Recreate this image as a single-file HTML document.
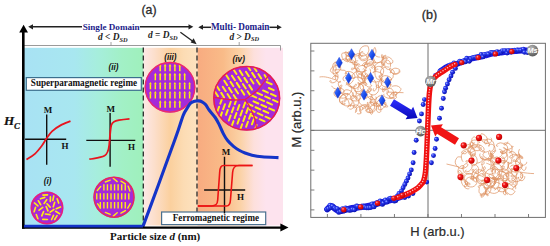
<!DOCTYPE html>
<html><head><meta charset="utf-8"><style>
html,body{margin:0;padding:0;background:#fff;}
body{width:550px;height:246px;overflow:hidden;}
svg{display:block;font-family:"Liberation Sans",sans-serif;}
</style></head><body>
<svg width="550" height="246" viewBox="0 0 550 246">
<rect width="550" height="246" fill="#fff"/>
<defs>
<linearGradient id="g1" x1="0" x2="1" y1="0" y2="0"><stop offset="0" stop-color="#a8e2f4"/><stop offset="0.42" stop-color="#a8e7f0"/><stop offset="0.62" stop-color="#a6eedc"/><stop offset="0.82" stop-color="#a2f0c6"/><stop offset="1" stop-color="#9ff0bc"/></linearGradient>
<linearGradient id="g2" x1="0" x2="1" y1="0" y2="0"><stop offset="0" stop-color="#fde8e6"/><stop offset="0.2" stop-color="#fcdfcc"/><stop offset="0.5" stop-color="#fbd09e"/><stop offset="0.75" stop-color="#fcdcb4"/><stop offset="1" stop-color="#fde2c0"/></linearGradient>
<linearGradient id="g3" x1="0" x2="1" y1="0" y2="0"><stop offset="0" stop-color="#f8ab80"/><stop offset="0.3" stop-color="#f9bb88"/><stop offset="0.5" stop-color="#fbd2a6"/><stop offset="0.66" stop-color="#fde0dc"/><stop offset="0.8" stop-color="#fde3ee"/><stop offset="1" stop-color="#fde3ee"/></linearGradient>
<radialGradient id="bd" cx="0.35" cy="0.35" r="0.65"><stop offset="0" stop-color="#a8b4ff"/><stop offset="0.35" stop-color="#2a3cf0"/><stop offset="1" stop-color="#0a10b0"/></radialGradient>
<radialGradient id="rd" cx="0.35" cy="0.35" r="0.65"><stop offset="0" stop-color="#ffb0b0"/><stop offset="0.35" stop-color="#f51a1a"/><stop offset="1" stop-color="#c00000"/></radialGradient>
<radialGradient id="gc" cx="0.4" cy="0.3" r="0.75"><stop offset="0" stop-color="#bcbcbc"/><stop offset="0.5" stop-color="#858585"/><stop offset="1" stop-color="#555"/></radialGradient>
<linearGradient id="dia" x1="0" x2="1" y1="0" y2="1"><stop offset="0" stop-color="#5a8cff"/><stop offset="0.5" stop-color="#1c50f0"/><stop offset="1" stop-color="#0c2cc0"/></linearGradient>
<linearGradient id="barr" x1="0" x2="0" y1="0" y2="1"><stop offset="0" stop-color="#3030ff"/><stop offset="1" stop-color="#0808b8"/></linearGradient>
<clipPath id="c1"><circle cx="47" cy="208" r="15.5"/></clipPath>
<clipPath id="c2"><circle cx="114" cy="197.2" r="19.7"/></clipPath>
<clipPath id="c3"><circle cx="170" cy="87.3" r="24.6"/></clipPath>
<clipPath id="c4"><ellipse cx="246.7" cy="98.3" rx="32.8" ry="31.6"/></clipPath>
</defs>
<rect x="24" y="47.8" width="119.5" height="177.7" fill="url(#g1)"/>
<rect x="143.5" y="47.8" width="54" height="177.7" fill="url(#g2)"/>
<rect x="197.5" y="47.8" width="85.5" height="177.7" fill="url(#g3)"/>
<line x1="143.3" y1="47.5" x2="143.3" y2="225" stroke="#2a2a2a" stroke-width="1.3" stroke-dasharray="5,3"/>
<line x1="197" y1="47.5" x2="197" y2="225" stroke="#2a2a2a" stroke-width="1.3" stroke-dasharray="5,3"/>
<path d="M24,45.5 H280.5 V50.5" fill="none" stroke="#9a9a9a" stroke-width="1"/>
<path d="M111,42 V45.5 M239.2,42 V45.5" fill="none" stroke="#8a8a8a" stroke-width="0.8"/>
<text x="141.5" y="14" font-family="Liberation Sans" font-size="12.3" fill="#2a2a2a" stroke="#2a2a2a" stroke-width="0.3">(a)</text>
<line x1="31" y1="26.8" x2="82" y2="26.8" stroke="#222" stroke-width="1.5"/>
<path d="M28.2,26.8 L33,24.2 L33,29.4 Z" fill="#222"/>
<text x="82.7" y="29.7" font-family="Liberation Serif" font-weight="bold" font-size="9.2" fill="#1c1c8a" textLength="57" lengthAdjust="spacingAndGlyphs">Single Domain</text>
<line x1="139.8" y1="26.8" x2="190" y2="26.8" stroke="#222" stroke-width="1.5"/>
<path d="M193.3,26.8 L188.5,24.2 L188.5,29.4 Z" fill="#222"/>
<line x1="201" y1="27.3" x2="211" y2="27.3" stroke="#222" stroke-width="1.5"/>
<path d="M198.3,27.3 L203,24.8 L203,29.8 Z" fill="#222"/>
<text x="210.9" y="30.3" font-family="Liberation Serif" font-weight="bold" font-size="9.3" fill="#1c1c8a" textLength="58.6" lengthAdjust="spacingAndGlyphs">Multi- Domain</text>
<line x1="269.5" y1="27.3" x2="279" y2="27.3" stroke="#222" stroke-width="1.5"/>
<path d="M281.8,27.3 L277,24.8 L277,29.8 Z" fill="#222"/>
<text x="98" y="40" font-family="Liberation Serif" font-weight="bold" font-size="9.4" fill="#222"><tspan font-style="italic">d</tspan> &lt; <tspan font-style="italic">D</tspan><tspan font-style="italic" font-size="6.3" dy="1.8">SD</tspan></text>
<text x="148" y="37.8" font-family="Liberation Serif" font-weight="bold" font-size="9.4" fill="#222"><tspan font-style="italic">d</tspan> = <tspan font-style="italic">D</tspan><tspan font-style="italic" font-size="6.3" dy="1.8">SD</tspan></text>
<text x="229.4" y="39.5" font-family="Liberation Serif" font-weight="bold" font-size="9.4" fill="#222"><tspan font-style="italic">d</tspan> &gt; <tspan font-style="italic">D</tspan><tspan font-style="italic" font-size="6.3" dy="1.8">SD</tspan></text>
<line x1="180.4" y1="32.3" x2="193.5" y2="41.8" stroke="#222" stroke-width="1.3"/>
<path d="M196.6,44.2 L190.6,42.4 L193.6,38.3 Z" fill="#222"/>
<text x="108.6" y="69.5" font-family="Liberation Sans" font-weight="bold" font-style="italic" font-size="8.2" fill="#111">(ii)</text>
<text x="164.2" y="59.5" font-family="Liberation Sans" font-weight="bold" font-style="italic" font-size="8.2" fill="#111">(iii)</text>
<text x="232.6" y="62.4" font-family="Liberation Sans" font-weight="bold" font-style="italic" font-size="8.2" fill="#111">(iv)</text>
<text x="43.8" y="183.6" font-family="Liberation Sans" font-weight="bold" font-style="italic" font-size="8.2" fill="#111">(i)</text>
<rect x="26.3" y="77.6" width="115" height="12.7" fill="#fff" stroke="#3b6f8e" stroke-width="1.2"/>
<text x="30.8" y="86.3" font-family="Liberation Serif" font-weight="bold" font-size="9.7" fill="#111" textLength="106.3" lengthAdjust="spacingAndGlyphs">Superparamagnetic regime</text>
<rect x="161.6" y="212" width="104.1" height="12.6" fill="#fff" stroke="#4a7090" stroke-width="1.2"/>
<text x="172.8" y="221.4" font-family="Liberation Serif" font-weight="bold" font-size="9.5" fill="#111" textLength="86.2" lengthAdjust="spacingAndGlyphs">Ferromagnetic regime</text>
<path d="M46.7,114.5 V164.8 M25.1,139.3 H66.2" stroke="#111" stroke-width="1.4" fill="none"/><text x="43.8" y="112.6" font-family="Liberation Serif" font-weight="bold" font-size="9" fill="#111">M</text><text x="61.4" y="149" font-family="Liberation Serif" font-weight="bold" font-size="9" fill="#111">H</text>
<path d="M26.4,159.6 C27.82,158.63 32.3,156.15 34.9,153.8 C37.5,151.45 40.1,148 42,145.5 C43.9,143 44.63,141.17 46.3,138.8 C47.97,136.43 49.63,133.53 52,131.3 C54.37,129.07 57.42,127.08 60.5,125.4 C63.58,123.72 68.83,121.9 70.5,121.2" fill="none" stroke="#e8141e" stroke-width="1.8"/>
<path d="M110.1,113 V166.8 M86.3,140.4 H135.3" stroke="#111" stroke-width="1.4" fill="none"/><text x="106.6" y="111.6" font-family="Liberation Serif" font-weight="bold" font-size="9" fill="#111">M</text><text x="127.9" y="150" font-family="Liberation Serif" font-weight="bold" font-size="9" fill="#111">H</text>
<path d="M89.3,159.2 C95,158.2 101,157.8 104.5,155.8 C107.5,154 108.6,150.5 109.2,145 C109.8,139 110.2,130 111.2,125.5 C112.3,121.6 115,121 119,120.2 C122,119.6 125,119.2 129.5,118.8" fill="none" stroke="#e8141e" stroke-width="1.8"/>
<path d="M224.5,156.8 V213.5 M204.1,190 H245.2" stroke="#111" stroke-width="1.4" fill="none"/><text x="221.7" y="154.8" font-family="Liberation Serif" font-weight="bold" font-size="9" fill="#111">M</text><text x="237.1" y="200" font-family="Liberation Serif" font-weight="bold" font-size="9" fill="#111">H</text>
<path d="M252.5,165.5 H223.5 C220.8,165.5 219.9,168 219.7,172 L217.7,200 C217.4,204.5 215.8,206 211.5,206 H197.8" fill="none" stroke="#ec1414" stroke-width="1.6"/>
<path d="M197.8,206 H226.5 C229.3,206 230.3,203.5 230.5,199.5 L232.6,172.5 C232.9,167.5 234.5,165.5 239,165.5 H252.5" fill="none" stroke="#ec1414" stroke-width="1.6"/>
<circle cx="47" cy="208" r="16.2" fill="#a52ad8"/>
<g clip-path="url(#c1)"><line x1="53.53" y1="215.34" x2="51.64" y2="219.53" stroke="#ffec12" stroke-width="1.65" stroke-linecap="round"/><line x1="42.75" y1="207.41" x2="39.09" y2="210.2" stroke="#ffec12" stroke-width="1.65" stroke-linecap="round"/><line x1="50.4" y1="196.87" x2="50.32" y2="201.47" stroke="#ffec12" stroke-width="1.65" stroke-linecap="round"/><line x1="46.16" y1="206.63" x2="47.97" y2="210.86" stroke="#ffec12" stroke-width="1.65" stroke-linecap="round"/><line x1="45.43" y1="214.02" x2="49.99" y2="214.63" stroke="#ffec12" stroke-width="1.65" stroke-linecap="round"/><line x1="60.47" y1="206.95" x2="56.22" y2="208.71" stroke="#ffec12" stroke-width="1.65" stroke-linecap="round"/><line x1="36.28" y1="214.5" x2="37.88" y2="218.81" stroke="#ffec12" stroke-width="1.65" stroke-linecap="round"/><line x1="34.39" y1="202.97" x2="37.91" y2="205.92" stroke="#ffec12" stroke-width="1.65" stroke-linecap="round"/><line x1="54.66" y1="202.37" x2="53.28" y2="206.76" stroke="#ffec12" stroke-width="1.65" stroke-linecap="round"/><line x1="44.77" y1="197.37" x2="40.4" y2="198.81" stroke="#ffec12" stroke-width="1.65" stroke-linecap="round"/><line x1="46.98" y1="203.76" x2="50.15" y2="207.09" stroke="#ffec12" stroke-width="1.65" stroke-linecap="round"/><line x1="42.82" y1="219.34" x2="47.42" y2="219.49" stroke="#ffec12" stroke-width="1.65" stroke-linecap="round"/><line x1="55.67" y1="211.28" x2="59.59" y2="213.68" stroke="#ffec12" stroke-width="1.65" stroke-linecap="round"/><line x1="46.74" y1="199.68" x2="44.08" y2="203.43" stroke="#ffec12" stroke-width="1.65" stroke-linecap="round"/><line x1="43.55" y1="211.63" x2="41.76" y2="215.86" stroke="#ffec12" stroke-width="1.65" stroke-linecap="round"/><line x1="57.13" y1="198.76" x2="58.69" y2="203.09" stroke="#ffec12" stroke-width="1.65" stroke-linecap="round"/><line x1="35.57" y1="207.27" x2="34.13" y2="211.64" stroke="#ffec12" stroke-width="1.65" stroke-linecap="round"/><line x1="38.32" y1="200.78" x2="40.73" y2="204.7" stroke="#ffec12" stroke-width="1.65" stroke-linecap="round"/><line x1="53.89" y1="209.49" x2="50.1" y2="212.09" stroke="#ffec12" stroke-width="1.65" stroke-linecap="round"/><line x1="53.79" y1="195.94" x2="52.84" y2="200.44" stroke="#ffec12" stroke-width="1.65" stroke-linecap="round"/><line x1="57.06" y1="215.64" x2="54.65" y2="219.55" stroke="#ffec12" stroke-width="1.65" stroke-linecap="round"/><line x1="47.5" y1="194.81" x2="42.91" y2="195.06" stroke="#ffec12" stroke-width="1.65" stroke-linecap="round"/></g>
<circle cx="47" cy="208" r="15.7" fill="none" stroke="#e8207a" stroke-width="1.5"/>
<circle cx="114" cy="197.2" r="20.5" fill="#a52ad8"/>
<g clip-path="url(#c2)"><line x1="103.88" y1="184.2" x2="103.88" y2="190.6" stroke="#ffec12" stroke-width="1.4"/><line x1="107.44" y1="184.2" x2="107.44" y2="190.6" stroke="#ffec12" stroke-width="1.4"/><line x1="111" y1="184.2" x2="111" y2="190.6" stroke="#ffec12" stroke-width="1.4"/><line x1="114.56" y1="184.2" x2="114.56" y2="190.6" stroke="#ffec12" stroke-width="1.4"/><line x1="118.12" y1="184.2" x2="118.12" y2="190.6" stroke="#ffec12" stroke-width="1.4"/><line x1="121.68" y1="184.2" x2="121.68" y2="190.6" stroke="#ffec12" stroke-width="1.4"/><line x1="125.24" y1="184.2" x2="125.24" y2="190.6" stroke="#ffec12" stroke-width="1.4"/><line x1="96.76" y1="193.2" x2="96.76" y2="199.6" stroke="#ffec12" stroke-width="1.4"/><line x1="100.32" y1="193.2" x2="100.32" y2="199.6" stroke="#ffec12" stroke-width="1.4"/><line x1="103.88" y1="193.2" x2="103.88" y2="199.6" stroke="#ffec12" stroke-width="1.4"/><line x1="107.44" y1="193.2" x2="107.44" y2="199.6" stroke="#ffec12" stroke-width="1.4"/><line x1="111" y1="193.2" x2="111" y2="199.6" stroke="#ffec12" stroke-width="1.4"/><line x1="114.56" y1="193.2" x2="114.56" y2="199.6" stroke="#ffec12" stroke-width="1.4"/><line x1="118.12" y1="193.2" x2="118.12" y2="199.6" stroke="#ffec12" stroke-width="1.4"/><line x1="121.68" y1="193.2" x2="121.68" y2="199.6" stroke="#ffec12" stroke-width="1.4"/><line x1="125.24" y1="193.2" x2="125.24" y2="199.6" stroke="#ffec12" stroke-width="1.4"/><line x1="128.8" y1="193.2" x2="128.8" y2="199.6" stroke="#ffec12" stroke-width="1.4"/><line x1="100.32" y1="202.1" x2="100.32" y2="208.5" stroke="#ffec12" stroke-width="1.4"/><line x1="103.88" y1="202.1" x2="103.88" y2="208.5" stroke="#ffec12" stroke-width="1.4"/><line x1="107.44" y1="202.1" x2="107.44" y2="208.5" stroke="#ffec12" stroke-width="1.4"/><line x1="111" y1="202.1" x2="111" y2="208.5" stroke="#ffec12" stroke-width="1.4"/><line x1="114.56" y1="202.1" x2="114.56" y2="208.5" stroke="#ffec12" stroke-width="1.4"/><line x1="118.12" y1="202.1" x2="118.12" y2="208.5" stroke="#ffec12" stroke-width="1.4"/><line x1="121.68" y1="202.1" x2="121.68" y2="208.5" stroke="#ffec12" stroke-width="1.4"/><line x1="125.24" y1="202.1" x2="125.24" y2="208.5" stroke="#ffec12" stroke-width="1.4"/><line x1="97.35" y1="190.54" x2="100.69" y2="186.56" stroke="#ffec12" stroke-width="1.4" stroke-linecap="round"/><line x1="105.37" y1="181.98" x2="110.23" y2="180.12" stroke="#ffec12" stroke-width="1.4" stroke-linecap="round"/><line x1="113.22" y1="178.27" x2="117.2" y2="181.61" stroke="#ffec12" stroke-width="1.4" stroke-linecap="round"/><line x1="120.94" y1="181.19" x2="125.4" y2="183.87" stroke="#ffec12" stroke-width="1.4" stroke-linecap="round"/><line x1="128.09" y1="186.11" x2="129.87" y2="190.99" stroke="#ffec12" stroke-width="1.4" stroke-linecap="round"/><line x1="127.68" y1="208.1" x2="130.28" y2="203.6" stroke="#ffec12" stroke-width="1.4" stroke-linecap="round"/><line x1="120.92" y1="213.17" x2="125.42" y2="210.57" stroke="#ffec12" stroke-width="1.4" stroke-linecap="round"/><line x1="113.22" y1="216.13" x2="117.2" y2="212.79" stroke="#ffec12" stroke-width="1.4" stroke-linecap="round"/><line x1="105.37" y1="212.42" x2="110.23" y2="214.28" stroke="#ffec12" stroke-width="1.4" stroke-linecap="round"/><line x1="97.53" y1="203.72" x2="100.51" y2="207.98" stroke="#ffec12" stroke-width="1.4" stroke-linecap="round"/></g>
<circle cx="114" cy="197.2" r="20.0" fill="none" stroke="#e82a5a" stroke-width="1.4"/>
<circle cx="170" cy="87.3" r="25.3" fill="#a52ad8"/>
<g clip-path="url(#c3)"><path d="M160.2,71.2 V66.1" stroke="#ffec12" stroke-width="1.5"/><path d="M158.8,66.2 L160.2,63.8 L161.6,66.2 Z" fill="#ffec12"/><path d="M165.1,71.2 V66.1" stroke="#ffec12" stroke-width="1.5"/><path d="M163.7,66.2 L165.1,63.8 L166.5,66.2 Z" fill="#ffec12"/><path d="M170,71.2 V66.1" stroke="#ffec12" stroke-width="1.5"/><path d="M168.6,66.2 L170,63.8 L171.4,66.2 Z" fill="#ffec12"/><path d="M174.9,71.2 V66.1" stroke="#ffec12" stroke-width="1.5"/><path d="M173.5,66.2 L174.9,63.8 L176.3,66.2 Z" fill="#ffec12"/><path d="M179.8,71.2 V66.1" stroke="#ffec12" stroke-width="1.5"/><path d="M178.4,66.2 L179.8,63.8 L181.2,66.2 Z" fill="#ffec12"/><path d="M155.3,80.2 V75.1" stroke="#ffec12" stroke-width="1.5"/><path d="M153.9,75.2 L155.3,72.8 L156.7,75.2 Z" fill="#ffec12"/><path d="M160.2,80.2 V75.1" stroke="#ffec12" stroke-width="1.5"/><path d="M158.8,75.2 L160.2,72.8 L161.6,75.2 Z" fill="#ffec12"/><path d="M165.1,80.2 V75.1" stroke="#ffec12" stroke-width="1.5"/><path d="M163.7,75.2 L165.1,72.8 L166.5,75.2 Z" fill="#ffec12"/><path d="M170,80.2 V75.1" stroke="#ffec12" stroke-width="1.5"/><path d="M168.6,75.2 L170,72.8 L171.4,75.2 Z" fill="#ffec12"/><path d="M174.9,80.2 V75.1" stroke="#ffec12" stroke-width="1.5"/><path d="M173.5,75.2 L174.9,72.8 L176.3,75.2 Z" fill="#ffec12"/><path d="M179.8,80.2 V75.1" stroke="#ffec12" stroke-width="1.5"/><path d="M178.4,75.2 L179.8,72.8 L181.2,75.2 Z" fill="#ffec12"/><path d="M184.7,80.2 V75.1" stroke="#ffec12" stroke-width="1.5"/><path d="M183.3,75.2 L184.7,72.8 L186.1,75.2 Z" fill="#ffec12"/><path d="M150.4,89.3 V84.2" stroke="#ffec12" stroke-width="1.5"/><path d="M149,84.3 L150.4,81.9 L151.8,84.3 Z" fill="#ffec12"/><path d="M155.3,89.3 V84.2" stroke="#ffec12" stroke-width="1.5"/><path d="M153.9,84.3 L155.3,81.9 L156.7,84.3 Z" fill="#ffec12"/><path d="M160.2,89.3 V84.2" stroke="#ffec12" stroke-width="1.5"/><path d="M158.8,84.3 L160.2,81.9 L161.6,84.3 Z" fill="#ffec12"/><path d="M165.1,89.3 V84.2" stroke="#ffec12" stroke-width="1.5"/><path d="M163.7,84.3 L165.1,81.9 L166.5,84.3 Z" fill="#ffec12"/><path d="M170,89.3 V84.2" stroke="#ffec12" stroke-width="1.5"/><path d="M168.6,84.3 L170,81.9 L171.4,84.3 Z" fill="#ffec12"/><path d="M174.9,89.3 V84.2" stroke="#ffec12" stroke-width="1.5"/><path d="M173.5,84.3 L174.9,81.9 L176.3,84.3 Z" fill="#ffec12"/><path d="M179.8,89.3 V84.2" stroke="#ffec12" stroke-width="1.5"/><path d="M178.4,84.3 L179.8,81.9 L181.2,84.3 Z" fill="#ffec12"/><path d="M184.7,89.3 V84.2" stroke="#ffec12" stroke-width="1.5"/><path d="M183.3,84.3 L184.7,81.9 L186.1,84.3 Z" fill="#ffec12"/><path d="M189.6,89.3 V84.2" stroke="#ffec12" stroke-width="1.5"/><path d="M188.2,84.3 L189.6,81.9 L191,84.3 Z" fill="#ffec12"/><path d="M150.4,98.5 V93.4" stroke="#ffec12" stroke-width="1.5"/><path d="M149,93.5 L150.4,91.1 L151.8,93.5 Z" fill="#ffec12"/><path d="M155.3,98.5 V93.4" stroke="#ffec12" stroke-width="1.5"/><path d="M153.9,93.5 L155.3,91.1 L156.7,93.5 Z" fill="#ffec12"/><path d="M160.2,98.5 V93.4" stroke="#ffec12" stroke-width="1.5"/><path d="M158.8,93.5 L160.2,91.1 L161.6,93.5 Z" fill="#ffec12"/><path d="M165.1,98.5 V93.4" stroke="#ffec12" stroke-width="1.5"/><path d="M163.7,93.5 L165.1,91.1 L166.5,93.5 Z" fill="#ffec12"/><path d="M170,98.5 V93.4" stroke="#ffec12" stroke-width="1.5"/><path d="M168.6,93.5 L170,91.1 L171.4,93.5 Z" fill="#ffec12"/><path d="M174.9,98.5 V93.4" stroke="#ffec12" stroke-width="1.5"/><path d="M173.5,93.5 L174.9,91.1 L176.3,93.5 Z" fill="#ffec12"/><path d="M179.8,98.5 V93.4" stroke="#ffec12" stroke-width="1.5"/><path d="M178.4,93.5 L179.8,91.1 L181.2,93.5 Z" fill="#ffec12"/><path d="M184.7,98.5 V93.4" stroke="#ffec12" stroke-width="1.5"/><path d="M183.3,93.5 L184.7,91.1 L186.1,93.5 Z" fill="#ffec12"/><path d="M189.6,98.5 V93.4" stroke="#ffec12" stroke-width="1.5"/><path d="M188.2,93.5 L189.6,91.1 L191,93.5 Z" fill="#ffec12"/><path d="M160.2,107.7 V102.6" stroke="#ffec12" stroke-width="1.5"/><path d="M158.8,102.7 L160.2,100.3 L161.6,102.7 Z" fill="#ffec12"/><path d="M165.1,107.7 V102.6" stroke="#ffec12" stroke-width="1.5"/><path d="M163.7,102.7 L165.1,100.3 L166.5,102.7 Z" fill="#ffec12"/><path d="M170,107.7 V102.6" stroke="#ffec12" stroke-width="1.5"/><path d="M168.6,102.7 L170,100.3 L171.4,102.7 Z" fill="#ffec12"/><path d="M174.9,107.7 V102.6" stroke="#ffec12" stroke-width="1.5"/><path d="M173.5,102.7 L174.9,100.3 L176.3,102.7 Z" fill="#ffec12"/><path d="M179.8,107.7 V102.6" stroke="#ffec12" stroke-width="1.5"/><path d="M178.4,102.7 L179.8,100.3 L181.2,102.7 Z" fill="#ffec12"/></g>
<circle cx="170" cy="87.3" r="24.8" fill="none" stroke="#ee2a6a" stroke-width="1.4"/>
<ellipse cx="246.7" cy="98.3" rx="33.5" ry="32.3" fill="#a52ad8"/>
<g clip-path="url(#c4)"><line x1="264.51" y1="75.05" x2="267.45" y2="79.58" stroke="#ffec12" stroke-width="1.95" stroke-linecap="round"/><line x1="253.63" y1="66.74" x2="256.57" y2="71.26" stroke="#ffec12" stroke-width="1.95" stroke-linecap="round"/><line x1="258.31" y1="73.95" x2="261.25" y2="78.48" stroke="#ffec12" stroke-width="1.95" stroke-linecap="round"/><line x1="247.43" y1="65.63" x2="250.37" y2="70.16" stroke="#ffec12" stroke-width="1.95" stroke-linecap="round"/><line x1="252.11" y1="72.85" x2="255.05" y2="77.38" stroke="#ffec12" stroke-width="1.95" stroke-linecap="round"/><line x1="256.79" y1="80.06" x2="259.74" y2="84.59" stroke="#ffec12" stroke-width="1.95" stroke-linecap="round"/><line x1="245.91" y1="71.75" x2="248.85" y2="76.27" stroke="#ffec12" stroke-width="1.95" stroke-linecap="round"/><line x1="250.59" y1="78.96" x2="253.54" y2="83.49" stroke="#ffec12" stroke-width="1.95" stroke-linecap="round"/><line x1="239.71" y1="70.65" x2="242.65" y2="75.17" stroke="#ffec12" stroke-width="1.95" stroke-linecap="round"/><line x1="244.39" y1="77.86" x2="247.34" y2="82.39" stroke="#ffec12" stroke-width="1.95" stroke-linecap="round"/><line x1="249.08" y1="85.07" x2="252.02" y2="89.6" stroke="#ffec12" stroke-width="1.95" stroke-linecap="round"/><line x1="233.51" y1="69.54" x2="236.45" y2="74.07" stroke="#ffec12" stroke-width="1.95" stroke-linecap="round"/><line x1="238.19" y1="76.76" x2="241.14" y2="81.29" stroke="#ffec12" stroke-width="1.95" stroke-linecap="round"/><line x1="242.88" y1="83.97" x2="245.82" y2="88.5" stroke="#ffec12" stroke-width="1.95" stroke-linecap="round"/><line x1="247.56" y1="91.18" x2="250.5" y2="95.71" stroke="#ffec12" stroke-width="1.95" stroke-linecap="round"/><line x1="231.99" y1="75.66" x2="234.94" y2="80.18" stroke="#ffec12" stroke-width="1.95" stroke-linecap="round"/><line x1="236.68" y1="82.87" x2="239.62" y2="87.4" stroke="#ffec12" stroke-width="1.95" stroke-linecap="round"/><line x1="241.36" y1="90.08" x2="244.3" y2="94.61" stroke="#ffec12" stroke-width="1.95" stroke-linecap="round"/><line x1="225.79" y1="74.55" x2="228.74" y2="79.08" stroke="#ffec12" stroke-width="1.95" stroke-linecap="round"/><line x1="230.48" y1="81.77" x2="233.42" y2="86.3" stroke="#ffec12" stroke-width="1.95" stroke-linecap="round"/><line x1="235.16" y1="88.98" x2="238.1" y2="93.51" stroke="#ffec12" stroke-width="1.95" stroke-linecap="round"/><line x1="224.28" y1="80.67" x2="227.22" y2="85.2" stroke="#ffec12" stroke-width="1.95" stroke-linecap="round"/><line x1="228.96" y1="87.88" x2="231.9" y2="92.41" stroke="#ffec12" stroke-width="1.95" stroke-linecap="round"/><line x1="233.65" y1="95.09" x2="236.59" y2="99.62" stroke="#ffec12" stroke-width="1.95" stroke-linecap="round"/><line x1="222.76" y1="86.78" x2="225.7" y2="91.31" stroke="#ffec12" stroke-width="1.95" stroke-linecap="round"/><line x1="227.45" y1="93.99" x2="230.39" y2="98.52" stroke="#ffec12" stroke-width="1.95" stroke-linecap="round"/><line x1="216.56" y1="85.68" x2="219.5" y2="90.21" stroke="#ffec12" stroke-width="1.95" stroke-linecap="round"/><line x1="221.25" y1="92.89" x2="224.19" y2="97.42" stroke="#ffec12" stroke-width="1.95" stroke-linecap="round"/><line x1="215.05" y1="91.79" x2="217.99" y2="96.32" stroke="#ffec12" stroke-width="1.95" stroke-linecap="round"/><line x1="266.74" y1="82.05" x2="271.68" y2="84.24" stroke="#ffec12" stroke-width="1.95" stroke-linecap="round"/><line x1="268.8" y1="88" x2="273.73" y2="90.19" stroke="#ffec12" stroke-width="1.95" stroke-linecap="round"/><line x1="263" y1="90.45" x2="267.93" y2="92.65" stroke="#ffec12" stroke-width="1.95" stroke-linecap="round"/><line x1="270.86" y1="93.95" x2="275.79" y2="96.15" stroke="#ffec12" stroke-width="1.95" stroke-linecap="round"/><line x1="257.2" y1="92.91" x2="262.14" y2="95.1" stroke="#ffec12" stroke-width="1.95" stroke-linecap="round"/><line x1="265.06" y1="96.4" x2="269.99" y2="98.6" stroke="#ffec12" stroke-width="1.95" stroke-linecap="round"/><line x1="272.92" y1="99.9" x2="277.85" y2="102.1" stroke="#ffec12" stroke-width="1.95" stroke-linecap="round"/><line x1="251.4" y1="95.36" x2="256.34" y2="97.55" stroke="#ffec12" stroke-width="1.95" stroke-linecap="round"/><line x1="259.26" y1="98.86" x2="264.19" y2="101.05" stroke="#ffec12" stroke-width="1.95" stroke-linecap="round"/><line x1="267.12" y1="102.35" x2="272.05" y2="104.55" stroke="#ffec12" stroke-width="1.95" stroke-linecap="round"/><line x1="253.46" y1="101.31" x2="258.39" y2="103.51" stroke="#ffec12" stroke-width="1.95" stroke-linecap="round"/><line x1="261.32" y1="104.81" x2="266.25" y2="107" stroke="#ffec12" stroke-width="1.95" stroke-linecap="round"/><line x1="269.17" y1="108.31" x2="274.11" y2="110.5" stroke="#ffec12" stroke-width="1.95" stroke-linecap="round"/><line x1="247.66" y1="103.76" x2="252.59" y2="105.96" stroke="#ffec12" stroke-width="1.95" stroke-linecap="round"/><line x1="255.52" y1="107.26" x2="260.45" y2="109.46" stroke="#ffec12" stroke-width="1.95" stroke-linecap="round"/><line x1="263.37" y1="110.76" x2="268.31" y2="112.96" stroke="#ffec12" stroke-width="1.95" stroke-linecap="round"/><line x1="249.72" y1="109.71" x2="254.65" y2="111.91" stroke="#ffec12" stroke-width="1.95" stroke-linecap="round"/><line x1="257.57" y1="113.21" x2="262.51" y2="115.41" stroke="#ffec12" stroke-width="1.95" stroke-linecap="round"/><line x1="265.43" y1="116.71" x2="270.36" y2="118.91" stroke="#ffec12" stroke-width="1.95" stroke-linecap="round"/><line x1="251.78" y1="115.67" x2="256.71" y2="117.86" stroke="#ffec12" stroke-width="1.95" stroke-linecap="round"/><line x1="259.63" y1="119.16" x2="264.57" y2="121.36" stroke="#ffec12" stroke-width="1.95" stroke-linecap="round"/><line x1="217.32" y1="111.76" x2="219.17" y2="106.69" stroke="#ffec12" stroke-width="1.95" stroke-linecap="round"/><line x1="220.26" y1="103.68" x2="222.11" y2="98.61" stroke="#ffec12" stroke-width="1.95" stroke-linecap="round"/><line x1="220.18" y1="117.38" x2="222.02" y2="112.3" stroke="#ffec12" stroke-width="1.95" stroke-linecap="round"/><line x1="223.12" y1="109.3" x2="224.96" y2="104.22" stroke="#ffec12" stroke-width="1.95" stroke-linecap="round"/><line x1="225.97" y1="114.91" x2="227.82" y2="109.84" stroke="#ffec12" stroke-width="1.95" stroke-linecap="round"/><line x1="228.91" y1="106.83" x2="230.76" y2="101.76" stroke="#ffec12" stroke-width="1.95" stroke-linecap="round"/><line x1="228.82" y1="120.53" x2="230.67" y2="115.45" stroke="#ffec12" stroke-width="1.95" stroke-linecap="round"/><line x1="231.76" y1="112.44" x2="233.61" y2="107.37" stroke="#ffec12" stroke-width="1.95" stroke-linecap="round"/><line x1="234.7" y1="104.36" x2="236.55" y2="99.29" stroke="#ffec12" stroke-width="1.95" stroke-linecap="round"/><line x1="231.67" y1="126.14" x2="233.52" y2="121.06" stroke="#ffec12" stroke-width="1.95" stroke-linecap="round"/><line x1="234.61" y1="118.06" x2="236.46" y2="112.98" stroke="#ffec12" stroke-width="1.95" stroke-linecap="round"/><line x1="237.55" y1="109.98" x2="239.4" y2="104.9" stroke="#ffec12" stroke-width="1.95" stroke-linecap="round"/><line x1="237.47" y1="123.67" x2="239.31" y2="118.6" stroke="#ffec12" stroke-width="1.95" stroke-linecap="round"/><line x1="240.41" y1="115.59" x2="242.25" y2="110.52" stroke="#ffec12" stroke-width="1.95" stroke-linecap="round"/><line x1="243.35" y1="107.51" x2="245.2" y2="102.43" stroke="#ffec12" stroke-width="1.95" stroke-linecap="round"/><line x1="240.32" y1="129.29" x2="242.16" y2="124.21" stroke="#ffec12" stroke-width="1.95" stroke-linecap="round"/><line x1="243.26" y1="121.2" x2="245.11" y2="116.13" stroke="#ffec12" stroke-width="1.95" stroke-linecap="round"/><line x1="246.2" y1="113.12" x2="248.05" y2="108.05" stroke="#ffec12" stroke-width="1.95" stroke-linecap="round"/><line x1="246.11" y1="126.82" x2="247.96" y2="121.74" stroke="#ffec12" stroke-width="1.95" stroke-linecap="round"/><line x1="249.05" y1="118.74" x2="250.9" y2="113.66" stroke="#ffec12" stroke-width="1.95" stroke-linecap="round"/><line x1="251.9" y1="124.35" x2="253.75" y2="119.28" stroke="#ffec12" stroke-width="1.95" stroke-linecap="round"/><line x1="254.76" y1="129.96" x2="256.6" y2="124.89" stroke="#ffec12" stroke-width="1.95" stroke-linecap="round"/></g>
<g clip-path="url(#c4)"><path d="M208,97 C209.33,97.1 213.17,97.23 216,97.6 C218.83,97.97 221.83,98.8 225,99.2 C228.17,99.6 231.65,99.93 235,100 C238.35,100.07 243.42,99.67 245.1,99.6 M245.1,99.6 C245.92,99 248.18,97.35 250,96 C251.82,94.65 254.17,93.17 256,91.5 C257.83,89.83 259.33,88.08 261,86 C262.67,83.92 264,82 266,79 C268,76 271.83,69.83 273,68 M245.1,99.6 C245.72,100.5 247.68,103.07 248.8,105 C249.92,106.93 250.85,109.03 251.8,111.2 C252.75,113.37 253.8,115.7 254.5,118 C255.2,120.3 255.58,122.33 256,125 C256.42,127.67 256.83,132.5 257,134" stroke="#e81e50" stroke-width="1.3" fill="none"/></g>
<ellipse cx="246.7" cy="98.3" rx="32.9" ry="31.699999999999996" fill="none" stroke="#e81e50" stroke-width="1.5"/>
<path d="M22,226.4 L143,226.4  C145.5,219.67 153.83,197.32 158,186 C162.17,174.68 165.42,165.58 168,158.5 C170.58,151.42 171.78,148.25 173.5,143.5 C175.22,138.75 176.67,134.73 178.3,130 C179.93,125.27 181.85,118.68 183.3,115.1 C184.75,111.52 185.78,110.48 187,108.5 C188.22,106.52 189.35,104.42 190.6,103.2 C191.85,101.98 193.13,101.58 194.5,101.2 C195.87,100.82 197.55,100.8 198.8,100.9 C200.05,101 200.88,101.2 202,101.8 C203.12,102.4 204.32,103.13 205.5,104.5 C206.68,105.87 207.48,107.83 209.1,110 C210.72,112.17 213.52,115.07 215.2,117.5 C216.88,119.93 217.85,121.92 219.2,124.6 C220.55,127.28 221.93,130.98 223.3,133.6 C224.67,136.22 225.7,138.17 227.4,140.3 C229.1,142.43 231.47,144.7 233.5,146.4 C235.53,148.1 237.68,149.4 239.6,150.5 C241.52,151.6 242.93,152.22 245,153 C247.07,153.78 249.17,154.57 252,155.2 C254.83,155.83 257.58,156.4 262,156.8 C266.42,157.2 275.75,157.47 278.5,157.6" fill="none" stroke="#1434c8" stroke-width="3.1" stroke-linejoin="round"/>
<line x1="23.3" y1="31" x2="23.3" y2="228.7" stroke="#000" stroke-width="2.6"/>
<path d="M23.6,24.8 L28,32.6 L19.2,32.6 Z" fill="#000"/>
<line x1="22" y1="227.7" x2="282" y2="227.7" stroke="#000" stroke-width="2.3"/>
<path d="M288.5,227.6 L280.4,223.6 L280.4,231.6 Z" fill="#000"/>
<line x1="24" y1="226.3" x2="143" y2="226.3" stroke="#1434c8" stroke-width="2.4"/>
<text transform="translate(3.9,124.9) scale(1.06,1)" x="0" y="0" font-family="Liberation Serif" font-weight="bold" font-style="italic" font-size="12.4" fill="#111" stroke="#111" stroke-width="0.2">H<tspan font-size="8.4" dy="4.4">C</tspan></text>
<text x="110" y="239.6" font-family="Liberation Serif" font-weight="bold" font-size="11" fill="#111" textLength="90.3" lengthAdjust="spacingAndGlyphs">Particle size <tspan font-style="italic">d</tspan> (nm)</text>
<text x="421.8" y="19.3" font-family="Liberation Sans" font-size="12.6" fill="#2a2a2a" stroke="#2a2a2a" stroke-width="0.3">(b)</text>
<rect x="310.8" y="43.3" width="234.59999999999997" height="174.10000000000002" fill="none" stroke="#6e6e6e" stroke-width="1"/>
<line x1="428" y1="43.3" x2="428" y2="217.4" stroke="#6e6e6e" stroke-width="1"/>
<line x1="310.8" y1="130.3" x2="545.4" y2="130.3" stroke="#6e6e6e" stroke-width="1"/>
<path d="M310.8,51 h3.6 M310.8,70.86 h3.6 M310.8,90.72 h3.6 M310.8,110.58 h3.6 M310.8,130.44 h3.6 M310.8,150.3 h3.6 M310.8,170.16 h3.6 M310.8,190.02 h3.6 M310.8,209.88 h3.6 M327.4,217.4 v-3.4 M360.92,217.4 v-3.4 M394.44,217.4 v-3.4 M427.96,217.4 v-3.4 M461.48,217.4 v-3.4 M495,217.4 v-3.4 M528.52,217.4 v-3.4 " stroke="#6e6e6e" stroke-width="0.9" fill="none"/>
<text x="410.2" y="235.5" font-family="Liberation Sans" font-size="12.9" fill="#2a2a2a" stroke="#2a2a2a" stroke-width="0.2">H (arb.u.)</text>
<text transform="translate(301.2,147.6) rotate(-90)" x="0" y="0" font-family="Liberation Sans" font-size="12.9" fill="#2a2a2a" stroke="#2a2a2a" stroke-width="0.2">M (arb.u.)</text>
<path d="M353.21,54.29 C353.07,54.49 352.68,55.15 352.35,55.48 C352.03,55.8 351.68,56.05 351.25,56.24 C350.82,56.43 350.27,56.57 349.78,56.61 C349.29,56.65 348.75,56.56 348.31,56.47 C347.86,56.37 347.47,56.21 347.12,56.04 C346.76,55.88 346.45,55.77 346.17,55.49 C345.89,55.21 345.62,54.73 345.43,54.38 C345.25,54.03 345.13,53.69 345.06,53.38 C345,53.07 345.04,52.77 345.04,52.53 C345.03,52.3 344.81,52.05 345.04,51.97 C345.27,51.9 345.95,51.98 346.42,52.09 C346.89,52.21 347.41,52.46 347.84,52.64 C348.27,52.83 348.65,53.02 349,53.21 C349.36,53.4 349.69,53.55 349.98,53.78 C350.27,54.01 350.55,54.32 350.75,54.6 C350.96,54.87 351.12,55.17 351.22,55.43 C351.32,55.69 351.32,55.93 351.33,56.15 C351.35,56.36 351.31,56.57 351.3,56.7 C351.28,56.82 351.31,56.87 351.24,56.92 C351.18,56.96 350.99,56.98 350.91,56.99 C350.83,57 350.79,57.03 350.77,56.99 C350.75,56.96 350.75,56.9 350.79,56.78 C350.83,56.67 350.88,56.49 351.02,56.3 C351.16,56.11 351.59,55.94 351.64,55.63 C351.68,55.32 351.08,54.81 351.29,54.44 C351.51,54.08 352.3,53.48 352.94,53.47 C353.59,53.46 354.58,54.23 355.15,54.37 C355.72,54.52 355.89,54.47 356.37,54.32 C356.85,54.17 357.51,53.53 358.04,53.49 C358.57,53.45 359.09,53.79 359.54,54.08 C359.99,54.37 360.43,54.89 360.73,55.24 C361.03,55.6 361.22,55.92 361.33,56.19 C361.45,56.47 361.45,56.72 361.42,56.89 C361.38,57.06 361.26,57.14 361.11,57.22 C360.97,57.3 360.72,57.37 360.53,57.37 C360.33,57.36 360.09,57.27 359.93,57.18 C359.78,57.09 359.67,56.97 359.57,56.81 C359.47,56.65 359.4,56.51 359.32,56.23 C359.24,55.96 359.08,55.54 359.09,55.14 C359.1,54.73 359.22,54.2 359.4,53.83 C359.58,53.45 359.84,53.21 360.18,52.89 C360.53,52.57 360.98,52.16 361.47,51.9 C361.96,51.64 362.85,51.43 363.12,51.33" fill="none" stroke="#de9160" stroke-width="0.72"/><path d="M363.06,54.69 C363.03,54.87 363.01,55.52 362.9,55.77 C362.79,56.01 362.6,56.08 362.4,56.17 C362.21,56.26 362.01,56.39 361.73,56.31 C361.46,56.24 361.05,56.02 360.74,55.72 C360.44,55.42 360.13,54.98 359.92,54.51 C359.7,54.04 359.52,53.48 359.46,52.91 C359.4,52.34 359.42,51.72 359.56,51.1 C359.7,50.47 359.99,49.74 360.29,49.15 C360.59,48.57 360.93,48.04 361.37,47.58 C361.81,47.13 362.36,46.7 362.92,46.42 C363.48,46.13 364.1,45.96 364.71,45.87 C365.32,45.77 366.02,45.78 366.58,45.86 C367.14,45.94 367.74,45.99 368.06,46.33 C368.38,46.68 368.36,47.34 368.5,47.93 C368.63,48.52 368.89,49.25 368.88,49.89 C368.87,50.53 368.67,51.18 368.43,51.79 C368.2,52.39 367.83,53 367.48,53.51 C367.12,54.02 366.8,54.5 366.31,54.86 C365.83,55.22 365.05,55.49 364.54,55.67 C364.03,55.85 363.74,55.99 363.26,55.97 C362.79,55.94 362.08,55.69 361.68,55.54 C361.28,55.39 361.1,55.26 360.86,55.07 C360.62,54.88 360.36,54.62 360.26,54.4 C360.15,54.19 360.17,53.97 360.22,53.76 C360.27,53.55 360.4,53.29 360.55,53.13 C360.7,52.97 360.82,52.88 361.1,52.82 C361.38,52.76 361.82,52.71 362.25,52.79 C362.68,52.87 363.22,53.05 363.68,53.3 C364.14,53.55 364.61,53.92 365.03,54.31 C365.45,54.7 365.86,55.12 366.2,55.64 C366.54,56.16 366.89,56.77 367.09,57.44 C367.29,58.11 367.43,58.92 367.41,59.64 C367.38,60.36 367.14,61.14 366.94,61.77 C366.73,62.39 366.53,62.88 366.18,63.37 C365.84,63.87 365.23,64.41 364.86,64.74 C364.48,65.07 364.2,65.22 363.93,65.35 C363.65,65.48 363.45,65.57 363.19,65.51 C362.92,65.46 362.28,65.34 362.32,65.03 C362.36,64.71 363.21,63.93 363.44,63.61 C363.68,63.29 363.56,63.25 363.73,63.09 C363.91,62.92 364.18,62.76 364.49,62.62 C364.79,62.48 365.23,62.46 365.56,62.26 C365.9,62.06 366.35,61.56 366.51,61.42" fill="none" stroke="#de9160" stroke-width="0.72"/><path d="M367.82,54.46 C367.85,54.35 367.95,53.92 368.05,53.79 C368.15,53.67 368.34,53.71 368.43,53.72 C368.52,53.73 368.55,53.78 368.58,53.87 C368.61,53.96 368.64,54.06 368.64,54.28 C368.63,54.5 368.61,54.86 368.52,55.19 C368.44,55.52 368.29,55.92 368.11,56.27 C367.93,56.61 367.7,56.97 367.45,57.28 C367.2,57.6 366.96,57.88 366.61,58.16 C366.25,58.43 365.78,58.73 365.34,58.92 C364.91,59.11 364.48,59.23 364,59.29 C363.51,59.36 362.91,59.36 362.41,59.32 C361.92,59.28 361.44,59.19 361.03,59.03 C360.61,58.87 360.23,58.64 359.92,58.36 C359.61,58.08 359.36,57.69 359.18,57.35 C359,57.01 358.94,56.61 358.86,56.3 C358.79,55.99 358.75,55.74 358.73,55.5 C358.71,55.27 358.67,55.07 358.72,54.88 C358.78,54.69 358.91,54.5 359.05,54.36 C359.18,54.22 359.38,54.11 359.52,54.05 C359.66,53.99 359.8,53.95 359.9,54.01 C359.99,54.06 360.07,54.25 360.08,54.38 C360.08,54.51 360.04,54.64 359.9,54.79 C359.76,54.93 359.5,55.12 359.22,55.26 C358.93,55.4 358.59,55.52 358.22,55.63 C357.85,55.73 357.45,55.83 356.98,55.9 C356.52,55.96 355.94,56.04 355.43,56.01 C354.91,55.97 354.33,55.87 353.87,55.68 C353.41,55.48 353.03,55.13 352.66,54.85 C352.29,54.56 351.94,54.27 351.67,53.98 C351.4,53.69 351.2,53.34 351.03,53.09 C350.86,52.85 350.77,52.7 350.68,52.52 C350.59,52.35 350.51,52.18 350.49,52.04 C350.48,51.9 350.57,51.74 350.61,51.68 C350.66,51.62 350.72,51.64 350.77,51.68 C350.83,51.72 350.9,51.79 350.94,51.91 C350.97,52.03 350.95,52.18 350.97,52.41 C350.98,52.64 351.01,52.93 351,53.29 C351,53.65 351.01,54.12 350.95,54.59 C350.88,55.06 350.77,55.62 350.61,56.11 C350.46,56.61 350.28,57.12 350.02,57.56 C349.77,57.99 349.44,58.41 349.1,58.73 C348.76,59.05 348.37,59.3 348.01,59.48 C347.65,59.66 347.11,59.74 346.93,59.8" fill="none" stroke="#de9160" stroke-width="0.72"/><path d="M379.92,57.05 C379.7,57.05 379.06,57.09 378.58,57.01 C378.11,56.94 377.56,56.81 377.08,56.61 C376.6,56.41 376.14,56.17 375.69,55.8 C375.23,55.44 374.69,54.9 374.35,54.44 C374.01,53.98 373.8,53.58 373.65,53.05 C373.5,52.51 373.47,51.8 373.46,51.26 C373.45,50.72 373.47,50.27 373.58,49.79 C373.7,49.31 373.92,48.79 374.14,48.39 C374.35,47.99 374.66,47.36 374.88,47.37 C375.1,47.39 375.34,48.2 375.47,48.48 C375.6,48.77 375.59,48.81 375.65,49.06 C375.72,49.32 375.8,49.65 375.85,50.01 C375.91,50.38 376.01,50.85 376,51.27 C375.99,51.68 375.88,52.08 375.8,52.49 C375.71,52.9 375.63,53.35 375.47,53.72 C375.31,54.1 375.12,54.43 374.85,54.75 C374.58,55.07 374.17,55.38 373.84,55.64 C373.5,55.91 373.2,56.16 372.86,56.33 C372.52,56.51 372.15,56.64 371.78,56.69 C371.42,56.75 371.03,56.75 370.66,56.67 C370.29,56.59 369.86,56.34 369.56,56.2 C369.25,56.07 369.02,55.96 368.83,55.87 C368.63,55.78 368.49,55.76 368.38,55.67 C368.28,55.58 368.27,55.42 368.22,55.34 C368.18,55.26 368.13,55.24 368.11,55.2 C368.08,55.17 368.05,55.15 368.08,55.15 C368.11,55.15 368.22,55.1 368.27,55.18 C368.33,55.26 368.39,55.44 368.42,55.63 C368.45,55.81 368.44,56.02 368.44,56.29 C368.45,56.57 368.51,56.99 368.43,57.3 C368.36,57.61 368.19,57.86 368.01,58.15 C367.83,58.45 367.65,58.77 367.37,59.06 C367.09,59.34 366.7,59.62 366.34,59.84 C365.98,60.06 365.59,60.22 365.2,60.37 C364.8,60.51 364.39,60.65 363.95,60.72 C363.51,60.78 363,60.81 362.56,60.75 C362.12,60.7 361.7,60.57 361.32,60.37 C360.93,60.18 360.54,59.82 360.24,59.58 C359.93,59.34 359.68,59.19 359.49,58.95 C359.29,58.72 359.18,58.39 359.07,58.16 C358.96,57.94 358.86,57.79 358.8,57.6 C358.74,57.42 358.67,57.22 358.7,57.04 C358.73,56.86 358.93,56.61 358.98,56.52" fill="none" stroke="#de9160" stroke-width="0.72"/><path d="M338.23,66.23 C338,66.17 337.28,66.04 336.83,65.85 C336.37,65.66 335.79,65.26 335.49,65.08 C335.19,64.89 335.15,64.92 335.03,64.74 C334.92,64.55 334.79,64.23 334.78,63.98 C334.77,63.73 334.84,63.49 334.98,63.25 C335.12,63.01 335.36,62.71 335.6,62.54 C335.85,62.37 336.13,62.27 336.46,62.22 C336.79,62.17 337.24,62.17 337.6,62.26 C337.95,62.36 338.27,62.57 338.58,62.8 C338.88,63.03 339.15,63.31 339.43,63.66 C339.7,64.01 340.06,64.49 340.24,64.92 C340.42,65.35 340.43,65.72 340.5,66.24 C340.57,66.75 340.66,67.46 340.67,68.01 C340.68,68.56 340.83,69.1 340.58,69.54 C340.32,69.98 339.45,70.29 339.15,70.65 C338.84,71 338.93,71.35 338.74,71.66 C338.55,71.97 338.23,72.28 338.02,72.51 C337.81,72.74 337.67,72.91 337.48,73.05 C337.29,73.19 337.09,73.31 336.88,73.37 C336.68,73.44 336.46,73.48 336.26,73.45 C336.05,73.41 335.8,73.28 335.67,73.17 C335.54,73.07 335.48,72.87 335.46,72.81 C335.45,72.75 335.52,72.82 335.58,72.83 C335.63,72.84 335.72,72.8 335.81,72.85 C335.91,72.89 336.04,73.09 336.17,73.08 C336.29,73.07 336.35,72.69 336.56,72.78 C336.76,72.87 337.19,73.31 337.39,73.63 C337.6,73.94 337.67,74.28 337.78,74.67 C337.89,75.07 338,75.51 338.04,75.99 C338.08,76.48 338.08,77.07 338.01,77.61 C337.95,78.14 337.83,78.74 337.65,79.22 C337.48,79.69 337.3,80.05 336.97,80.46 C336.64,80.87 336.12,81.32 335.66,81.65 C335.21,81.99 334.71,82.26 334.25,82.45 C333.8,82.65 333.38,82.79 332.93,82.83 C332.48,82.87 331.96,82.79 331.57,82.71 C331.17,82.62 330.81,82.48 330.54,82.31 C330.28,82.14 330.09,81.88 329.98,81.69 C329.86,81.5 329.86,81.32 329.85,81.17 C329.84,81.02 329.84,80.85 329.93,80.78 C330.01,80.7 330.22,80.69 330.39,80.71 C330.56,80.73 330.73,80.76 330.96,80.88 C331.18,81.01 331.61,81.38 331.74,81.48" fill="none" stroke="#de9160" stroke-width="0.72"/><path d="M346.3,59.24 C346.47,59.33 347.07,59.59 347.3,59.82 C347.54,60.05 347.67,60.39 347.71,60.61 C347.74,60.83 347.63,61 347.49,61.12 C347.35,61.25 347.12,61.35 346.87,61.37 C346.62,61.39 346.3,61.35 345.98,61.24 C345.67,61.14 345.37,61 344.98,60.76 C344.58,60.52 343.97,60.18 343.6,59.82 C343.23,59.46 343.03,59.01 342.77,58.58 C342.52,58.14 342.26,57.74 342.09,57.22 C341.91,56.69 341.77,56.05 341.74,55.45 C341.7,54.86 341.66,54.04 341.87,53.65 C342.07,53.27 342.57,53.27 342.96,53.12 C343.36,52.98 343.77,52.87 344.25,52.79 C344.74,52.71 345.32,52.6 345.89,52.64 C346.46,52.69 347.15,52.83 347.66,53.06 C348.17,53.29 348.52,53.67 348.94,54.04 C349.36,54.4 349.88,54.84 350.18,55.27 C350.48,55.7 350.6,56.18 350.75,56.62 C350.91,57.05 351.03,57.5 351.1,57.88 C351.16,58.26 351.19,58.58 351.14,58.91 C351.09,59.23 350.98,59.56 350.82,59.82 C350.65,60.08 350.34,60.32 350.16,60.46 C349.97,60.6 349.86,60.66 349.7,60.65 C349.54,60.65 349.3,60.55 349.19,60.44 C349.07,60.34 349.03,60.15 349.01,60.02 C348.99,59.88 348.98,59.73 349.09,59.62 C349.19,59.51 349.42,59.42 349.64,59.35 C349.86,59.28 350.09,59.23 350.39,59.22 C350.69,59.21 351.13,59.19 351.45,59.27 C351.77,59.35 351.99,59.51 352.31,59.7 C352.62,59.9 352.97,60.13 353.32,60.44 C353.67,60.76 354.13,61.18 354.41,61.6 C354.68,62.03 354.87,62.54 354.98,63.01 C355.08,63.48 355.07,63.94 355.06,64.43 C355.05,64.93 355,65.49 354.91,65.98 C354.83,66.47 354.67,66.97 354.56,67.37 C354.45,67.77 354.43,68.06 354.25,68.38 C354.06,68.69 353.74,69.02 353.45,69.25 C353.16,69.47 352.79,69.67 352.52,69.73 C352.25,69.78 352.02,69.61 351.84,69.6 C351.67,69.58 351.56,69.64 351.47,69.63 C351.37,69.63 351.27,69.61 351.26,69.56 C351.25,69.5 351.38,69.33 351.41,69.29" fill="none" stroke="#de9160" stroke-width="0.72"/><path d="M353.83,62.17 C353.61,62.22 353.01,62.45 352.52,62.5 C352.03,62.55 351.47,62.57 350.91,62.46 C350.35,62.35 349.64,62.15 349.14,61.87 C348.64,61.6 348.29,61.25 347.9,60.81 C347.52,60.37 347.11,59.76 346.85,59.24 C346.59,58.71 346.46,58.15 346.33,57.66 C346.2,57.17 346.07,56.78 346.09,56.28 C346.11,55.78 346.28,55.13 346.45,54.65 C346.62,54.17 346.91,53.75 347.13,53.4 C347.34,53.05 347.49,52.78 347.72,52.54 C347.95,52.31 348.23,52.11 348.5,51.99 C348.78,51.87 349.13,51.82 349.35,51.82 C349.58,51.82 349.76,51.84 349.87,51.99 C349.97,52.15 350.03,52.49 349.99,52.75 C349.95,53.01 349.68,53.19 349.62,53.55 C349.55,53.92 349.69,54.55 349.63,54.95 C349.57,55.34 349.45,55.78 349.27,55.93 C349.08,56.07 348.69,55.84 348.54,55.82 C348.38,55.8 348.42,55.85 348.33,55.81 C348.25,55.77 348.01,55.74 348.03,55.59 C348.05,55.43 348.32,55.05 348.44,54.89 C348.57,54.72 348.63,54.72 348.76,54.61 C348.89,54.51 349.03,54.34 349.23,54.25 C349.44,54.17 349.75,54.1 350.01,54.1 C350.28,54.09 350.51,54.15 350.81,54.21 C351.12,54.26 351.49,54.3 351.84,54.44 C352.2,54.58 352.62,54.81 352.93,55.06 C353.23,55.3 353.41,55.61 353.66,55.9 C353.91,56.19 354.18,56.46 354.43,56.81 C354.68,57.15 354.98,57.62 355.16,58 C355.34,58.38 355.46,58.7 355.51,59.08 C355.57,59.47 355.5,59.93 355.47,60.3 C355.44,60.68 355.39,61.03 355.35,61.33 C355.3,61.63 355.31,61.86 355.22,62.09 C355.12,62.32 354.93,62.56 354.78,62.72 C354.62,62.87 354.38,62.96 354.27,63.03 C354.17,63.09 354.17,63.09 354.14,63.09 C354.12,63.1 354.07,63.14 354.12,63.06 C354.17,62.98 354.45,62.83 354.44,62.63 C354.43,62.42 353.93,62.05 354.05,61.84 C354.16,61.63 354.72,61.5 355.14,61.36 C355.56,61.21 356.06,61.05 356.56,60.95 C357.07,60.86 357.89,60.8 358.15,60.77" fill="none" stroke="#de9160" stroke-width="0.72"/><path d="M366.69,61.84 C366.77,62.16 367.1,63.18 367.19,63.76 C367.29,64.33 367.3,64.82 367.24,65.28 C367.18,65.74 367.01,66.19 366.83,66.52 C366.66,66.86 366.44,67.1 366.2,67.29 C365.96,67.48 365.67,67.65 365.41,67.66 C365.15,67.67 364.82,67.49 364.65,67.35 C364.47,67.2 364.43,67.06 364.37,66.81 C364.3,66.57 364.19,66.19 364.26,65.87 C364.32,65.54 364.46,65.14 364.76,64.85 C365.06,64.56 365.63,64.33 366.06,64.13 C366.49,63.93 366.87,63.71 367.32,63.62 C367.78,63.54 368.28,63.6 368.79,63.62 C369.3,63.63 369.88,63.6 370.37,63.7 C370.86,63.8 371.26,63.97 371.72,64.21 C372.18,64.45 372.7,64.82 373.11,65.13 C373.53,65.45 373.87,65.78 374.2,66.1 C374.54,66.43 374.86,66.76 375.1,67.1 C375.35,67.44 375.56,67.8 375.67,68.14 C375.79,68.48 375.78,68.91 375.79,69.15 C375.79,69.39 375.8,69.45 375.71,69.6 C375.62,69.74 375.37,69.95 375.22,70.01 C375.07,70.06 374.93,69.97 374.82,69.93 C374.72,69.89 374.71,69.9 374.6,69.77 C374.5,69.64 374.17,69.43 374.2,69.16 C374.23,68.9 374.61,68.42 374.78,68.19 C374.95,67.97 375.03,67.96 375.23,67.8 C375.44,67.65 375.66,67.48 376,67.27 C376.34,67.07 376.85,66.71 377.27,66.56 C377.69,66.42 378.09,66.41 378.52,66.4 C378.95,66.38 379.42,66.39 379.85,66.49 C380.28,66.6 380.69,66.81 381.13,67.03 C381.56,67.25 382.09,67.48 382.44,67.8 C382.78,68.13 382.98,68.51 383.19,68.98 C383.39,69.46 383.61,70.11 383.67,70.64 C383.74,71.18 383.68,71.71 383.57,72.2 C383.46,72.69 383.22,73.17 383.01,73.6 C382.8,74.03 382.57,74.44 382.32,74.79 C382.07,75.13 381.8,75.43 381.53,75.68 C381.25,75.92 380.98,76.15 380.68,76.26 C380.38,76.38 379.99,76.35 379.74,76.36 C379.48,76.37 379.28,76.41 379.14,76.33 C379,76.26 378.91,76.03 378.91,75.92 C378.91,75.82 379.11,75.72 379.15,75.68" fill="none" stroke="#de9160" stroke-width="0.72"/><path d="M368.78,63.88 C368.76,63.74 368.6,63.28 368.64,63.02 C368.67,62.76 368.77,62.49 368.97,62.33 C369.17,62.16 369.42,62.11 369.82,62.05 C370.22,61.98 370.88,61.87 371.38,61.94 C371.87,62.01 372.43,62.04 372.79,62.46 C373.14,62.87 373.26,63.93 373.49,64.42 C373.72,64.9 373.95,65.01 374.17,65.37 C374.39,65.74 374.66,66.19 374.82,66.61 C374.97,67.03 375.05,67.47 375.09,67.9 C375.13,68.32 375.1,68.73 375.06,69.17 C375.01,69.61 374.93,70.11 374.79,70.52 C374.66,70.94 374.42,71.35 374.25,71.67 C374.09,71.98 373.91,72.22 373.8,72.41 C373.68,72.6 373.69,72.73 373.58,72.81 C373.47,72.89 373.25,72.92 373.16,72.89 C373.07,72.87 373.02,72.78 373.04,72.65 C373.07,72.52 373.17,72.3 373.3,72.13 C373.42,71.97 373.6,71.76 373.8,71.66 C373.99,71.57 374.21,71.58 374.46,71.56 C374.72,71.54 374.98,71.54 375.32,71.55 C375.66,71.56 376.08,71.57 376.49,71.62 C376.9,71.66 377.33,71.74 377.78,71.85 C378.22,71.96 378.74,72.12 379.16,72.27 C379.59,72.41 379.97,72.56 380.33,72.73 C380.68,72.9 380.94,73.07 381.3,73.29 C381.65,73.51 382.19,73.83 382.43,74.06 C382.68,74.28 382.74,74.46 382.79,74.63 C382.83,74.8 382.77,74.97 382.71,75.07 C382.65,75.16 382.57,75.23 382.43,75.2 C382.29,75.17 382.05,75.05 381.86,74.91 C381.68,74.76 381.53,74.58 381.34,74.32 C381.15,74.06 380.85,73.69 380.71,73.33 C380.57,72.98 380.5,72.61 380.49,72.2 C380.48,71.78 380.51,71.29 380.64,70.86 C380.76,70.44 380.96,70.08 381.22,69.66 C381.48,69.23 381.77,68.64 382.19,68.31 C382.62,67.98 383.31,67.87 383.76,67.66 C384.22,67.46 384.52,67.21 384.92,67.08 C385.31,66.95 385.73,66.93 386.15,66.9 C386.56,66.88 387.06,66.91 387.42,66.93 C387.79,66.95 388.1,66.99 388.34,67.04 C388.59,67.09 388.76,67.15 388.91,67.24 C389.05,67.32 389.14,67.49 389.19,67.54" fill="none" stroke="#de9160" stroke-width="0.72"/><path d="M383.82,64.59 C383.8,64.65 383.77,64.87 383.69,64.98 C383.61,65.1 383.47,65.24 383.35,65.28 C383.22,65.31 383.08,65.29 382.95,65.2 C382.82,65.12 382.67,64.95 382.56,64.76 C382.45,64.57 382.35,64.33 382.27,64.05 C382.19,63.77 382.14,63.44 382.1,63.07 C382.05,62.71 382.03,62.35 382.02,61.88 C382.01,61.42 381.95,60.83 382.01,60.3 C382.08,59.77 382.23,59.21 382.41,58.71 C382.59,58.21 382.88,57.69 383.08,57.3 C383.28,56.9 383.4,56.62 383.62,56.35 C383.84,56.07 384.15,55.81 384.42,55.64 C384.68,55.47 384.99,55.37 385.21,55.34 C385.43,55.3 385.62,55.38 385.76,55.44 C385.91,55.5 386.02,55.6 386.09,55.7 C386.15,55.81 386.15,55.99 386.14,56.08 C386.13,56.17 386.09,56.2 386.02,56.24 C385.95,56.29 385.9,56.34 385.71,56.35 C385.52,56.36 385.18,56.17 384.88,56.3 C384.58,56.42 384.23,56.89 383.92,57.1 C383.6,57.31 383.31,57.43 383.01,57.54 C382.71,57.64 382.36,57.68 382.12,57.72 C381.87,57.75 381.72,57.83 381.53,57.76 C381.33,57.68 381.07,57.39 380.96,57.28 C380.85,57.18 380.85,57.19 380.87,57.12 C380.89,57.06 380.96,56.96 381.07,56.89 C381.19,56.81 381.38,56.67 381.58,56.67 C381.78,56.66 382.09,56.75 382.3,56.86 C382.51,56.96 382.65,57.1 382.84,57.32 C383.03,57.54 383.29,57.85 383.44,58.17 C383.6,58.49 383.66,58.83 383.76,59.24 C383.86,59.65 383.99,60.18 384.03,60.64 C384.08,61.1 384.07,61.49 384.05,61.97 C384.03,62.45 383.99,63.04 383.91,63.53 C383.83,64.01 383.68,64.48 383.57,64.86 C383.45,65.25 383.4,65.54 383.23,65.84 C383.05,66.15 382.75,66.46 382.52,66.69 C382.29,66.91 382.05,67.09 381.84,67.17 C381.62,67.26 381.38,67.23 381.23,67.17 C381.09,67.11 380.97,66.97 380.96,66.81 C380.96,66.65 381.09,66.4 381.23,66.22 C381.36,66.04 381.55,65.91 381.79,65.75 C382.04,65.59 382.55,65.33 382.71,65.25" fill="none" stroke="#de9160" stroke-width="0.72"/><path d="M385.5,58.55 C385.61,58.49 385.99,58.28 386.19,58.22 C386.38,58.17 386.53,58.22 386.67,58.22 C386.81,58.21 386.93,58.14 387.05,58.2 C387.16,58.26 387.33,58.44 387.36,58.56 C387.39,58.67 387.33,58.79 387.24,58.88 C387.15,58.97 386.94,59.07 386.81,59.09 C386.69,59.1 386.68,58.96 386.49,58.98 C386.3,59 385.95,59.34 385.69,59.22 C385.42,59.11 385.27,58.52 384.91,58.27 C384.56,58.03 383.95,57.94 383.56,57.74 C383.16,57.54 382.81,57.29 382.53,57.08 C382.25,56.87 382.04,56.69 381.87,56.46 C381.69,56.23 381.53,55.97 381.47,55.7 C381.41,55.44 381.46,55.04 381.51,54.86 C381.56,54.68 381.66,54.65 381.76,54.61 C381.87,54.58 381.96,54.6 382.12,54.67 C382.27,54.74 382.54,54.88 382.7,55.03 C382.85,55.18 382.94,55.3 383.07,55.57 C383.21,55.84 383.44,56.29 383.5,56.65 C383.56,57.01 383.5,57.33 383.41,57.72 C383.33,58.11 383.17,58.57 382.98,59 C382.78,59.44 382.56,59.93 382.25,60.33 C381.93,60.72 381.57,61.02 381.1,61.36 C380.63,61.69 379.97,62.1 379.42,62.32 C378.87,62.54 378.35,62.61 377.8,62.67 C377.25,62.74 376.67,62.79 376.13,62.71 C375.59,62.63 375.03,62.38 374.58,62.19 C374.14,61.99 373.8,61.81 373.47,61.53 C373.13,61.26 372.81,60.85 372.59,60.52 C372.36,60.18 372.2,59.86 372.11,59.53 C372.02,59.2 372,58.8 372.05,58.55 C372.09,58.29 372.25,58.13 372.4,58.02 C372.54,57.91 372.75,57.83 372.94,57.87 C373.12,57.92 373.36,58.11 373.52,58.29 C373.68,58.48 373.81,58.73 373.89,58.98 C373.98,59.22 374.02,59.41 374.03,59.78 C374.03,60.16 374.04,60.73 373.91,61.23 C373.78,61.73 373.57,62.32 373.25,62.78 C372.94,63.24 372.51,63.64 372.02,63.98 C371.53,64.33 370.9,64.67 370.31,64.84 C369.73,65 369.09,65.03 368.51,64.98 C367.94,64.93 367.37,64.76 366.88,64.54 C366.38,64.33 365.78,63.83 365.56,63.69" fill="none" stroke="#de9160" stroke-width="0.72"/><path d="M335.35,73.58 C335.15,73.58 334.57,73.67 334.15,73.59 C333.72,73.51 333.22,73.32 332.79,73.09 C332.36,72.87 331.98,72.55 331.58,72.23 C331.19,71.92 330.58,71.53 330.4,71.19 C330.22,70.85 330.41,70.56 330.49,70.2 C330.58,69.84 330.69,69.49 330.9,69.05 C331.11,68.62 331.39,68.02 331.76,67.59 C332.13,67.16 332.63,66.79 333.11,66.48 C333.59,66.16 334.16,65.91 334.64,65.69 C335.12,65.47 335.55,65.28 336.01,65.16 C336.46,65.05 336.92,65.01 337.35,65.01 C337.77,65.01 338.18,65.06 338.57,65.18 C338.95,65.3 339.38,65.51 339.67,65.74 C339.97,65.97 340.19,66.33 340.33,66.54 C340.47,66.74 340.53,66.81 340.53,66.97 C340.53,67.14 340.45,67.42 340.34,67.53 C340.23,67.64 340.06,67.65 339.89,67.64 C339.72,67.63 339.53,67.58 339.33,67.45 C339.13,67.32 338.87,67.09 338.71,66.86 C338.55,66.63 338.46,66.42 338.36,66.08 C338.26,65.75 338.12,65.25 338.12,64.85 C338.11,64.45 338.21,64.08 338.35,63.68 C338.49,63.28 338.68,62.87 338.95,62.45 C339.22,62.03 339.61,61.52 339.98,61.16 C340.34,60.8 340.7,60.57 341.13,60.3 C341.56,60.02 342.05,59.73 342.55,59.52 C343.05,59.32 343.64,59.16 344.12,59.06 C344.6,58.96 345.01,58.9 345.43,58.92 C345.85,58.94 346.26,59.01 346.63,59.16 C346.99,59.3 347.36,59.57 347.62,59.79 C347.88,60.01 348.02,60.26 348.16,60.47 C348.31,60.68 348.45,60.86 348.48,61.06 C348.5,61.26 348.44,61.54 348.32,61.69 C348.2,61.83 347.96,61.96 347.74,61.93 C347.52,61.91 347.23,61.74 346.98,61.53 C346.74,61.33 346.49,61.04 346.3,60.7 C346.1,60.37 345.9,59.97 345.81,59.52 C345.72,59.08 345.67,58.52 345.75,58.05 C345.84,57.58 346.05,57.08 346.29,56.72 C346.53,56.36 346.81,56.19 347.18,55.9 C347.54,55.61 348.04,55.19 348.49,54.99 C348.94,54.79 349.38,54.77 349.87,54.69 C350.37,54.62 351.2,54.56 351.46,54.53" fill="none" stroke="#de9160" stroke-width="0.72"/><path d="M346.69,73.49 C346.55,73.54 346.16,73.7 345.89,73.8 C345.62,73.9 345.14,74.23 345.06,74.07 C344.98,73.92 345.33,73.16 345.42,72.88 C345.5,72.6 345.47,72.55 345.56,72.42 C345.64,72.29 345.73,72.22 345.93,72.09 C346.14,71.97 346.44,71.8 346.79,71.68 C347.14,71.57 347.62,71.42 348.03,71.39 C348.45,71.36 348.84,71.45 349.27,71.52 C349.71,71.58 350.19,71.63 350.65,71.77 C351.11,71.91 351.59,72.13 352.05,72.37 C352.52,72.62 353.05,72.89 353.43,73.24 C353.8,73.58 354.09,73.98 354.32,74.42 C354.54,74.85 354.68,75.44 354.8,75.85 C354.91,76.25 355.03,76.49 355.03,76.85 C355.02,77.22 354.88,77.8 354.76,78.03 C354.64,78.27 354.43,78.19 354.3,78.26 C354.16,78.34 354.02,78.44 353.94,78.5 C353.87,78.56 353.86,78.64 353.85,78.62 C353.84,78.61 353.86,78.46 353.89,78.38 C353.92,78.3 353.94,78.24 354.02,78.12 C354.1,78 354.19,77.78 354.35,77.64 C354.51,77.51 354.74,77.41 354.99,77.33 C355.24,77.25 355.53,77.21 355.87,77.17 C356.2,77.13 356.6,77.07 356.99,77.09 C357.38,77.1 357.81,77.15 358.21,77.23 C358.6,77.32 358.95,77.46 359.35,77.59 C359.76,77.73 360.24,77.88 360.63,78.05 C361.02,78.22 361.37,78.41 361.69,78.61 C362.01,78.81 362.31,79.04 362.56,79.27 C362.81,79.51 363.02,79.83 363.17,80.02 C363.31,80.2 363.4,80.32 363.42,80.4 C363.44,80.49 363.36,80.54 363.27,80.53 C363.18,80.52 363.05,80.48 362.9,80.37 C362.75,80.25 362.55,80.08 362.38,79.85 C362.21,79.63 361.99,79.31 361.87,79.02 C361.76,78.72 361.76,78.44 361.71,78.1 C361.65,77.75 361.58,77.37 361.56,76.94 C361.55,76.51 361.56,75.97 361.62,75.5 C361.68,75.03 361.74,74.55 361.94,74.12 C362.13,73.69 362.47,73.28 362.78,72.93 C363.09,72.57 363.46,72.25 363.78,72 C364.09,71.75 364.38,71.58 364.67,71.42 C364.96,71.26 365.38,71.11 365.53,71.05" fill="none" stroke="#de9160" stroke-width="0.72"/><path d="M351.07,68.52 C351.3,68.46 351.97,68.21 352.44,68.17 C352.9,68.13 353.44,68.23 353.86,68.29 C354.27,68.35 354.61,68.43 354.92,68.53 C355.23,68.64 355.49,68.8 355.71,68.93 C355.93,69.05 356.09,69.14 356.24,69.26 C356.39,69.38 356.54,69.49 356.62,69.65 C356.7,69.81 356.71,70.11 356.72,70.22 C356.74,70.33 356.76,70.29 356.73,70.33 C356.7,70.36 356.61,70.46 356.56,70.43 C356.5,70.4 356.42,70.24 356.4,70.13 C356.38,70.02 356.4,69.92 356.44,69.78 C356.47,69.64 356.54,69.51 356.62,69.28 C356.69,69.06 356.75,68.72 356.89,68.42 C357.04,68.13 357.26,67.75 357.5,67.5 C357.74,67.24 358.01,67.13 358.34,66.92 C358.67,66.7 359.08,66.41 359.46,66.21 C359.84,66.01 360.2,65.84 360.62,65.72 C361.04,65.6 361.51,65.5 361.97,65.48 C362.43,65.46 362.96,65.52 363.4,65.61 C363.83,65.7 364.22,65.86 364.58,66.02 C364.93,66.18 365.28,66.41 365.54,66.6 C365.8,66.8 365.99,67.05 366.14,67.19 C366.29,67.33 366.41,67.36 366.45,67.46 C366.5,67.55 366.45,67.68 366.41,67.74 C366.37,67.79 366.28,67.79 366.21,67.78 C366.15,67.77 366.12,67.79 366.04,67.69 C365.96,67.59 365.98,67.3 365.75,67.18 C365.51,67.06 364.83,67.24 364.63,66.97 C364.44,66.69 364.53,66.08 364.58,65.53 C364.63,64.98 364.73,64.18 364.93,63.65 C365.12,63.13 365.44,62.79 365.75,62.36 C366.07,61.93 366.42,61.46 366.82,61.09 C367.21,60.72 367.59,60.4 368.11,60.13 C368.63,59.86 369.38,59.6 369.96,59.48 C370.54,59.36 371.07,59.35 371.58,59.4 C372.1,59.44 372.62,59.57 373.07,59.75 C373.53,59.92 373.98,60.2 374.33,60.46 C374.69,60.72 375,61.05 375.21,61.3 C375.42,61.56 375.53,61.77 375.6,61.99 C375.67,62.21 375.69,62.43 375.62,62.6 C375.55,62.77 375.41,62.94 375.16,63.01 C374.92,63.08 374.47,63.1 374.14,63.01 C373.82,62.92 373.37,62.56 373.22,62.47" fill="none" stroke="#de9160" stroke-width="0.72"/><path d="M362.74,69.25 C362.86,69.17 363.23,68.86 363.46,68.8 C363.68,68.74 363.88,68.77 364.09,68.88 C364.3,68.99 364.61,69.27 364.72,69.48 C364.84,69.69 364.79,69.94 364.77,70.13 C364.74,70.33 364.68,70.49 364.57,70.65 C364.47,70.81 364.37,70.92 364.12,71.09 C363.86,71.27 363.42,71.58 363.05,71.71 C362.69,71.83 362.39,71.82 361.93,71.82 C361.46,71.81 360.85,71.79 360.28,71.68 C359.71,71.57 359.08,71.44 358.51,71.16 C357.94,70.89 357.3,70.41 356.85,70.02 C356.4,69.62 356.12,69.25 355.79,68.79 C355.47,68.34 355.13,67.78 354.91,67.3 C354.69,66.82 354.54,66.38 354.46,65.92 C354.38,65.46 354.37,64.96 354.43,64.53 C354.48,64.11 354.67,63.7 354.8,63.4 C354.94,63.09 355.03,62.86 355.24,62.7 C355.44,62.53 355.74,62.44 356.02,62.42 C356.3,62.4 356.74,62.42 356.93,62.59 C357.11,62.76 357.08,63.2 357.12,63.44 C357.15,63.67 357.21,63.79 357.14,64 C357.07,64.22 357.02,64.59 356.71,64.7 C356.39,64.81 355.64,64.71 355.23,64.66 C354.83,64.61 354.56,64.52 354.28,64.39 C354,64.25 353.78,64.09 353.55,63.87 C353.31,63.64 353.07,63.33 352.86,63.03 C352.64,62.74 352.41,62.46 352.25,62.09 C352.09,61.72 352.22,61.24 351.89,60.8 C351.57,60.36 350.54,60 350.3,59.48 C350.07,58.95 350.36,58.2 350.5,57.62 C350.63,57.04 350.85,56.45 351.12,55.97 C351.39,55.49 351.82,55.05 352.11,54.75 C352.39,54.45 352.56,54.32 352.82,54.19 C353.08,54.06 353.39,53.98 353.64,53.96 C353.89,53.93 354.13,53.91 354.33,54.05 C354.52,54.18 354.75,54.53 354.79,54.77 C354.84,55.01 354.72,55.23 354.59,55.49 C354.45,55.75 354.23,56.13 353.99,56.34 C353.74,56.55 353.46,56.63 353.1,56.75 C352.74,56.87 352.27,57.03 351.83,57.06 C351.38,57.09 350.94,57.07 350.44,56.94 C349.94,56.81 349.34,56.59 348.82,56.28 C348.3,55.97 347.58,55.27 347.33,55.07" fill="none" stroke="#de9160" stroke-width="0.72"/><path d="M369.68,68.67 C369.8,68.88 370.26,69.48 370.39,69.92 C370.53,70.36 370.49,70.82 370.5,71.31 C370.51,71.79 370.6,72.29 370.48,72.84 C370.36,73.38 370.08,74.08 369.8,74.55 C369.52,75.02 369.19,75.36 368.8,75.67 C368.42,75.98 368,76.23 367.48,76.42 C366.97,76.61 366.28,76.78 365.73,76.8 C365.17,76.83 364.63,76.67 364.15,76.57 C363.67,76.47 363.22,76.34 362.84,76.21 C362.47,76.09 362.14,75.97 361.9,75.83 C361.65,75.69 361.46,75.55 361.37,75.39 C361.28,75.24 361.28,75.06 361.35,74.91 C361.42,74.76 361.64,74.56 361.76,74.48 C361.89,74.39 361.92,74.39 362.09,74.42 C362.27,74.45 362.57,74.54 362.81,74.67 C363.04,74.8 363.27,74.95 363.5,75.19 C363.74,75.44 364.01,75.76 364.19,76.16 C364.38,76.55 364.57,77.06 364.63,77.55 C364.69,78.05 364.64,78.58 364.53,79.13 C364.42,79.68 364.22,80.32 363.99,80.86 C363.77,81.41 363.43,81.97 363.18,82.41 C362.92,82.85 362.75,83.29 362.46,83.52 C362.17,83.75 361.79,83.67 361.45,83.8 C361.11,83.93 360.74,84.15 360.42,84.3 C360.09,84.45 359.74,84.62 359.49,84.69 C359.24,84.76 359.07,84.75 358.92,84.72 C358.78,84.68 358.65,84.58 358.62,84.49 C358.58,84.41 358.64,84.31 358.71,84.22 C358.79,84.14 358.92,84.03 359.09,83.97 C359.26,83.92 359.43,83.9 359.73,83.89 C360.04,83.88 360.57,83.83 360.91,83.91 C361.25,84 361.51,84.2 361.77,84.41 C362.03,84.62 362.26,84.88 362.46,85.17 C362.65,85.46 362.76,85.75 362.94,86.16 C363.11,86.57 363.36,87.13 363.5,87.63 C363.64,88.14 363.75,88.68 363.78,89.19 C363.81,89.69 363.71,90.16 363.67,90.67 C363.63,91.18 363.69,91.79 363.55,92.26 C363.41,92.72 363.06,93.13 362.83,93.47 C362.6,93.8 362.43,94.06 362.17,94.27 C361.9,94.48 361.5,94.65 361.24,94.74 C360.98,94.83 360.78,94.81 360.6,94.8 C360.41,94.8 360.2,94.71 360.12,94.69" fill="none" stroke="#de9160" stroke-width="0.72"/><path d="M375.82,71.64 C375.71,71.44 375.34,70.95 375.15,70.47 C374.95,69.99 374.73,69.31 374.65,68.75 C374.57,68.2 374.55,67.72 374.65,67.14 C374.75,66.56 374.94,65.83 375.24,65.27 C375.54,64.72 375.97,64.22 376.46,63.8 C376.95,63.38 377.58,63.04 378.17,62.77 C378.75,62.5 379.43,62.23 379.98,62.19 C380.54,62.15 381.04,62.43 381.48,62.54 C381.92,62.65 382.3,62.67 382.64,62.84 C382.99,63.02 383.35,63.37 383.54,63.6 C383.72,63.83 383.75,63.99 383.76,64.21 C383.78,64.43 383.76,64.75 383.64,64.9 C383.53,65.06 383.28,65.1 383.09,65.13 C382.9,65.16 382.65,65.14 382.5,65.07 C382.34,65.01 382.31,64.9 382.17,64.73 C382.03,64.56 381.79,64.35 381.68,64.05 C381.56,63.75 381.46,63.3 381.48,62.93 C381.5,62.56 381.64,62.21 381.79,61.82 C381.94,61.43 382.12,61.03 382.37,60.59 C382.62,60.14 382.93,59.57 383.3,59.15 C383.67,58.74 384.15,58.39 384.58,58.09 C385.01,57.78 385.37,57.51 385.88,57.33 C386.38,57.14 387.05,56.98 387.62,56.98 C388.19,56.98 388.8,57.13 389.3,57.33 C389.8,57.54 390.25,57.87 390.62,58.18 C390.98,58.5 391.16,58.83 391.51,59.23 C391.87,59.63 392.52,60.12 392.73,60.57 C392.94,61.01 392.8,61.53 392.77,61.89 C392.74,62.25 392.67,62.52 392.55,62.73 C392.42,62.95 392.39,63 392.02,63.18 C391.65,63.35 390.88,63.65 390.32,63.76 C389.77,63.87 389.19,63.87 388.69,63.83 C388.2,63.79 387.71,63.66 387.34,63.52 C386.98,63.38 386.74,63.2 386.52,62.98 C386.3,62.75 386.13,62.48 386.04,62.17 C385.96,61.85 385.93,61.4 386.03,61.09 C386.13,60.78 386.38,60.45 386.66,60.3 C386.93,60.15 387.31,60.13 387.68,60.21 C388.04,60.28 388.46,60.49 388.83,60.76 C389.2,61.04 389.61,61.43 389.89,61.85 C390.17,62.28 390.37,62.81 390.49,63.34 C390.61,63.87 390.65,64.39 390.6,65.02 C390.55,65.64 390.26,66.74 390.19,67.08" fill="none" stroke="#de9160" stroke-width="0.72"/><path d="M391.14,71.8 C391.1,71.93 391.01,72.36 390.9,72.55 C390.8,72.73 390.61,72.83 390.52,72.91 C390.43,73 390.38,73.05 390.35,73.03 C390.31,73.01 390.29,72.94 390.3,72.8 C390.3,72.65 390.32,72.4 390.38,72.17 C390.44,71.94 390.52,71.66 390.65,71.39 C390.78,71.12 390.92,70.86 391.16,70.55 C391.41,70.23 391.76,69.79 392.1,69.49 C392.45,69.2 392.81,68.99 393.22,68.78 C393.63,68.58 394.11,68.35 394.56,68.26 C395.02,68.16 395.49,68.15 395.96,68.19 C396.43,68.23 396.94,68.36 397.4,68.51 C397.86,68.66 398.33,68.86 398.73,69.1 C399.13,69.35 399.69,69.64 399.81,69.97 C399.93,70.29 399.64,70.68 399.47,71.04 C399.3,71.4 399.11,71.79 398.82,72.12 C398.53,72.45 398.14,72.79 397.73,73.04 C397.31,73.28 396.84,73.48 396.34,73.59 C395.83,73.7 395.22,73.73 394.71,73.68 C394.2,73.63 393.76,73.48 393.28,73.3 C392.81,73.13 392.27,72.93 391.87,72.65 C391.47,72.38 391.17,72 390.88,71.68 C390.58,71.36 390.3,71.06 390.09,70.75 C389.89,70.44 389.72,70.13 389.65,69.84 C389.58,69.55 389.65,69.23 389.66,69.01 C389.66,68.78 389.6,68.65 389.67,68.49 C389.75,68.32 389.98,68.11 390.12,68.02 C390.27,67.93 390.43,67.93 390.55,67.94 C390.66,67.96 390.77,68.02 390.83,68.11 C390.89,68.2 390.91,68.37 390.91,68.46 C390.91,68.55 390.91,68.55 390.82,68.66 C390.72,68.77 390.57,68.99 390.35,69.12 C390.12,69.25 389.78,69.4 389.47,69.45 C389.15,69.51 388.82,69.52 388.46,69.48 C388.09,69.44 387.64,69.37 387.28,69.21 C386.92,69.06 386.59,68.82 386.28,68.55 C385.96,68.27 385.62,67.93 385.39,67.56 C385.16,67.18 385.02,66.74 384.89,66.27 C384.77,65.8 384.67,65.25 384.63,64.73 C384.6,64.21 384.6,63.65 384.69,63.17 C384.79,62.68 385,62.27 385.2,61.82 C385.39,61.37 385.59,60.85 385.84,60.48 C386.1,60.11 386.58,59.75 386.72,59.6" fill="none" stroke="#de9160" stroke-width="0.72"/><path d="M399.05,70.39 C399.1,70.48 399.17,70.65 399.35,70.92 C399.52,71.2 400.22,71.64 400.08,72.04 C399.95,72.44 399.11,72.97 398.55,73.32 C397.99,73.67 397.29,73.94 396.73,74.12 C396.17,74.3 395.73,74.39 395.22,74.39 C394.7,74.38 394.11,74.25 393.65,74.09 C393.18,73.93 392.76,73.67 392.4,73.42 C392.04,73.16 391.72,72.87 391.49,72.56 C391.25,72.24 391.05,71.92 390.98,71.55 C390.91,71.17 390.97,70.6 391.04,70.29 C391.11,69.99 391.19,69.85 391.4,69.73 C391.62,69.62 392.05,69.53 392.34,69.6 C392.64,69.67 392.94,69.91 393.16,70.12 C393.38,70.34 393.46,70.52 393.66,70.91 C393.87,71.3 394.41,71.9 394.4,72.44 C394.38,72.98 393.79,73.65 393.58,74.15 C393.37,74.66 393.22,75 393.15,75.47 C393.08,75.94 393.32,76.5 393.17,76.99 C393.03,77.48 392.64,77.99 392.28,78.42 C391.92,78.85 391.48,79.23 391.03,79.56 C390.58,79.88 390.02,80.18 389.57,80.39 C389.11,80.6 388.67,80.71 388.3,80.81 C387.92,80.91 387.64,80.99 387.32,80.99 C387.01,80.98 386.69,80.93 386.4,80.81 C386.12,80.69 385.79,80.49 385.62,80.26 C385.44,80.03 385.37,79.67 385.37,79.42 C385.37,79.18 385.47,78.93 385.61,78.78 C385.74,78.63 385.94,78.53 386.17,78.5 C386.4,78.46 386.68,78.46 387,78.55 C387.32,78.65 387.78,78.83 388.09,79.06 C388.39,79.3 388.53,79.57 388.84,79.97 C389.14,80.36 389.62,80.95 389.9,81.45 C390.18,81.95 390.39,82.4 390.51,82.97 C390.63,83.54 390.69,84.25 390.64,84.86 C390.59,85.46 390.44,86.02 390.19,86.58 C389.95,87.15 389.6,87.78 389.17,88.25 C388.74,88.71 388.16,89.08 387.63,89.36 C387.1,89.64 386.46,89.81 385.98,89.93 C385.5,90.05 385.16,90.12 384.75,90.06 C384.34,90 383.85,89.73 383.52,89.57 C383.19,89.42 382.96,89.34 382.76,89.14 C382.57,88.93 382.4,88.62 382.36,88.34 C382.32,88.07 382.5,87.63 382.53,87.49" fill="none" stroke="#de9160" stroke-width="0.72"/><path d="M332.33,77.83 C332.47,77.66 332.85,77.11 333.16,76.82 C333.46,76.54 333.83,76.3 334.14,76.12 C334.45,75.93 334.73,75.79 335.03,75.71 C335.33,75.62 335.66,75.58 335.95,75.6 C336.25,75.62 336.57,75.73 336.81,75.81 C337.04,75.89 337.25,75.94 337.36,76.09 C337.48,76.25 337.4,76.52 337.49,76.72 C337.58,76.91 338.08,77.3 337.92,77.28 C337.75,77.25 336.85,76.71 336.48,76.56 C336.12,76.42 336.01,76.53 335.73,76.4 C335.46,76.28 335.1,76.07 334.82,75.82 C334.55,75.58 334.34,75.25 334.1,74.91 C333.86,74.56 333.56,74.14 333.39,73.74 C333.22,73.33 333.18,72.92 333.1,72.48 C333.02,72.04 332.95,71.53 332.92,71.09 C332.89,70.65 332.87,70.24 332.91,69.84 C332.94,69.45 333.04,69.08 333.13,68.73 C333.22,68.39 333.28,68.06 333.46,67.77 C333.65,67.49 333.99,67.2 334.22,67 C334.45,66.8 334.66,66.68 334.83,66.57 C335,66.45 335.17,66.33 335.26,66.32 C335.34,66.31 335.3,66.47 335.35,66.5 C335.4,66.54 335.46,66.34 335.57,66.53 C335.68,66.73 335.9,67.33 336,67.68 C336.1,68.03 336.14,68.35 336.17,68.63 C336.2,68.92 336.2,69.16 336.18,69.39 C336.17,69.63 336.1,69.88 336.07,70.04 C336.04,70.2 336.05,70.27 336,70.35 C335.95,70.43 335.83,70.5 335.75,70.52 C335.68,70.54 335.59,70.49 335.55,70.49 C335.51,70.48 335.48,70.52 335.53,70.5 C335.58,70.48 335.97,70.5 335.85,70.37 C335.73,70.24 334.61,69.83 334.81,69.73 C335.02,69.63 336.54,69.78 337.08,69.77 C337.63,69.77 337.7,69.72 338.09,69.71 C338.48,69.7 338.96,69.68 339.41,69.71 C339.86,69.74 340.33,69.8 340.77,69.88 C341.22,69.97 341.53,70.15 342.07,70.21 C342.61,70.26 343.46,70.08 344.03,70.19 C344.6,70.31 345.16,70.59 345.5,70.89 C345.83,71.2 345.93,71.64 346.06,72.01 C346.19,72.38 346.27,72.73 346.26,73.09 C346.26,73.45 346.08,73.99 346.04,74.17" fill="none" stroke="#de9160" stroke-width="0.72"/><path d="M344.9,80.71 C344.85,80.76 344.71,81.01 344.57,81.04 C344.42,81.07 344.24,81.05 344.03,80.91 C343.83,80.77 343.49,80.46 343.33,80.19 C343.18,79.93 343.14,79.65 343.11,79.32 C343.08,78.99 343.04,78.58 343.13,78.21 C343.21,77.84 343.38,77.43 343.62,77.08 C343.87,76.72 344.24,76.36 344.61,76.09 C344.98,75.81 345.45,75.56 345.87,75.41 C346.29,75.26 346.68,75.24 347.13,75.19 C347.58,75.14 348.09,75.11 348.57,75.11 C349.05,75.11 349.56,75.1 350.01,75.21 C350.46,75.32 350.89,75.54 351.27,75.76 C351.65,75.99 352,76.27 352.31,76.56 C352.62,76.85 352.91,77.24 353.14,77.49 C353.38,77.74 353.61,77.83 353.71,78.05 C353.82,78.26 353.81,78.62 353.76,78.78 C353.7,78.94 353.55,78.99 353.4,79 C353.25,79.01 353,78.93 352.85,78.84 C352.7,78.75 352.6,78.63 352.5,78.45 C352.4,78.26 352.32,78.04 352.26,77.74 C352.2,77.44 352.11,77.04 352.13,76.65 C352.15,76.25 352.27,75.75 352.4,75.37 C352.53,74.99 352.65,74.74 352.91,74.36 C353.17,73.99 353.53,73.48 353.96,73.12 C354.39,72.75 355.01,72.44 355.47,72.19 C355.93,71.94 356.24,71.74 356.72,71.62 C357.19,71.5 357.82,71.44 358.32,71.47 C358.83,71.5 359.32,71.66 359.75,71.8 C360.17,71.94 360.55,72.15 360.89,72.33 C361.23,72.51 361.54,72.67 361.8,72.86 C362.06,73.05 362.28,73.23 362.45,73.46 C362.62,73.7 362.77,73.99 362.84,74.27 C362.9,74.55 362.86,74.9 362.81,75.13 C362.76,75.37 362.68,75.54 362.54,75.67 C362.4,75.8 362.13,75.88 361.96,75.9 C361.79,75.91 361.63,75.9 361.53,75.77 C361.43,75.64 361.38,75.38 361.37,75.13 C361.36,74.88 361.39,74.59 361.48,74.28 C361.58,73.97 361.71,73.66 361.93,73.29 C362.15,72.92 362.46,72.41 362.8,72.04 C363.14,71.67 363.54,71.34 363.97,71.09 C364.39,70.84 364.88,70.67 365.37,70.54 C365.86,70.41 366.65,70.35 366.9,70.31" fill="none" stroke="#de9160" stroke-width="0.72"/><path d="M353.29,79.97 C353.2,80.17 353.01,80.75 352.78,81.13 C352.54,81.51 352.17,81.92 351.88,82.25 C351.58,82.57 351.27,82.83 351.01,83.06 C350.75,83.3 350.56,83.5 350.34,83.67 C350.11,83.83 349.92,83.99 349.66,84.06 C349.41,84.13 349.04,84.1 348.79,84.09 C348.54,84.08 348.35,84.05 348.18,84.03 C348,84 347.84,83.95 347.74,83.92 C347.64,83.88 347.57,83.82 347.57,83.8 C347.57,83.79 347.62,83.83 347.75,83.83 C347.87,83.82 348.12,83.74 348.32,83.79 C348.52,83.85 348.72,84 348.95,84.15 C349.18,84.31 349.43,84.48 349.72,84.71 C350.01,84.94 350.41,85.2 350.68,85.54 C350.95,85.89 351.18,86.34 351.36,86.77 C351.54,87.21 351.7,87.72 351.76,88.15 C351.82,88.59 351.76,88.95 351.73,89.38 C351.7,89.81 351.69,90.31 351.58,90.73 C351.48,91.14 351.27,91.52 351.09,91.87 C350.92,92.22 350.77,92.54 350.55,92.82 C350.33,93.11 350.06,93.38 349.76,93.57 C349.46,93.77 349.01,93.89 348.75,94.01 C348.49,94.13 348.39,94.24 348.19,94.28 C347.99,94.32 347.71,94.28 347.55,94.26 C347.39,94.24 347.33,94.22 347.24,94.16 C347.14,94.09 347.04,93.96 347.01,93.88 C346.97,93.79 346.99,93.7 347.02,93.64 C347.05,93.58 347.14,93.53 347.2,93.51 C347.25,93.49 347.29,93.46 347.36,93.52 C347.43,93.57 347.53,93.7 347.59,93.84 C347.65,93.98 347.69,94.15 347.72,94.36 C347.75,94.57 347.8,94.86 347.75,95.08 C347.71,95.31 347.59,95.49 347.44,95.73 C347.3,95.97 347.12,96.25 346.88,96.52 C346.63,96.78 346.28,97.11 345.96,97.32 C345.63,97.53 345.32,97.66 344.91,97.79 C344.5,97.93 343.98,98.06 343.5,98.12 C343.02,98.19 342.49,98.23 342.04,98.17 C341.58,98.12 341.17,97.93 340.77,97.79 C340.37,97.65 340.15,97.47 339.63,97.32 C339.12,97.18 338.12,97.16 337.68,96.91 C337.24,96.66 337.17,96.13 336.99,95.81 C336.82,95.49 336.7,95.14 336.65,95.01" fill="none" stroke="#de9160" stroke-width="0.72"/><path d="M365.99,82.26 C365.78,82.36 365.19,82.75 364.75,82.85 C364.31,82.95 363.85,82.93 363.35,82.88 C362.84,82.82 362.22,82.7 361.74,82.53 C361.27,82.36 360.9,82.12 360.5,81.86 C360.1,81.6 359.71,81.35 359.35,80.97 C358.98,80.59 358.57,80.07 358.32,79.58 C358.06,79.1 357.91,78.58 357.83,78.07 C357.76,77.56 357.81,77 357.87,76.54 C357.94,76.07 358.03,75.66 358.21,75.28 C358.39,74.89 358.66,74.5 358.96,74.22 C359.26,73.93 359.75,73.72 360.01,73.56 C360.27,73.4 360.34,73.32 360.55,73.26 C360.76,73.2 361.05,73.17 361.24,73.21 C361.44,73.25 361.61,73.38 361.73,73.48 C361.85,73.58 361.91,73.71 361.96,73.8 C362.01,73.88 362.11,73.9 362.03,74.01 C361.96,74.11 361.74,74.34 361.49,74.42 C361.23,74.49 360.83,74.53 360.51,74.47 C360.19,74.42 359.9,74.28 359.56,74.1 C359.22,73.91 358.77,73.66 358.45,73.38 C358.13,73.09 357.93,72.78 357.65,72.39 C357.37,72.01 357.05,71.56 356.79,71.07 C356.52,70.58 356.23,69.94 356.04,69.46 C355.86,68.98 355.74,68.61 355.7,68.17 C355.66,67.73 355.66,67.28 355.8,66.82 C355.94,66.36 356.32,65.79 356.53,65.4 C356.74,65.02 356.79,64.78 357.06,64.54 C357.32,64.3 357.84,64.07 358.12,63.94 C358.4,63.81 358.53,63.76 358.73,63.76 C358.93,63.77 359.18,63.87 359.3,63.96 C359.43,64.05 359.48,64.18 359.46,64.31 C359.44,64.44 359.33,64.63 359.21,64.75 C359.09,64.88 358.93,64.98 358.71,65.06 C358.49,65.13 358.2,65.17 357.89,65.18 C357.58,65.2 357.28,65.2 356.85,65.16 C356.42,65.12 355.8,65.07 355.3,64.96 C354.8,64.85 354.33,64.68 353.87,64.49 C353.42,64.31 352.98,64.13 352.59,63.84 C352.19,63.56 351.81,63.11 351.48,62.77 C351.16,62.43 350.87,62.18 350.63,61.82 C350.38,61.47 350.17,60.96 350.02,60.63 C349.87,60.31 349.75,60.16 349.72,59.9 C349.7,59.63 349.83,59.19 349.86,59.04" fill="none" stroke="#de9160" stroke-width="0.72"/><path d="M366.48,83.41 C366.32,83.23 365.76,82.7 365.51,82.32 C365.26,81.95 365.1,81.56 364.98,81.16 C364.86,80.77 364.83,80.27 364.82,79.93 C364.8,79.6 364.85,79.36 364.9,79.14 C364.96,78.91 365,78.74 365.12,78.59 C365.24,78.43 365.47,78.25 365.61,78.18 C365.75,78.12 365.82,78.16 365.94,78.2 C366.06,78.25 366.27,78.32 366.32,78.44 C366.37,78.57 366.32,78.77 366.24,78.97 C366.17,79.18 366.05,79.39 365.86,79.67 C365.68,79.95 365.44,80.32 365.14,80.65 C364.84,80.97 364.46,81.3 364.04,81.61 C363.63,81.92 363.13,82.29 362.65,82.53 C362.18,82.77 361.66,82.91 361.19,83.05 C360.73,83.19 360.24,83.3 359.84,83.39 C359.44,83.49 359.12,83.6 358.78,83.59 C358.45,83.59 357.96,83.49 357.83,83.37 C357.69,83.25 358,83.01 357.99,82.89 C357.98,82.78 357.78,82.75 357.77,82.68 C357.76,82.61 357.85,82.53 357.94,82.49 C358.03,82.45 358.18,82.42 358.31,82.45 C358.44,82.48 358.59,82.55 358.73,82.68 C358.87,82.81 359.03,83 359.15,83.22 C359.27,83.45 359.41,83.73 359.46,84.02 C359.5,84.31 359.49,84.68 359.42,84.95 C359.35,85.23 359.19,85.38 359.02,85.68 C358.85,85.98 358.63,86.46 358.38,86.77 C358.13,87.07 357.86,87.26 357.52,87.51 C357.18,87.76 356.72,88.08 356.33,88.24 C355.94,88.4 355.61,88.45 355.17,88.47 C354.73,88.5 354.14,88.44 353.7,88.39 C353.26,88.35 352.9,88.29 352.52,88.18 C352.14,88.06 351.78,87.88 351.45,87.7 C351.11,87.52 350.8,87.3 350.52,87.09 C350.24,86.88 349.97,86.7 349.75,86.45 C349.54,86.2 349.35,85.89 349.22,85.61 C349.09,85.32 349.01,84.98 348.96,84.74 C348.9,84.51 348.87,84.33 348.88,84.19 C348.89,84.04 348.93,83.95 349.01,83.86 C349.08,83.78 349.27,83.69 349.33,83.69 C349.38,83.69 349.35,83.78 349.35,83.88 C349.35,83.98 349.37,84.17 349.32,84.29 C349.28,84.41 349.12,84.55 349.08,84.6" fill="none" stroke="#de9160" stroke-width="0.72"/><path d="M378.47,76.87 C378.71,77.06 379.49,77.57 379.95,78.03 C380.41,78.48 380.91,79.07 381.22,79.61 C381.53,80.16 381.71,80.71 381.82,81.28 C381.93,81.86 381.94,82.47 381.87,83.05 C381.81,83.63 381.61,84.26 381.43,84.75 C381.24,85.24 381,85.63 380.76,85.99 C380.53,86.36 380.36,86.68 380.01,86.93 C379.66,87.18 379.09,87.41 378.65,87.5 C378.2,87.59 377.68,87.56 377.34,87.49 C376.99,87.41 376.77,87.19 376.59,87.06 C376.4,86.94 376.3,86.9 376.22,86.74 C376.14,86.58 376.09,86.33 376.09,86.13 C376.09,85.93 376.1,85.71 376.2,85.54 C376.31,85.36 376.56,85.15 376.72,85.07 C376.89,85 376.97,85.03 377.18,85.08 C377.4,85.12 377.78,85.16 378.04,85.34 C378.3,85.53 378.63,85.79 378.73,86.17 C378.83,86.55 378.64,87.17 378.64,87.62 C378.64,88.06 378.75,88.38 378.75,88.84 C378.74,89.31 378.73,89.93 378.62,90.39 C378.51,90.86 378.35,91.2 378.1,91.63 C377.85,92.06 377.48,92.59 377.14,92.99 C376.8,93.39 376.42,93.73 376.04,94.02 C375.66,94.3 375.32,94.54 374.86,94.69 C374.41,94.85 373.82,94.96 373.29,94.94 C372.76,94.93 372.21,94.74 371.68,94.59 C371.15,94.43 370.51,94.34 370.09,94.02 C369.66,93.7 369.38,93.05 369.13,92.67 C368.89,92.29 368.7,92.11 368.61,91.74 C368.53,91.36 368.56,90.81 368.64,90.43 C368.72,90.04 368.89,89.67 369.09,89.42 C369.28,89.17 369.63,88.97 369.82,88.91 C370.02,88.85 370.13,88.99 370.27,89.08 C370.41,89.16 370.57,89.29 370.65,89.42 C370.73,89.55 370.76,89.68 370.74,89.86 C370.72,90.04 370.68,90.22 370.56,90.51 C370.43,90.79 370.24,91.31 370.01,91.58 C369.78,91.85 369.51,91.97 369.19,92.13 C368.87,92.29 368.5,92.45 368.09,92.54 C367.69,92.63 367.24,92.68 366.79,92.67 C366.33,92.66 365.86,92.57 365.36,92.46 C364.86,92.36 364.29,92.28 363.77,92.04 C363.25,91.79 362.47,91.18 362.22,91.01" fill="none" stroke="#de9160" stroke-width="0.72"/><path d="M391.34,79.04 C391.31,79.21 391.35,79.72 391.21,80.06 C391.06,80.4 390.77,80.79 390.47,81.06 C390.18,81.34 389.84,81.52 389.45,81.71 C389.06,81.9 388.59,82.08 388.13,82.2 C387.67,82.32 387.2,82.37 386.69,82.41 C386.19,82.46 385.63,82.5 385.09,82.44 C384.55,82.39 384.01,82.32 383.47,82.07 C382.93,81.82 382.27,81.36 381.84,80.96 C381.41,80.56 381.17,80.11 380.9,79.65 C380.62,79.19 380.34,78.68 380.18,78.2 C380.03,77.72 380,77.24 379.96,76.77 C379.91,76.3 379.8,75.74 379.91,75.4 C380.02,75.05 380.41,74.8 380.63,74.7 C380.86,74.59 381.06,74.67 381.26,74.77 C381.46,74.88 381.71,75.11 381.84,75.32 C381.98,75.53 382.01,75.76 382.05,76.04 C382.09,76.32 382.11,76.65 382.06,76.99 C382,77.34 381.88,77.73 381.7,78.11 C381.51,78.48 381.28,78.86 380.94,79.27 C380.61,79.67 380.1,80.2 379.68,80.56 C379.25,80.91 378.93,81.17 378.39,81.41 C377.85,81.65 377,81.89 376.42,82 C375.85,82.1 375.47,82.1 374.93,82.05 C374.39,82 373.67,81.83 373.19,81.7 C372.72,81.58 372.38,81.46 372.08,81.3 C371.77,81.14 371.52,80.96 371.37,80.73 C371.23,80.5 371.2,80.14 371.2,79.91 C371.2,79.68 371.22,79.47 371.36,79.35 C371.51,79.22 371.76,79.14 372.07,79.15 C372.38,79.16 372.83,79.24 373.22,79.41 C373.61,79.58 374.05,79.87 374.39,80.19 C374.72,80.5 374.98,80.82 375.23,81.27 C375.47,81.73 375.72,82.36 375.87,82.91 C376.02,83.45 376,83.98 376.15,84.55 C376.3,85.12 376.69,85.75 376.75,86.31 C376.81,86.86 376.66,87.37 376.53,87.87 C376.4,88.36 376.18,88.89 375.97,89.3 C375.76,89.7 375.53,90.05 375.26,90.32 C375,90.58 374.7,90.8 374.4,90.88 C374.09,90.96 373.61,90.98 373.43,90.79 C373.26,90.59 373.35,90.01 373.34,89.7 C373.32,89.39 373.28,89.15 373.35,88.93 C373.42,88.7 373.69,88.43 373.75,88.33" fill="none" stroke="#de9160" stroke-width="0.72"/><path d="M391.96,84.96 C391.78,84.92 391.23,84.91 390.88,84.74 C390.52,84.56 390.12,84.18 389.84,83.91 C389.57,83.63 389.27,83.33 389.22,83.08 C389.16,82.83 389.49,82.63 389.54,82.41 C389.58,82.2 389.5,81.94 389.48,81.8 C389.47,81.66 389.44,81.58 389.45,81.55 C389.46,81.53 389.48,81.58 389.54,81.65 C389.6,81.71 389.76,81.8 389.82,81.96 C389.89,82.13 389.92,82.4 389.91,82.65 C389.91,82.89 389.86,83.13 389.79,83.44 C389.73,83.75 389.68,84.18 389.52,84.52 C389.36,84.85 389.1,85.22 388.83,85.47 C388.56,85.72 388.26,85.82 387.9,86.02 C387.54,86.23 387.08,86.57 386.66,86.71 C386.24,86.85 385.85,86.88 385.39,86.86 C384.93,86.83 384.36,86.75 383.91,86.56 C383.45,86.37 382.99,86.02 382.64,85.73 C382.29,85.44 382.04,85.19 381.81,84.83 C381.58,84.47 381.4,83.98 381.27,83.57 C381.14,83.17 381.08,82.79 381.01,82.41 C380.95,82.03 380.85,81.66 380.87,81.29 C380.89,80.91 381.07,80.47 381.15,80.16 C381.23,79.85 381.26,79.64 381.36,79.43 C381.46,79.22 381.65,79.02 381.76,78.88 C381.87,78.73 381.96,78.6 382.02,78.55 C382.09,78.51 382.13,78.57 382.16,78.62 C382.2,78.66 382.26,78.76 382.23,78.83 C382.21,78.89 382.11,78.93 382.01,79 C381.92,79.07 381.8,79.21 381.66,79.25 C381.52,79.29 381.41,79.24 381.18,79.24 C380.95,79.25 380.56,79.18 380.29,79.27 C380.02,79.36 379.95,79.8 379.58,79.78 C379.21,79.76 378.55,79.32 378.06,79.14 C377.58,78.96 377,79.02 376.66,78.68 C376.32,78.33 376.27,77.6 376.03,77.07 C375.79,76.54 375.41,76.02 375.23,75.5 C375.05,74.97 374.98,74.47 374.95,73.92 C374.91,73.37 374.91,72.74 375.03,72.21 C375.16,71.67 375.41,71.15 375.69,70.72 C375.96,70.28 376.38,69.87 376.7,69.6 C377.02,69.33 377.38,69.18 377.6,69.07 C377.82,68.97 377.91,68.94 378.03,68.96 C378.14,68.98 378.23,69.14 378.27,69.18" fill="none" stroke="#de9160" stroke-width="0.72"/><path d="M338.78,86.06 C338.97,86.26 339.63,86.83 339.91,87.28 C340.19,87.72 340.32,88.24 340.45,88.72 C340.58,89.19 340.66,89.66 340.71,90.13 C340.75,90.61 340.74,91.1 340.71,91.55 C340.67,92 340.67,92.44 340.52,92.83 C340.36,93.22 340.04,93.61 339.8,93.89 C339.55,94.17 339.3,94.37 339.04,94.52 C338.79,94.66 338.47,94.73 338.29,94.78 C338.1,94.83 338.06,94.87 337.93,94.81 C337.8,94.75 337.57,94.54 337.5,94.41 C337.43,94.28 337.41,94.18 337.5,94.04 C337.59,93.9 337.81,93.68 338.05,93.58 C338.29,93.47 338.6,93.44 338.93,93.42 C339.26,93.39 339.6,93.41 340.03,93.43 C340.46,93.46 341.05,93.45 341.53,93.56 C342.02,93.68 342.49,93.89 342.94,94.12 C343.4,94.34 343.85,94.61 344.26,94.92 C344.67,95.23 345.12,95.57 345.42,95.97 C345.73,96.37 345.94,96.87 346.09,97.31 C346.24,97.75 346.32,98.17 346.34,98.61 C346.36,99.04 346.3,99.54 346.2,99.92 C346.11,100.29 345.94,100.62 345.76,100.85 C345.58,101.08 345.3,101.14 345.12,101.29 C344.95,101.44 344.85,101.74 344.71,101.76 C344.56,101.78 344.34,101.6 344.24,101.42 C344.14,101.24 344.08,100.93 344.11,100.68 C344.14,100.43 344.27,100.13 344.43,99.91 C344.59,99.7 344.81,99.56 345.09,99.39 C345.36,99.23 345.71,99.03 346.06,98.92 C346.42,98.82 346.81,98.79 347.23,98.78 C347.65,98.77 348.06,98.8 348.58,98.87 C349.1,98.94 349.75,99 350.33,99.21 C350.91,99.42 351.6,99.8 352.05,100.13 C352.51,100.47 352.78,100.79 353.07,101.23 C353.35,101.67 353.59,102.27 353.77,102.78 C353.94,103.28 354.07,103.73 354.1,104.26 C354.14,104.8 354.08,105.48 353.98,105.99 C353.88,106.5 353.74,106.92 353.52,107.31 C353.3,107.71 352.99,108.08 352.66,108.37 C352.32,108.65 351.9,108.86 351.5,109 C351.09,109.14 350.56,109.2 350.22,109.21 C349.88,109.22 349.65,109.16 349.46,109.06 C349.27,108.96 349.15,108.69 349.09,108.62" fill="none" stroke="#de9160" stroke-width="0.72"/><path d="M341.48,88.56 C341.24,88.36 340.42,87.76 340.02,87.39 C339.62,87.01 339.33,86.7 339.08,86.3 C338.82,85.9 338.61,85.4 338.49,84.97 C338.36,84.55 338.32,84.14 338.31,83.76 C338.31,83.38 338.36,83 338.46,82.69 C338.56,82.38 338.71,82.12 338.92,81.9 C339.12,81.67 339.47,81.51 339.69,81.37 C339.92,81.23 340.15,81.03 340.28,81.06 C340.41,81.09 340.38,81.43 340.47,81.54 C340.56,81.66 340.81,81.69 340.84,81.74 C340.87,81.79 340.77,81.77 340.66,81.87 C340.55,81.96 340.37,82.21 340.18,82.3 C339.99,82.39 339.76,82.42 339.53,82.41 C339.31,82.4 339.08,82.32 338.84,82.22 C338.59,82.13 338.34,81.99 338.08,81.82 C337.81,81.64 337.5,81.44 337.26,81.19 C337.01,80.94 336.82,80.64 336.59,80.31 C336.36,79.99 336.1,79.66 335.9,79.25 C335.69,78.85 335.46,78.36 335.35,77.9 C335.24,77.44 335.18,76.93 335.22,76.47 C335.25,76.02 335.41,75.59 335.57,75.17 C335.73,74.75 335.97,74.33 336.19,73.96 C336.4,73.58 336.69,73.22 336.87,72.95 C337.05,72.68 337.15,72.48 337.27,72.31 C337.4,72.15 337.53,72.05 337.62,71.97 C337.72,71.89 337.75,71.85 337.84,71.84 C337.93,71.84 338.11,71.87 338.18,71.93 C338.24,71.99 338.25,72.13 338.24,72.2 C338.23,72.26 338.21,72.29 338.1,72.32 C338,72.35 337.84,72.36 337.6,72.38 C337.36,72.41 336.98,72.51 336.67,72.48 C336.37,72.45 336.06,72.36 335.78,72.22 C335.5,72.09 335.25,71.89 335,71.66 C334.75,71.42 334.5,71.16 334.27,70.81 C334.04,70.47 333.8,70.01 333.63,69.58 C333.47,69.16 333.47,68.74 333.29,68.24 C333.12,67.75 332.67,67.14 332.6,66.63 C332.53,66.12 332.74,65.66 332.86,65.2 C332.99,64.73 333.14,64.25 333.35,63.85 C333.57,63.44 333.83,63.06 334.13,62.77 C334.43,62.47 334.74,62.09 335.15,62.05 C335.56,62.02 336.14,62.32 336.58,62.58 C337.03,62.84 337.63,63.44 337.84,63.61" fill="none" stroke="#de9160" stroke-width="0.72"/><path d="M349.95,86.16 C350.2,86.25 351.03,86.52 351.49,86.72 C351.95,86.92 352.26,87.1 352.69,87.36 C353.12,87.62 353.65,87.9 354.06,88.26 C354.47,88.62 354.84,89.03 355.14,89.54 C355.45,90.04 355.69,90.72 355.87,91.27 C356.06,91.81 356.21,92.25 356.26,92.81 C356.32,93.36 356.32,94.03 356.22,94.59 C356.13,95.15 355.94,95.7 355.69,96.18 C355.43,96.65 355.11,97.1 354.71,97.43 C354.32,97.76 353.77,98 353.33,98.14 C352.89,98.28 352.39,98.27 352.06,98.28 C351.73,98.29 351.55,98.31 351.37,98.2 C351.18,98.09 351.01,97.83 350.94,97.63 C350.87,97.44 350.85,97.25 350.95,97.02 C351.05,96.8 351.28,96.48 351.54,96.3 C351.8,96.11 352.12,96.01 352.53,95.92 C352.93,95.83 353.46,95.72 353.96,95.76 C354.47,95.8 355.1,95.93 355.56,96.15 C356.03,96.37 356.4,96.72 356.75,97.08 C357.09,97.45 357.36,97.87 357.62,98.36 C357.88,98.85 358.13,99.49 358.29,100.03 C358.44,100.57 358.54,100.99 358.55,101.59 C358.56,102.19 358.57,102.99 358.38,103.63 C358.19,104.27 357.72,104.94 357.42,105.43 C357.12,105.92 356.87,106.23 356.58,106.57 C356.28,106.9 356.02,107.21 355.65,107.42 C355.28,107.63 354.71,107.77 354.35,107.82 C354,107.88 353.74,107.83 353.52,107.74 C353.3,107.65 353.12,107.5 353.05,107.29 C352.97,107.09 352.97,106.73 353.06,106.5 C353.15,106.28 353.33,106.15 353.59,105.93 C353.85,105.71 354.21,105.35 354.59,105.18 C354.97,105 355.48,104.88 355.88,104.87 C356.27,104.86 356.57,104.98 356.99,105.13 C357.4,105.28 357.96,105.51 358.34,105.78 C358.72,106.06 358.97,106.39 359.26,106.77 C359.55,107.15 359.85,107.55 360.09,108.08 C360.33,108.61 360.56,109.33 360.68,109.94 C360.81,110.55 360.84,111.15 360.82,111.76 C360.8,112.36 360.73,113.21 360.54,113.55 C360.34,113.89 360,113.74 359.66,113.79 C359.31,113.84 358.91,113.9 358.48,113.86 C358.05,113.81 357.29,113.57 357.05,113.51" fill="none" stroke="#de9160" stroke-width="0.72"/><path d="M358.04,90.21 C358.03,89.91 357.91,89 357.96,88.43 C358.01,87.85 358.16,87.28 358.33,86.75 C358.5,86.22 358.7,85.76 358.97,85.25 C359.25,84.75 359.62,84.15 360,83.73 C360.37,83.31 360.75,82.98 361.22,82.73 C361.69,82.48 362.26,82.29 362.8,82.24 C363.35,82.19 364.02,82.35 364.49,82.44 C364.95,82.53 365.25,82.61 365.59,82.78 C365.94,82.95 366.37,83.25 366.57,83.48 C366.77,83.71 366.79,83.91 366.8,84.14 C366.82,84.38 366.74,84.7 366.66,84.89 C366.58,85.07 366.53,85.17 366.31,85.26 C366.09,85.35 365.65,85.46 365.35,85.4 C365.05,85.34 364.78,85.14 364.51,84.9 C364.24,84.67 363.98,84.4 363.72,84 C363.46,83.6 363.12,83.05 362.94,82.51 C362.76,81.96 362.65,81.32 362.66,80.71 C362.67,80.11 362.84,79.44 362.99,78.87 C363.14,78.3 363.32,77.79 363.54,77.29 C363.76,76.78 364.03,76.26 364.31,75.82 C364.6,75.38 364.97,74.95 365.25,74.64 C365.53,74.34 365.76,74.12 365.98,73.97 C366.2,73.82 366.37,73.72 366.59,73.74 C366.8,73.77 367.12,73.97 367.29,74.12 C367.46,74.28 367.6,74.39 367.62,74.67 C367.65,74.94 367.61,75.43 367.46,75.79 C367.31,76.14 367.07,76.44 366.71,76.8 C366.34,77.16 365.78,77.7 365.27,77.96 C364.75,78.21 364.2,78.3 363.64,78.35 C363.07,78.39 362.46,78.35 361.88,78.23 C361.31,78.1 360.73,77.84 360.19,77.59 C359.64,77.34 359.1,77.1 358.62,76.73 C358.15,76.36 357.68,75.88 357.34,75.37 C356.99,74.87 356.75,74.21 356.55,73.69 C356.36,73.17 356.21,72.78 356.16,72.27 C356.12,71.76 356.14,71.12 356.27,70.65 C356.4,70.17 356.72,69.75 356.92,69.44 C357.12,69.14 357.23,68.97 357.45,68.82 C357.66,68.67 357.96,68.53 358.21,68.53 C358.46,68.53 358.76,68.66 358.94,68.82 C359.12,68.97 359.24,69.18 359.27,69.45 C359.31,69.71 359.25,70.03 359.13,70.4 C359.02,70.78 358.68,71.5 358.59,71.71" fill="none" stroke="#de9160" stroke-width="0.72"/><path d="M370.14,84.88 C370.24,84.85 370.57,84.68 370.77,84.7 C370.97,84.72 371.18,84.87 371.33,85 C371.48,85.13 371.64,85.28 371.64,85.49 C371.65,85.69 371.52,86.01 371.36,86.22 C371.19,86.44 370.94,86.65 370.66,86.78 C370.39,86.92 370.06,87 369.69,87.03 C369.32,87.07 368.86,87.07 368.44,86.99 C368.02,86.9 367.51,86.74 367.16,86.52 C366.8,86.31 366.58,86.01 366.32,85.68 C366.05,85.35 365.83,84.96 365.59,84.55 C365.36,84.13 365.07,83.69 364.91,83.2 C364.74,82.71 364.65,82.16 364.61,81.6 C364.57,81.05 364.56,80.43 364.66,79.86 C364.75,79.29 364.94,78.71 365.18,78.21 C365.42,77.71 365.7,77.26 366.09,76.86 C366.48,76.45 367.06,76.07 367.53,75.79 C368,75.52 368.46,75.31 368.92,75.2 C369.38,75.09 369.91,75.12 370.27,75.14 C370.64,75.15 370.91,75.25 371.1,75.32 C371.29,75.39 371.33,75.43 371.4,75.58 C371.48,75.73 371.63,75.99 371.56,76.2 C371.49,76.42 371.21,76.74 371,76.88 C370.79,77.03 370.59,77.04 370.29,77.07 C369.98,77.09 369.52,77.11 369.17,77.04 C368.82,76.97 368.56,76.84 368.18,76.64 C367.81,76.45 367.35,76.21 366.93,75.86 C366.51,75.51 365.98,75.03 365.66,74.55 C365.35,74.06 365.15,73.52 365.03,72.95 C364.91,72.38 364.86,71.73 364.92,71.14 C364.98,70.56 365.17,69.98 365.39,69.44 C365.61,68.91 365.87,68.38 366.23,67.93 C366.59,67.48 367.07,67.07 367.55,66.73 C368.03,66.4 368.68,66.13 369.12,65.93 C369.57,65.73 369.81,65.57 370.22,65.53 C370.64,65.5 371.22,65.59 371.62,65.72 C372.02,65.85 372.36,66.09 372.62,66.3 C372.88,66.5 373.08,66.74 373.18,66.94 C373.29,67.14 373.29,67.33 373.26,67.49 C373.23,67.65 373.15,67.78 373,67.9 C372.86,68.02 372.55,68.19 372.37,68.22 C372.19,68.26 372.11,68.21 371.93,68.13 C371.76,68.04 371.52,67.9 371.34,67.7 C371.16,67.49 370.94,67.03 370.87,66.89" fill="none" stroke="#de9160" stroke-width="0.72"/><path d="M384.15,90.28 C384.12,90.45 384.03,91.05 383.95,91.32 C383.88,91.58 383.84,91.74 383.71,91.87 C383.58,91.99 383.36,92.09 383.19,92.06 C383.03,92.04 382.82,91.86 382.72,91.73 C382.61,91.59 382.6,91.47 382.57,91.24 C382.53,91.02 382.47,90.69 382.52,90.39 C382.58,90.09 382.7,89.71 382.9,89.45 C383.1,89.19 383.4,89.03 383.72,88.82 C384.05,88.62 384.44,88.39 384.87,88.23 C385.3,88.08 385.79,87.93 386.29,87.89 C386.79,87.85 387.36,87.91 387.86,87.99 C388.36,88.08 388.72,88.3 389.27,88.38 C389.81,88.46 390.58,88.22 391.15,88.49 C391.71,88.77 392.29,89.52 392.67,90.04 C393.05,90.56 393.23,91.09 393.41,91.63 C393.59,92.18 393.71,92.69 393.75,93.29 C393.78,93.89 393.68,94.69 393.62,95.23 C393.55,95.76 393.58,96.07 393.36,96.5 C393.13,96.93 392.62,97.51 392.25,97.81 C391.88,98.11 391.49,98.22 391.14,98.3 C390.78,98.37 390.35,98.34 390.11,98.26 C389.86,98.18 389.77,98.04 389.67,97.84 C389.57,97.64 389.47,97.42 389.5,97.06 C389.53,96.7 389.61,96.17 389.84,95.67 C390.08,95.17 390.47,94.51 390.91,94.06 C391.35,93.62 391.93,93.26 392.46,92.98 C392.99,92.7 393.65,92.57 394.11,92.37 C394.58,92.17 394.91,91.89 395.23,91.8 C395.55,91.7 395.8,91.75 396.02,91.81 C396.24,91.86 396.44,91.92 396.57,92.14 C396.71,92.36 396.83,92.73 396.82,93.11 C396.82,93.5 396.73,93.97 396.54,94.45 C396.36,94.93 396.05,95.55 395.71,95.97 C395.38,96.39 394.99,96.66 394.55,96.96 C394.1,97.27 393.57,97.59 393.04,97.8 C392.51,98.01 391.97,98.13 391.37,98.23 C390.76,98.34 390.1,98.46 389.41,98.41 C388.72,98.37 387.85,98.16 387.21,97.95 C386.58,97.75 386.04,97.44 385.6,97.18 C385.15,96.93 384.82,96.65 384.55,96.41 C384.29,96.16 384.1,96.04 383.98,95.71 C383.86,95.39 383.8,94.78 383.83,94.46 C383.86,94.15 384.1,93.92 384.15,93.81" fill="none" stroke="#de9160" stroke-width="0.72"/><path d="M386.18,87.61 C386.25,87.55 386.45,87.29 386.64,87.21 C386.84,87.14 387.17,87.11 387.34,87.15 C387.52,87.2 387.62,87.37 387.69,87.48 C387.76,87.6 387.78,87.7 387.74,87.83 C387.69,87.96 387.57,88.1 387.43,88.26 C387.28,88.43 387.09,88.65 386.86,88.82 C386.63,88.99 386.39,89.14 386.05,89.27 C385.71,89.41 385.27,89.56 384.82,89.62 C384.36,89.68 383.81,89.68 383.31,89.64 C382.81,89.6 382.29,89.52 381.82,89.37 C381.35,89.22 380.91,89.02 380.5,88.73 C380.09,88.43 379.66,88.04 379.34,87.62 C379.01,87.19 378.73,86.7 378.56,86.18 C378.39,85.67 378.31,85.04 378.3,84.53 C378.28,84.02 378.35,83.54 378.48,83.1 C378.61,82.66 378.84,82.25 379.06,81.9 C379.28,81.54 379.56,81.22 379.81,80.96 C380.06,80.69 380.28,80.47 380.56,80.3 C380.84,80.13 381.22,80.02 381.49,79.94 C381.76,79.86 381.95,79.81 382.18,79.8 C382.42,79.79 382.68,79.79 382.89,79.88 C383.1,79.96 383.34,80.13 383.45,80.31 C383.56,80.48 383.6,80.76 383.56,80.92 C383.52,81.09 383.37,81.21 383.2,81.29 C383.03,81.37 382.76,81.46 382.55,81.42 C382.34,81.37 382.12,81.17 381.94,81 C381.77,80.83 381.63,80.64 381.49,80.39 C381.35,80.14 381.17,79.83 381.1,79.5 C381.02,79.16 380.98,78.69 381.04,78.36 C381.11,78.03 381.29,77.77 381.48,77.5 C381.68,77.23 381.91,76.98 382.22,76.74 C382.52,76.51 382.9,76.28 383.32,76.09 C383.74,75.91 384.25,75.69 384.75,75.63 C385.24,75.57 385.81,75.65 386.31,75.72 C386.8,75.78 387.25,75.85 387.72,76 C388.18,76.15 388.64,76.37 389.07,76.61 C389.51,76.85 389.98,77.16 390.33,77.42 C390.68,77.68 390.96,77.94 391.18,78.2 C391.39,78.45 391.57,78.74 391.64,78.96 C391.7,79.19 391.59,79.41 391.54,79.55 C391.49,79.69 391.4,79.74 391.34,79.8 C391.28,79.86 391.3,79.92 391.18,79.92 C391.06,79.91 390.71,79.8 390.62,79.78" fill="none" stroke="#de9160" stroke-width="0.72"/><path d="M391.65,86.96 C391.77,86.85 392.08,86.49 392.38,86.33 C392.68,86.17 393.04,86.08 393.46,85.99 C393.87,85.9 394.33,85.84 394.87,85.81 C395.4,85.79 396.05,85.73 396.65,85.84 C397.26,85.95 397.98,86.21 398.51,86.48 C399.05,86.75 399.48,87.08 399.89,87.49 C400.3,87.89 400.87,88.44 400.99,88.9 C401.1,89.36 400.78,89.83 400.58,90.26 C400.38,90.68 400.09,91.09 399.79,91.47 C399.49,91.85 399.15,92.17 398.77,92.52 C398.39,92.88 397.98,93.27 397.51,93.6 C397.04,93.94 396.45,94.3 395.96,94.53 C395.46,94.76 394.97,94.9 394.56,95 C394.15,95.11 393.84,95.18 393.49,95.16 C393.15,95.14 392.78,95.01 392.49,94.88 C392.19,94.76 391.89,94.59 391.73,94.39 C391.56,94.18 391.48,93.84 391.48,93.66 C391.48,93.47 391.6,93.4 391.73,93.29 C391.85,93.17 392,93.02 392.23,92.97 C392.45,92.91 392.75,92.88 393.07,92.95 C393.39,93.03 393.84,93.19 394.16,93.42 C394.48,93.64 394.73,93.95 394.99,94.3 C395.25,94.64 395.48,95.05 395.71,95.49 C395.95,95.94 396.27,96.59 396.39,96.95 C396.51,97.3 396.52,97.43 396.44,97.63 C396.36,97.83 396.18,97.97 395.92,98.17 C395.66,98.38 395.27,98.83 394.88,98.86 C394.5,98.89 393.97,98.48 393.59,98.35 C393.22,98.23 393.04,98.21 392.63,98.09 C392.23,97.98 391.6,97.84 391.16,97.66 C390.71,97.47 390.36,97.23 389.95,96.97 C389.55,96.71 389.11,96.45 388.73,96.11 C388.35,95.77 387.95,95.31 387.68,94.92 C387.41,94.54 387.22,94.21 387.11,93.8 C387,93.38 387.02,92.84 387.02,92.46 C387.02,92.08 387.01,91.8 387.12,91.5 C387.24,91.21 387.51,90.86 387.7,90.68 C387.9,90.51 388.18,90.45 388.3,90.46 C388.43,90.46 388.4,90.57 388.45,90.7 C388.5,90.83 388.61,90.97 388.59,91.23 C388.57,91.49 388.48,91.94 388.32,92.24 C388.16,92.54 387.94,92.77 387.63,93.03 C387.33,93.3 386.69,93.69 386.5,93.82" fill="none" stroke="#de9160" stroke-width="0.72"/><path d="M336.4,94.65 C336.56,94.86 337.14,95.6 337.35,95.91 C337.56,96.22 337.63,96.38 337.65,96.53 C337.66,96.68 337.58,96.77 337.44,96.82 C337.3,96.88 337.05,96.89 336.83,96.86 C336.61,96.83 336.41,96.77 336.12,96.64 C335.83,96.5 335.39,96.29 335.11,96.03 C334.82,95.77 334.61,95.45 334.43,95.07 C334.25,94.69 334.06,94.22 334.01,93.75 C333.96,93.28 334.01,92.72 334.14,92.25 C334.28,91.78 334.55,91.32 334.83,90.92 C335.1,90.51 335.38,90.15 335.79,89.82 C336.2,89.49 336.77,89.13 337.28,88.91 C337.8,88.69 338.36,88.59 338.9,88.51 C339.43,88.42 340.02,88.37 340.5,88.39 C340.98,88.41 341.39,88.51 341.78,88.63 C342.17,88.76 342.51,88.91 342.83,89.13 C343.15,89.36 343.48,89.66 343.7,89.99 C343.92,90.32 344.05,90.79 344.15,91.1 C344.25,91.4 344.33,91.57 344.3,91.82 C344.27,92.07 344.11,92.39 343.96,92.58 C343.8,92.78 343.51,92.91 343.37,93 C343.23,93.09 343.17,93.12 343.1,93.12 C343.02,93.12 342.95,93.09 342.91,93 C342.88,92.91 342.85,92.75 342.88,92.58 C342.91,92.41 342.97,92.19 343.08,91.98 C343.2,91.77 343.34,91.57 343.58,91.32 C343.83,91.06 344.18,90.69 344.55,90.45 C344.92,90.21 345.4,89.97 345.82,89.85 C346.23,89.74 346.63,89.74 347.06,89.77 C347.5,89.8 347.97,89.9 348.43,90.03 C348.88,90.17 349.32,90.36 349.79,90.58 C350.25,90.8 350.76,91.04 351.19,91.34 C351.62,91.64 352.04,92.05 352.36,92.39 C352.68,92.73 352.92,93.01 353.11,93.38 C353.3,93.76 353.44,94.27 353.53,94.62 C353.61,94.98 353.62,95.29 353.62,95.52 C353.63,95.74 353.59,95.9 353.55,95.99 C353.5,96.09 353.48,96.11 353.35,96.11 C353.23,96.1 352.96,96.08 352.8,95.96 C352.64,95.83 352.46,95.61 352.38,95.36 C352.3,95.12 352.31,94.78 352.34,94.47 C352.38,94.16 352.46,93.8 352.61,93.49 C352.76,93.18 353.13,92.76 353.23,92.61" fill="none" stroke="#de9160" stroke-width="0.72"/><path d="M345.07,97.89 C345.23,97.97 345.69,98.15 346.04,98.37 C346.38,98.58 346.79,98.86 347.14,99.19 C347.48,99.52 347.85,99.92 348.1,100.34 C348.36,100.76 348.49,101.26 348.65,101.7 C348.8,102.14 348.95,102.57 349.05,102.98 C349.14,103.39 349.23,103.77 349.23,104.17 C349.22,104.57 349.12,105.02 349.03,105.38 C348.93,105.73 348.77,106.04 348.65,106.3 C348.53,106.55 348.39,106.76 348.3,106.9 C348.21,107.03 348.21,107.09 348.11,107.13 C348,107.17 347.76,107.16 347.65,107.15 C347.54,107.15 347.43,107.19 347.46,107.12 C347.48,107.05 347.65,106.85 347.81,106.71 C347.96,106.57 348.14,106.43 348.37,106.29 C348.6,106.15 348.86,106 349.18,105.88 C349.5,105.76 349.92,105.63 350.31,105.57 C350.69,105.51 351.08,105.54 351.48,105.52 C351.89,105.51 352.29,105.41 352.74,105.49 C353.18,105.56 353.72,105.77 354.16,105.97 C354.6,106.17 355.02,106.37 355.37,106.67 C355.71,106.98 356.03,107.42 356.24,107.81 C356.46,108.2 356.59,108.62 356.66,109.03 C356.74,109.44 356.69,109.92 356.69,110.25 C356.69,110.57 356.7,110.76 356.66,110.97 C356.61,111.19 356.51,111.38 356.44,111.53 C356.36,111.69 356.28,111.8 356.2,111.91 C356.12,112.03 356.1,112.13 355.95,112.21 C355.8,112.28 355.4,112.38 355.3,112.35 C355.2,112.33 355.31,112.19 355.35,112.07 C355.4,111.94 355.51,111.92 355.57,111.61 C355.64,111.29 355.58,110.65 355.73,110.17 C355.88,109.69 356.17,109.14 356.45,108.73 C356.73,108.32 357.06,107.98 357.38,107.71 C357.71,107.44 358.01,107.36 358.39,107.1 C358.78,106.83 359.28,106.26 359.67,106.12 C360.07,105.98 360.44,106.17 360.77,106.26 C361.11,106.35 361.43,106.47 361.7,106.67 C361.96,106.88 362.2,107.23 362.37,107.5 C362.54,107.76 362.63,108 362.71,108.26 C362.78,108.52 362.88,108.77 362.81,109.04 C362.74,109.3 362.46,109.68 362.3,109.85 C362.14,110.01 362.09,110 361.86,110.03 C361.62,110.06 361.05,110.04 360.89,110.04" fill="none" stroke="#de9160" stroke-width="0.72"/><path d="M352.94,96.2 C353.25,96.28 354.28,96.45 354.8,96.64 C355.33,96.82 355.94,96.97 356.09,97.32 C356.25,97.66 355.71,98.41 355.74,98.72 C355.78,99.03 356.14,99.01 356.3,99.16 C356.45,99.32 356.6,99.52 356.67,99.67 C356.75,99.83 356.75,100.04 356.74,100.11 C356.73,100.19 356.68,100.15 356.63,100.1 C356.58,100.05 356.5,99.97 356.43,99.82 C356.37,99.68 356.28,99.45 356.26,99.25 C356.24,99.04 356.29,98.87 356.32,98.57 C356.34,98.28 356.31,97.84 356.41,97.48 C356.51,97.12 356.71,96.76 356.94,96.42 C357.16,96.08 357.45,95.7 357.77,95.44 C358.09,95.18 358.47,95 358.86,94.86 C359.26,94.71 359.72,94.61 360.15,94.57 C360.57,94.52 361.02,94.52 361.42,94.58 C361.83,94.64 362.19,94.76 362.58,94.92 C362.98,95.07 363.44,95.28 363.79,95.51 C364.14,95.73 364.45,96.01 364.69,96.28 C364.93,96.55 365.08,96.88 365.23,97.13 C365.38,97.38 365.52,97.56 365.6,97.76 C365.68,97.96 365.69,98.18 365.73,98.34 C365.76,98.5 365.79,98.61 365.78,98.71 C365.77,98.81 365.7,98.92 365.67,98.96 C365.63,99 365.59,98.97 365.59,98.95 C365.6,98.93 365.65,98.93 365.69,98.83 C365.73,98.73 365.76,98.53 365.86,98.35 C365.95,98.17 366.07,97.91 366.25,97.74 C366.43,97.56 366.69,97.41 366.95,97.3 C367.2,97.2 367.47,97.16 367.77,97.12 C368.07,97.09 368.38,97.22 368.74,97.1 C369.11,96.97 369.51,96.41 369.98,96.37 C370.45,96.33 371.03,96.61 371.54,96.86 C372.05,97.11 372.61,97.49 373.05,97.87 C373.49,98.25 373.86,98.69 374.17,99.14 C374.47,99.59 374.71,100.15 374.88,100.56 C375.04,100.97 375.15,101.25 375.17,101.6 C375.19,101.95 375.07,102.39 374.99,102.68 C374.92,102.96 374.87,103.16 374.73,103.31 C374.58,103.46 374.33,103.54 374.13,103.58 C373.93,103.62 373.67,103.6 373.53,103.55 C373.38,103.49 373.31,103.36 373.25,103.26 C373.2,103.16 373.21,103 373.2,102.95" fill="none" stroke="#de9160" stroke-width="0.72"/><path d="M360.6,98.57 C360.51,98.26 360.14,97.29 360.03,96.71 C359.92,96.13 359.92,95.59 359.95,95.08 C359.98,94.58 360.07,94.13 360.22,93.68 C360.37,93.22 360.66,92.7 360.87,92.34 C361.08,91.98 361.23,91.72 361.5,91.51 C361.77,91.3 362.19,91.13 362.5,91.07 C362.81,91 363.14,91.04 363.36,91.12 C363.58,91.2 363.73,91.35 363.83,91.55 C363.93,91.74 364.05,92.03 363.97,92.29 C363.89,92.55 363.65,92.89 363.35,93.13 C363.05,93.37 362.64,93.58 362.18,93.74 C361.73,93.91 361.16,94.07 360.62,94.12 C360.08,94.17 359.51,94.16 358.94,94.04 C358.38,93.91 357.75,93.68 357.25,93.38 C356.75,93.08 356.34,92.62 355.96,92.25 C355.57,91.87 355.22,91.53 354.93,91.11 C354.64,90.69 354.4,90.2 354.22,89.72 C354.03,89.24 353.88,88.71 353.82,88.24 C353.76,87.76 353.79,87.31 353.88,86.87 C353.96,86.42 354.11,85.95 354.32,85.58 C354.54,85.21 354.9,84.88 355.14,84.65 C355.38,84.42 355.55,84.26 355.76,84.21 C355.97,84.16 356.25,84.26 356.4,84.36 C356.55,84.45 356.75,84.52 356.67,84.77 C356.59,85.01 356.11,85.58 355.93,85.82 C355.75,86.05 355.78,86.05 355.6,86.18 C355.43,86.31 355.17,86.48 354.87,86.59 C354.57,86.71 354.21,86.81 353.81,86.88 C353.41,86.96 352.94,87.05 352.47,87.04 C352,87.03 351.48,86.95 350.97,86.83 C350.46,86.7 349.88,86.5 349.43,86.29 C348.97,86.09 348.59,85.88 348.23,85.62 C347.87,85.36 347.51,85.03 347.25,84.74 C347,84.44 346.83,84.1 346.68,83.85 C346.54,83.6 346.4,83.45 346.37,83.22 C346.33,82.99 346.42,82.62 346.47,82.46 C346.52,82.29 346.56,82.25 346.68,82.24 C346.79,82.24 347.05,82.35 347.14,82.43 C347.22,82.51 347.17,82.58 347.2,82.73 C347.23,82.88 347.33,83.14 347.32,83.36 C347.31,83.58 347.24,83.84 347.11,84.06 C346.99,84.27 346.79,84.47 346.56,84.65 C346.33,84.83 345.85,85.05 345.71,85.13" fill="none" stroke="#de9160" stroke-width="0.72"/><path d="M370.98,94.03 C371.1,94.22 371.51,94.73 371.68,95.14 C371.86,95.55 371.96,96.04 372.05,96.48 C372.14,96.92 372.21,97.32 372.23,97.75 C372.26,98.19 372.27,98.67 372.18,99.08 C372.1,99.5 371.89,99.89 371.72,100.25 C371.55,100.6 371.36,100.91 371.17,101.2 C370.97,101.49 370.76,101.8 370.53,102 C370.3,102.21 369.94,102.33 369.79,102.43 C369.63,102.52 369.67,102.57 369.6,102.57 C369.53,102.57 369.4,102.46 369.35,102.43 C369.3,102.4 369.28,102.42 369.29,102.38 C369.31,102.33 369.32,102.25 369.45,102.18 C369.57,102.11 369.82,101.98 370.04,101.95 C370.26,101.93 370.49,102.04 370.77,102.05 C371.05,102.06 371.4,101.9 371.73,102.01 C372.05,102.12 372.41,102.44 372.7,102.71 C373,102.99 373.21,103.37 373.5,103.67 C373.78,103.97 374.21,104.09 374.4,104.49 C374.6,104.9 374.64,105.55 374.66,106.1 C374.68,106.66 374.66,107.26 374.52,107.84 C374.39,108.42 374.17,109.05 373.85,109.56 C373.53,110.08 373.01,110.55 372.59,110.93 C372.18,111.31 371.76,111.61 371.34,111.86 C370.92,112.1 370.52,112.29 370.07,112.41 C369.62,112.53 369.08,112.61 368.62,112.59 C368.16,112.57 367.68,112.45 367.29,112.29 C366.91,112.12 366.55,111.82 366.3,111.59 C366.06,111.37 365.91,111.17 365.82,110.95 C365.73,110.73 365.72,110.46 365.75,110.29 C365.77,110.12 365.87,109.99 365.98,109.93 C366.1,109.87 366.2,110.07 366.45,109.93 C366.7,109.79 367.13,109.32 367.48,109.09 C367.83,108.86 368.19,108.65 368.55,108.55 C368.91,108.45 369.32,108.48 369.63,108.48 C369.94,108.48 370.14,108.44 370.4,108.55 C370.66,108.66 370.99,108.95 371.18,109.14 C371.37,109.34 371.5,109.53 371.54,109.71 C371.58,109.9 371.48,110.12 371.41,110.26 C371.34,110.4 371.3,110.49 371.12,110.56 C370.95,110.64 370.62,110.74 370.35,110.71 C370.09,110.69 369.78,110.62 369.52,110.42 C369.25,110.21 368.94,109.87 368.76,109.5 C368.58,109.12 368.48,108.4 368.42,108.18" fill="none" stroke="#de9160" stroke-width="0.72"/><path d="M375.35,97.22 C375.41,97.18 375.65,97.04 375.75,97 C375.84,96.96 375.86,96.97 375.92,96.97 C375.97,96.97 376.04,96.97 376.08,97 C376.12,97.03 376.08,97.05 376.18,97.13 C376.27,97.21 376.66,97.29 376.65,97.48 C376.63,97.67 376.26,97.94 376.08,98.24 C375.9,98.55 375.93,99.06 375.58,99.32 C375.24,99.58 374.58,99.74 373.99,99.82 C373.41,99.89 372.67,99.87 372.08,99.78 C371.49,99.68 370.97,99.49 370.46,99.23 C369.95,98.98 369.45,98.68 369.01,98.26 C368.58,97.85 368.15,97.3 367.84,96.75 C367.53,96.21 367.3,95.64 367.14,94.99 C366.98,94.34 366.89,93.51 366.88,92.86 C366.87,92.21 366.92,91.62 367.08,91.07 C367.23,90.52 367.57,89.96 367.79,89.58 C368.01,89.19 368.1,88.98 368.4,88.75 C368.71,88.52 369.24,88.29 369.62,88.19 C370,88.08 370.41,88.09 370.68,88.13 C370.95,88.16 371.08,88.22 371.25,88.4 C371.41,88.59 371.63,88.94 371.67,89.23 C371.7,89.52 371.6,89.86 371.45,90.14 C371.31,90.42 371.09,90.67 370.78,90.89 C370.48,91.1 370.14,91.45 369.63,91.43 C369.12,91.4 368.32,90.7 367.72,90.75 C367.12,90.81 366.65,91.68 366.01,91.74 C365.37,91.81 364.52,91.41 363.87,91.14 C363.23,90.87 362.61,90.45 362.12,90.13 C361.64,89.82 361.27,89.66 360.94,89.23 C360.6,88.81 360.29,88.08 360.11,87.58 C359.93,87.08 359.88,86.64 359.87,86.23 C359.87,85.83 359.95,85.44 360.08,85.16 C360.21,84.88 360.4,84.67 360.66,84.54 C360.92,84.42 361.34,84.34 361.66,84.42 C361.99,84.5 362.32,84.69 362.61,85.02 C362.9,85.34 363.25,85.89 363.39,86.37 C363.54,86.84 363.65,87.37 363.47,87.89 C363.29,88.41 362.67,89.04 362.31,89.47 C361.95,89.91 361.71,90.21 361.31,90.52 C360.91,90.82 360.39,91.1 359.92,91.29 C359.44,91.48 358.95,91.6 358.44,91.66 C357.93,91.71 357.37,91.7 356.87,91.62 C356.37,91.53 355.67,91.23 355.43,91.15" fill="none" stroke="#de9160" stroke-width="0.72"/><path d="M383.22,100.15 C383.1,100.02 382.65,99.64 382.49,99.38 C382.32,99.13 382.28,98.83 382.23,98.6 C382.17,98.38 382.16,98.21 382.16,98.04 C382.17,97.87 382.12,97.71 382.24,97.58 C382.36,97.45 382.72,97.28 382.9,97.28 C383.07,97.28 383.15,97.42 383.3,97.58 C383.45,97.74 383.66,97.94 383.81,98.23 C383.96,98.53 384.11,98.94 384.19,99.35 C384.28,99.75 384.35,100.18 384.32,100.68 C384.29,101.18 384.18,101.81 384.01,102.32 C383.84,102.83 383.64,103.29 383.29,103.75 C382.94,104.21 382.38,104.74 381.92,105.07 C381.46,105.4 381.05,105.53 380.53,105.73 C380.01,105.92 379.35,106.12 378.8,106.23 C378.26,106.34 377.74,106.4 377.27,106.38 C376.8,106.37 376.37,106.25 376,106.15 C375.62,106.05 375.28,105.98 374.99,105.78 C374.7,105.59 374.45,105.24 374.26,105 C374.07,104.76 373.93,104.54 373.85,104.32 C373.78,104.11 373.81,103.89 373.81,103.72 C373.82,103.56 373.8,103.41 373.89,103.33 C373.98,103.25 374.13,103.2 374.35,103.24 C374.57,103.27 374.94,103.34 375.22,103.54 C375.49,103.75 375.81,104.09 376.02,104.47 C376.23,104.85 376.41,105.36 376.48,105.83 C376.55,106.31 376.53,106.77 376.45,107.32 C376.37,107.87 376.24,108.59 376,109.13 C375.76,109.66 375.43,110.09 375.02,110.53 C374.6,110.97 374.03,111.47 373.52,111.76 C373.01,112.05 372.51,112.17 371.97,112.28 C371.43,112.38 370.8,112.42 370.27,112.38 C369.74,112.33 369.27,112.2 368.8,112.02 C368.33,111.84 367.86,111.65 367.45,111.3 C367.05,110.95 366.67,110.33 366.4,109.93 C366.13,109.52 365.98,109.2 365.84,108.86 C365.71,108.53 365.6,108.22 365.56,107.92 C365.53,107.62 365.54,107.29 365.65,107.08 C365.77,106.86 366.06,106.66 366.26,106.61 C366.45,106.56 366.65,106.67 366.81,106.79 C366.97,106.91 367.08,107.1 367.2,107.32 C367.32,107.54 367.5,107.83 367.55,108.12 C367.6,108.41 367.6,108.75 367.52,109.06 C367.45,109.37 367.17,109.83 367.1,109.98" fill="none" stroke="#de9160" stroke-width="0.72"/><path d="M343.99,102.93 C344.12,102.97 344.52,103.02 344.72,103.18 C344.93,103.35 345.16,103.74 345.23,103.9 C345.31,104.06 345.28,104.08 345.19,104.16 C345.11,104.24 344.98,104.3 344.71,104.36 C344.44,104.42 343.99,104.55 343.58,104.53 C343.17,104.51 342.64,104.39 342.25,104.23 C341.85,104.06 341.55,103.83 341.22,103.53 C340.89,103.23 340.53,102.84 340.26,102.41 C340,101.99 339.78,101.52 339.64,101 C339.5,100.48 339.38,99.88 339.42,99.3 C339.46,98.72 339.65,98.06 339.9,97.52 C340.15,96.97 340.54,96.48 340.93,96.03 C341.31,95.59 341.8,95.17 342.22,94.84 C342.65,94.51 343.06,94.25 343.47,94.08 C343.87,93.92 344.31,93.88 344.65,93.85 C344.99,93.81 345.27,93.81 345.51,93.87 C345.76,93.94 345.97,94.12 346.12,94.23 C346.27,94.35 346.39,94.47 346.42,94.58 C346.44,94.7 346.4,94.82 346.26,94.93 C346.12,95.03 345.85,95.18 345.6,95.23 C345.36,95.28 345.08,95.27 344.79,95.23 C344.51,95.18 344.24,95.12 343.91,94.98 C343.59,94.84 343.18,94.63 342.86,94.37 C342.53,94.12 342.29,93.83 341.96,93.46 C341.63,93.08 341.18,92.57 340.89,92.11 C340.59,91.64 340.35,91.19 340.18,90.68 C340,90.17 339.89,89.57 339.83,89.04 C339.76,88.51 339.75,87.96 339.79,87.49 C339.83,87.03 339.9,86.63 340.05,86.25 C340.2,85.88 340.49,85.47 340.66,85.25 C340.84,85.02 340.93,84.93 341.11,84.9 C341.28,84.88 341.57,85 341.7,85.11 C341.82,85.21 341.84,85.37 341.86,85.54 C341.87,85.71 341.86,85.84 341.79,86.14 C341.72,86.43 341.63,86.97 341.45,87.3 C341.28,87.64 341.05,87.85 340.74,88.14 C340.43,88.43 340.01,88.84 339.57,89.06 C339.13,89.29 338.54,89.44 338.09,89.47 C337.64,89.5 337.3,89.36 336.86,89.26 C336.41,89.15 335.95,89.05 335.43,88.86 C334.9,88.67 334.18,88.42 333.69,88.13 C333.2,87.84 332.83,87.5 332.48,87.12 C332.13,86.74 331.72,86.05 331.57,85.83" fill="none" stroke="#de9160" stroke-width="0.72"/><path d="M350.67,107.02 C350.65,106.8 350.56,106.12 350.54,105.73 C350.53,105.35 350.5,105.01 350.57,104.7 C350.63,104.4 350.8,104.1 350.94,103.89 C351.07,103.68 351.22,103.55 351.38,103.46 C351.54,103.37 351.76,103.34 351.89,103.35 C352.02,103.36 352.14,103.43 352.15,103.51 C352.17,103.6 352.06,103.7 351.96,103.86 C351.85,104.02 351.74,104.28 351.53,104.47 C351.32,104.65 351.03,104.82 350.71,104.99 C350.38,105.16 349.96,105.33 349.57,105.47 C349.17,105.62 348.75,105.76 348.32,105.84 C347.9,105.92 347.49,105.99 347,105.97 C346.52,105.95 345.88,105.84 345.42,105.72 C344.96,105.6 344.62,105.43 344.25,105.25 C343.87,105.07 343.5,104.91 343.19,104.65 C342.88,104.4 342.57,104.03 342.36,103.72 C342.15,103.41 342.04,103.04 341.94,102.77 C341.83,102.5 341.76,102.32 341.75,102.1 C341.73,101.89 341.82,101.63 341.84,101.48 C341.87,101.32 341.86,101.27 341.9,101.18 C341.93,101.1 341.96,100.98 342.04,100.98 C342.13,100.99 342.24,101.17 342.39,101.23 C342.55,101.3 342.91,101.19 342.97,101.39 C343.03,101.59 342.72,102.14 342.75,102.41 C342.79,102.67 343.11,102.81 343.19,102.97 C343.27,103.13 343.26,103.25 343.23,103.38 C343.21,103.51 343.18,103.68 343.01,103.76 C342.83,103.83 342.5,103.9 342.18,103.83 C341.85,103.77 341.36,103.59 341.06,103.38 C340.75,103.17 340.54,102.87 340.35,102.56 C340.15,102.26 340,101.93 339.87,101.54 C339.74,101.15 339.6,100.64 339.59,100.21 C339.58,99.78 339.66,99.44 339.81,98.97 C339.96,98.51 340.24,97.87 340.49,97.42 C340.75,96.96 340.95,96.63 341.34,96.23 C341.73,95.83 342.31,95.43 342.82,95.01 C343.33,94.59 343.87,93.97 344.43,93.71 C344.99,93.45 345.61,93.47 346.19,93.48 C346.78,93.5 347.45,93.65 347.96,93.8 C348.47,93.95 348.86,94.08 349.25,94.37 C349.65,94.65 350.07,95.07 350.34,95.52 C350.61,95.97 350.75,96.66 350.86,97.07 C350.97,97.48 350.99,97.85 351.01,98" fill="none" stroke="#de9160" stroke-width="0.72"/><path d="M364.98,106.81 C364.96,106.95 364.94,107.44 364.87,107.68 C364.8,107.93 364.75,108.1 364.56,108.27 C364.38,108.43 363.96,108.59 363.76,108.67 C363.55,108.76 363.45,108.79 363.32,108.78 C363.19,108.76 363.05,108.72 362.98,108.57 C362.91,108.41 362.87,108.04 362.92,107.84 C362.97,107.63 363.1,107.55 363.28,107.34 C363.46,107.13 363.7,106.78 363.99,106.59 C364.29,106.4 364.69,106.27 365.08,106.2 C365.47,106.13 365.9,106.12 366.34,106.17 C366.78,106.22 367.22,106.34 367.71,106.5 C368.2,106.66 368.79,106.86 369.29,107.14 C369.78,107.41 370.24,107.76 370.67,108.14 C371.09,108.52 371.51,108.99 371.82,109.42 C372.13,109.84 372.39,110.23 372.53,110.67 C372.68,111.12 372.7,111.67 372.69,112.1 C372.67,112.52 372.54,112.93 372.43,113.25 C372.31,113.57 372.21,113.83 372.02,114 C371.84,114.18 371.53,114.29 371.32,114.29 C371.11,114.29 371,114.32 370.77,114.01 C370.54,113.71 370.12,113 369.94,112.45 C369.75,111.91 369.69,111.32 369.66,110.77 C369.63,110.22 369.65,109.67 369.75,109.15 C369.85,108.64 370.03,108.14 370.24,107.66 C370.44,107.18 370.66,106.67 370.98,106.27 C371.3,105.88 371.83,105.55 372.16,105.3 C372.48,105.05 372.73,104.75 372.95,104.78 C373.17,104.82 373.29,105.4 373.47,105.51 C373.64,105.61 373.82,105.4 373.99,105.42 C374.15,105.44 374.32,105.54 374.45,105.6 C374.58,105.67 374.72,105.78 374.78,105.82 C374.83,105.86 374.83,105.84 374.78,105.83 C374.73,105.82 374.58,105.82 374.45,105.74 C374.33,105.67 374.16,105.52 374.01,105.38 C373.87,105.24 373.92,104.89 373.59,104.88 C373.27,104.87 372.49,105.47 372.08,105.31 C371.67,105.15 371.41,104.47 371.14,103.93 C370.86,103.39 370.57,102.67 370.44,102.09 C370.3,101.52 370.31,101.03 370.33,100.46 C370.34,99.88 370.44,99.19 370.53,98.65 C370.63,98.11 370.7,97.67 370.88,97.23 C371.05,96.8 371.34,96.36 371.57,96.05 C371.8,95.73 372.14,95.46 372.26,95.34" fill="none" stroke="#de9160" stroke-width="0.72"/><path d="M370.59,106.38 C370.39,106.27 369.73,105.97 369.36,105.74 C369,105.5 368.69,105.25 368.42,104.99 C368.14,104.72 367.91,104.39 367.73,104.14 C367.55,103.89 367.41,103.68 367.33,103.48 C367.26,103.27 367.22,103.09 367.25,102.91 C367.28,102.73 367.4,102.47 367.51,102.38 C367.62,102.29 367.82,102.31 367.9,102.35 C367.98,102.4 367.94,102.51 367.99,102.67 C368.04,102.83 368.19,103.08 368.2,103.3 C368.22,103.53 368.17,103.75 368.06,104.01 C367.95,104.27 367.78,104.63 367.54,104.89 C367.31,105.15 366.98,105.4 366.65,105.57 C366.31,105.74 365.92,105.84 365.53,105.89 C365.15,105.93 364.77,105.89 364.34,105.83 C363.91,105.77 363.38,105.7 362.93,105.53 C362.48,105.37 362.06,105.1 361.65,104.86 C361.23,104.61 360.8,104.41 360.44,104.08 C360.09,103.76 359.73,103.35 359.5,102.91 C359.28,102.47 359.16,101.89 359.09,101.44 C359.02,101 359.04,100.61 359.07,100.23 C359.1,99.85 359.15,99.46 359.27,99.15 C359.38,98.84 359.65,98.53 359.76,98.35 C359.86,98.18 359.82,98.12 359.9,98.09 C359.98,98.07 360.21,98.12 360.26,98.18 C360.31,98.24 360.23,98.35 360.21,98.46 C360.18,98.57 360.21,98.64 360.12,98.85 C360.03,99.05 359.87,99.48 359.67,99.72 C359.46,99.96 359.2,100.11 358.88,100.28 C358.56,100.45 358.17,100.63 357.76,100.74 C357.35,100.85 356.87,100.9 356.42,100.94 C355.97,100.97 355.56,101.01 355.07,100.96 C354.58,100.91 353.97,100.78 353.48,100.63 C353,100.48 352.54,100.25 352.16,100.07 C351.79,99.88 351.48,99.68 351.22,99.53 C350.96,99.37 350.76,99.27 350.61,99.15 C350.46,99.03 350.36,98.92 350.31,98.81 C350.26,98.69 350.27,98.56 350.33,98.46 C350.39,98.37 350.52,98.17 350.67,98.22 C350.81,98.27 351.06,98.56 351.21,98.76 C351.36,98.95 351.4,99.12 351.55,99.4 C351.69,99.68 351.95,100.05 352.08,100.43 C352.21,100.8 352.3,101.25 352.32,101.64 C352.35,102.04 352.26,102.62 352.24,102.81" fill="none" stroke="#de9160" stroke-width="0.72"/><path d="M373.45,104.61 C373.56,104.52 373.79,104.27 374.08,104.06 C374.37,103.85 374.74,103.46 375.2,103.33 C375.67,103.21 376.4,103.21 376.89,103.3 C377.37,103.39 377.7,103.62 378.12,103.88 C378.54,104.14 379.03,104.46 379.4,104.87 C379.77,105.28 380.12,105.82 380.35,106.34 C380.59,106.86 380.72,107.43 380.81,107.98 C380.91,108.53 380.94,109.07 380.93,109.64 C380.91,110.21 380.82,111.01 380.72,111.41 C380.62,111.82 380.52,111.9 380.32,112.07 C380.11,112.23 379.78,112.37 379.49,112.42 C379.2,112.47 378.91,112.45 378.59,112.35 C378.27,112.25 377.9,112.11 377.58,111.83 C377.26,111.56 376.81,111.16 376.66,110.7 C376.51,110.23 376.65,109.58 376.68,109.04 C376.7,108.5 376.67,107.99 376.8,107.45 C376.94,106.92 377.18,106.28 377.47,105.83 C377.75,105.37 378.12,105.03 378.51,104.7 C378.9,104.38 379.33,104.07 379.79,103.86 C380.25,103.65 380.7,103.5 381.28,103.43 C381.85,103.36 382.63,103.34 383.24,103.43 C383.86,103.52 384.44,103.75 384.98,104 C385.52,104.25 386.04,104.58 386.46,104.96 C386.89,105.34 387.36,105.94 387.51,106.29 C387.66,106.63 387.62,106.95 387.37,107.05 C387.11,107.15 386.34,106.9 385.98,106.88 C385.62,106.85 385.52,106.93 385.22,106.9 C384.93,106.87 384.51,106.83 384.2,106.71 C383.89,106.59 383.65,106.37 383.38,106.15 C383.1,105.93 382.84,105.67 382.56,105.39 C382.27,105.12 381.95,104.88 381.68,104.52 C381.41,104.15 381.14,103.65 380.94,103.19 C380.74,102.74 380.55,102.26 380.49,101.79 C380.43,101.31 380.5,100.79 380.57,100.36 C380.64,99.93 380.79,99.52 380.91,99.22 C381.03,98.93 381.2,98.72 381.31,98.59 C381.41,98.45 381.46,98.44 381.52,98.41 C381.59,98.37 381.65,98.38 381.7,98.39 C381.75,98.39 381.8,98.42 381.81,98.44 C381.83,98.47 381.82,98.49 381.77,98.52 C381.72,98.56 381.61,98.63 381.5,98.66 C381.39,98.7 381.29,98.69 381.11,98.72 C380.93,98.76 380.54,98.85 380.43,98.87" fill="none" stroke="#de9160" stroke-width="0.72"/><path d="M385.71,105.65 C385.64,105.6 385.49,105.61 385.33,105.35 C385.17,105.09 384.87,104.46 384.75,104.08 C384.63,103.71 384.63,103.37 384.59,103.1 C384.56,102.83 384.51,102.61 384.54,102.45 C384.57,102.3 384.71,102.2 384.76,102.17 C384.82,102.15 384.75,102.3 384.87,102.3 C384.99,102.3 385.32,102.01 385.5,102.19 C385.68,102.37 385.87,102.92 385.95,103.38 C386.03,103.84 386.06,104.43 385.98,104.94 C385.91,105.45 385.87,106.04 385.51,106.44 C385.15,106.83 384.21,107.01 383.81,107.33 C383.4,107.65 383.36,108.04 383.08,108.33 C382.8,108.63 382.48,108.89 382.13,109.11 C381.78,109.32 381.37,109.49 381,109.61 C380.63,109.72 380.22,109.76 379.91,109.79 C379.59,109.82 379.29,109.81 379.1,109.79 C378.91,109.77 378.88,109.89 378.76,109.68 C378.65,109.47 378.46,108.92 378.42,108.52 C378.39,108.12 378.46,107.65 378.54,107.26 C378.61,106.88 378.74,106.52 378.87,106.22 C379.01,105.91 379.2,105.66 379.34,105.45 C379.48,105.23 379.53,105.1 379.71,104.94 C379.89,104.77 380.25,104.5 380.4,104.48 C380.54,104.46 380.58,104.7 380.56,104.8 C380.55,104.91 380.41,104.99 380.29,105.11 C380.17,105.24 380.01,105.46 379.82,105.56 C379.64,105.66 379.4,105.68 379.17,105.7 C378.94,105.73 378.72,105.72 378.44,105.69 C378.16,105.66 377.75,105.64 377.49,105.52 C377.22,105.39 377.05,105.18 376.87,104.96 C376.68,104.74 376.54,104.51 376.39,104.2 C376.24,103.89 376.06,103.48 375.96,103.09 C375.87,102.71 375.84,102.32 375.8,101.89 C375.77,101.46 375.69,100.97 375.73,100.51 C375.78,100.06 375.89,99.61 376.09,99.15 C376.29,98.7 376.65,98.17 376.94,97.78 C377.22,97.39 377.45,97.09 377.79,96.81 C378.12,96.53 378.56,96.26 378.95,96.09 C379.35,95.92 379.71,95.92 380.16,95.79 C380.61,95.66 381.21,95.28 381.64,95.31 C382.07,95.33 382.44,95.74 382.73,95.93 C383.02,96.12 383.22,96.22 383.36,96.45 C383.49,96.67 383.5,97.15 383.52,97.29" fill="none" stroke="#de9160" stroke-width="0.72"/><path d="M361.53,112.86 C361.47,112.83 361.29,112.76 361.15,112.68 C361.02,112.6 360.9,112.51 360.72,112.37 C360.54,112.22 360.23,112.02 360.05,111.8 C359.88,111.57 359.75,111.31 359.68,111 C359.6,110.69 359.6,110.36 359.58,109.96 C359.57,109.57 359.53,109.04 359.6,108.63 C359.67,108.21 359.79,107.89 360,107.49 C360.21,107.09 360.53,106.56 360.85,106.22 C361.17,105.88 361.52,105.65 361.91,105.43 C362.3,105.2 362.76,105 363.18,104.85 C363.6,104.7 364,104.57 364.45,104.54 C364.9,104.51 365.46,104.59 365.87,104.66 C366.28,104.74 366.59,104.83 366.92,105 C367.25,105.18 367.6,105.51 367.85,105.69 C368.1,105.87 368.26,105.89 368.42,106.06 C368.57,106.23 368.71,106.52 368.8,106.71 C368.88,106.9 368.94,107.05 368.93,107.2 C368.92,107.35 368.79,107.55 368.72,107.63 C368.66,107.71 368.62,107.72 368.54,107.68 C368.46,107.63 368.31,107.56 368.25,107.37 C368.18,107.19 368.13,106.86 368.15,106.56 C368.16,106.25 368.23,105.91 368.36,105.57 C368.48,105.23 368.67,104.84 368.91,104.51 C369.14,104.19 369.41,103.93 369.75,103.62 C370.09,103.32 370.52,102.93 370.95,102.68 C371.38,102.42 371.88,102.22 372.33,102.11 C372.79,101.99 373.26,102 373.68,101.98 C374.09,101.96 374.47,101.97 374.84,101.99 C375.21,102.02 375.57,102.02 375.88,102.11 C376.18,102.2 376.48,102.38 376.69,102.51 C376.89,102.65 377.01,102.75 377.11,102.9 C377.21,103.05 377.23,103.27 377.28,103.41 C377.33,103.55 377.4,103.67 377.42,103.74 C377.45,103.81 377.49,103.81 377.44,103.85 C377.38,103.9 377.27,103.84 377.1,103.99 C376.92,104.13 376.54,104.7 376.38,104.73 C376.23,104.76 376.11,104.45 376.18,104.17 C376.24,103.88 376.59,103.36 376.76,103.02 C376.93,102.69 377.01,102.45 377.2,102.15 C377.38,101.85 377.6,101.57 377.87,101.24 C378.14,100.92 378.45,100.5 378.8,100.21 C379.15,99.93 379.5,99.74 379.96,99.53 C380.42,99.32 381.27,99.05 381.54,98.95" fill="none" stroke="#de9160" stroke-width="0.72"/><path d="M319.5,77 C325,76 330,78 336,80" fill="none" stroke="#de9160" stroke-width="0.72"/><path d="M388,92 C394,92.5 399,92.5 403.5,92.7" fill="none" stroke="#de9160" stroke-width="0.72"/>
<path d="M474.25,142.09 C474.18,142.31 474,142.98 473.83,143.39 C473.66,143.8 473.47,144.17 473.21,144.57 C472.95,144.96 472.58,145.43 472.26,145.77 C471.94,146.11 471.64,146.38 471.31,146.61 C470.97,146.84 470.56,147.01 470.27,147.16 C469.97,147.31 469.76,147.46 469.51,147.52 C469.26,147.57 468.95,147.53 468.79,147.5 C468.64,147.48 468.61,147.43 468.59,147.37 C468.56,147.32 468.55,147.26 468.64,147.18 C468.73,147.1 469.09,147.11 469.15,146.89 C469.2,146.66 468.82,145.98 468.99,145.81 C469.16,145.65 469.82,145.8 470.19,145.9 C470.56,146 470.81,146.15 471.2,146.4 C471.59,146.64 472.09,146.94 472.53,147.36 C472.98,147.78 473.49,148.33 473.87,148.91 C474.24,149.48 474.57,150.27 474.8,150.83 C475.03,151.4 475.16,151.78 475.25,152.31 C475.34,152.83 475.37,153.47 475.31,153.98 C475.25,154.49 475.1,154.96 474.89,155.37 C474.68,155.79 474.29,156.18 474.03,156.45 C473.78,156.73 473.6,156.87 473.35,157 C473.1,157.14 472.8,157.28 472.53,157.28 C472.27,157.28 471.97,157.13 471.76,157 C471.55,156.88 471.38,156.74 471.28,156.52 C471.18,156.31 471.08,155.99 471.16,155.71 C471.23,155.42 471.53,155 471.74,154.81 C471.94,154.61 472.05,154.47 472.4,154.51 C472.75,154.56 473.45,154.91 473.84,155.08 C474.23,155.24 474.45,155.28 474.74,155.49 C475.03,155.69 475.32,155.98 475.6,156.31 C475.88,156.64 476.18,157.03 476.4,157.45 C476.62,157.87 476.79,158.33 476.92,158.83 C477.05,159.33 477.16,159.91 477.2,160.45 C477.24,161 477.27,161.59 477.17,162.1 C477.07,162.61 476.83,163.09 476.6,163.51 C476.37,163.94 476.11,164.34 475.77,164.65 C475.43,164.97 474.95,165.22 474.57,165.4 C474.2,165.57 473.79,165.64 473.51,165.71 C473.24,165.78 473.16,165.86 472.94,165.83 C472.73,165.79 472.41,165.61 472.23,165.51 C472.05,165.41 471.95,165.3 471.86,165.21 C471.78,165.12 471.72,165.06 471.73,164.97 C471.75,164.87 471.91,164.69 471.95,164.64" fill="none" stroke="#de9160" stroke-width="0.72"/><path d="M481.01,140.62 C481.14,140.55 481.48,140.31 481.79,140.2 C482.09,140.08 482.47,139.98 482.85,139.91 C483.24,139.84 483.64,139.76 484.1,139.76 C484.55,139.76 485.16,139.78 485.59,139.9 C486.02,140.02 486.31,140.2 486.7,140.46 C487.08,140.73 487.57,141.07 487.91,141.46 C488.25,141.85 488.52,142.36 488.74,142.8 C488.96,143.24 489.14,143.72 489.25,144.11 C489.36,144.51 489.42,144.88 489.43,145.16 C489.44,145.44 489.39,145.61 489.32,145.79 C489.26,145.97 489.14,146.17 489.05,146.25 C488.96,146.33 488.87,146.32 488.78,146.28 C488.7,146.23 488.56,146.11 488.52,145.98 C488.48,145.85 488.47,145.63 488.52,145.5 C488.57,145.37 488.65,145.35 488.81,145.18 C488.96,145.02 489.23,144.66 489.46,144.52 C489.7,144.37 489.92,144.37 490.22,144.31 C490.51,144.26 490.87,144.17 491.22,144.19 C491.57,144.2 491.97,144.27 492.31,144.41 C492.65,144.54 492.92,144.73 493.25,144.99 C493.59,145.25 494.04,145.62 494.3,145.97 C494.55,146.31 494.66,146.64 494.79,147.05 C494.92,147.47 495.02,147.96 495.08,148.45 C495.14,148.93 495.15,149.52 495.15,149.98 C495.15,150.44 495.21,150.79 495.1,151.2 C495,151.62 494.77,152.08 494.53,152.46 C494.3,152.83 493.97,153.18 493.69,153.45 C493.4,153.72 493.13,153.92 492.81,154.06 C492.5,154.2 492.11,154.27 491.8,154.28 C491.5,154.3 491.23,154.25 490.99,154.16 C490.75,154.06 490.51,153.84 490.36,153.72 C490.21,153.6 490.11,153.54 490.09,153.43 C490.06,153.32 490.14,153.09 490.22,153.04 C490.31,153 490.47,153.09 490.61,153.15 C490.75,153.21 490.88,153.4 491.05,153.4 C491.21,153.39 491.4,153.05 491.6,153.15 C491.8,153.25 492.08,153.64 492.25,154 C492.41,154.36 492.57,154.86 492.61,155.3 C492.66,155.75 492.63,156.26 492.52,156.7 C492.41,157.14 492.22,157.49 491.95,157.92 C491.68,158.36 491.3,158.89 490.92,159.31 C490.54,159.73 490.13,160.14 489.67,160.45 C489.21,160.76 488.4,161.04 488.14,161.15" fill="none" stroke="#de9160" stroke-width="0.72"/><path d="M490.86,137.72 C490.96,137.88 491.36,138.28 491.51,138.66 C491.66,139.03 491.77,139.5 491.76,139.96 C491.75,140.42 491.62,141.03 491.43,141.41 C491.25,141.79 490.99,141.97 490.65,142.25 C490.31,142.53 489.88,142.87 489.4,143.09 C488.91,143.31 488.29,143.51 487.75,143.56 C487.21,143.6 486.67,143.52 486.13,143.37 C485.6,143.23 485.03,142.96 484.53,142.7 C484.03,142.45 483.59,142.16 483.14,141.83 C482.69,141.5 482.27,141.19 481.86,140.72 C481.45,140.26 480.97,139.61 480.7,139.01 C480.44,138.42 480.32,137.71 480.25,137.16 C480.18,136.61 480.2,136.16 480.29,135.71 C480.37,135.27 480.6,134.8 480.76,134.47 C480.92,134.15 480.84,133.81 481.25,133.76 C481.66,133.71 482.59,133.92 483.22,134.18 C483.85,134.44 484.48,134.89 485.01,135.34 C485.54,135.78 486.04,136.32 486.4,136.84 C486.76,137.37 487.01,137.88 487.17,138.48 C487.34,139.09 487.39,139.89 487.41,140.48 C487.42,141.07 487.32,141.58 487.24,142.02 C487.17,142.46 487.11,142.8 486.96,143.1 C486.81,143.4 486.54,143.66 486.36,143.81 C486.17,143.97 486.05,144.05 485.84,144.03 C485.63,144.01 485.33,143.92 485.12,143.72 C484.91,143.52 484.69,143.18 484.58,142.84 C484.48,142.51 484.43,142.06 484.48,141.71 C484.53,141.37 484.68,141.12 484.9,140.79 C485.12,140.46 485.42,140.02 485.8,139.74 C486.18,139.45 486.73,139.19 487.17,139.08 C487.61,138.97 487.93,139.02 488.44,139.09 C488.95,139.16 489.7,139.27 490.23,139.48 C490.75,139.69 491.19,140.01 491.62,140.36 C492.04,140.7 492.45,141.12 492.78,141.57 C493.11,142.02 493.39,142.47 493.61,143.06 C493.83,143.64 494.03,144.43 494.12,145.08 C494.21,145.73 494.22,146.38 494.15,146.98 C494.07,147.58 493.85,148.19 493.68,148.68 C493.51,149.17 493.32,149.59 493.11,149.93 C492.89,150.28 492.63,150.52 492.37,150.73 C492.12,150.94 491.83,151.12 491.59,151.2 C491.34,151.27 491.09,151.26 490.91,151.19 C490.73,151.12 490.57,150.85 490.5,150.78" fill="none" stroke="#de9160" stroke-width="0.72"/><path d="M498.2,145.9 C498.1,145.96 497.79,146.15 497.59,146.22 C497.38,146.29 497.16,146.35 496.97,146.3 C496.78,146.25 496.55,146.13 496.46,145.9 C496.37,145.68 496.37,145.2 496.44,144.95 C496.51,144.69 496.65,144.56 496.86,144.36 C497.06,144.17 497.35,143.97 497.68,143.78 C498.01,143.59 498.4,143.38 498.86,143.22 C499.32,143.06 499.94,142.83 500.45,142.82 C500.96,142.8 501.38,143.01 501.92,143.11 C502.45,143.22 503.15,143.27 503.67,143.45 C504.18,143.63 504.53,143.89 505.01,144.19 C505.49,144.49 506.14,144.8 506.54,145.24 C506.95,145.68 507.24,146.25 507.44,146.83 C507.63,147.42 507.67,148.2 507.7,148.76 C507.74,149.32 507.76,149.7 507.62,150.2 C507.48,150.69 507.2,151.28 506.87,151.72 C506.55,152.15 506.07,152.52 505.67,152.8 C505.27,153.08 504.87,153.27 504.46,153.41 C504.06,153.54 503.64,153.63 503.23,153.63 C502.82,153.63 502.35,153.52 501.99,153.4 C501.62,153.28 501.3,153.11 501.04,152.93 C500.79,152.75 500.56,152.5 500.44,152.32 C500.32,152.14 500.27,151.99 500.32,151.84 C500.37,151.69 500.49,151.55 500.75,151.42 C501.02,151.29 501.44,151.1 501.91,151.06 C502.37,151.01 503.07,151.02 503.54,151.14 C504.02,151.26 504.39,151.49 504.78,151.76 C505.16,152.03 505.49,152.34 505.86,152.78 C506.22,153.21 506.67,153.78 506.99,154.37 C507.3,154.95 507.63,155.61 507.74,156.28 C507.85,156.95 507.76,157.77 507.66,158.37 C507.56,158.96 507.39,159.38 507.17,159.86 C506.94,160.34 506.65,160.82 506.32,161.24 C505.99,161.65 505.61,162.05 505.2,162.34 C504.8,162.63 504.32,162.87 503.9,163 C503.48,163.12 503.04,163.11 502.68,163.08 C502.33,163.06 501.98,162.96 501.77,162.83 C501.56,162.7 501.48,162.53 501.4,162.3 C501.33,162.07 501.27,161.71 501.33,161.45 C501.39,161.18 501.58,160.88 501.76,160.72 C501.94,160.55 502.08,160.5 502.38,160.47 C502.68,160.45 503.17,160.47 503.55,160.59 C503.93,160.71 504.49,161.07 504.68,161.17" fill="none" stroke="#de9160" stroke-width="0.72"/><path d="M507.91,141.59 C507.83,141.8 507.6,142.5 507.4,142.89 C507.19,143.29 506.93,143.66 506.68,143.94 C506.44,144.22 506.2,144.41 505.95,144.57 C505.69,144.74 505.39,144.88 505.14,144.94 C504.9,145 504.68,144.97 504.49,144.93 C504.29,144.9 504.1,144.87 503.98,144.75 C503.86,144.62 503.77,144.36 503.75,144.2 C503.74,144.04 503.76,143.96 503.9,143.79 C504.03,143.62 504.25,143.35 504.57,143.19 C504.88,143.04 505.38,142.89 505.8,142.86 C506.22,142.83 506.58,142.93 507.09,143.03 C507.59,143.12 508.31,143.18 508.83,143.44 C509.36,143.69 509.8,144.16 510.22,144.56 C510.63,144.96 511.05,145.37 511.33,145.84 C511.62,146.31 511.77,146.87 511.9,147.37 C512.04,147.87 512.15,148.34 512.15,148.84 C512.15,149.34 512.01,149.92 511.89,150.37 C511.77,150.82 511.63,151.21 511.45,151.54 C511.26,151.88 510.96,152.17 510.79,152.38 C510.61,152.59 510.54,152.69 510.41,152.79 C510.28,152.89 510.19,152.98 510.02,152.98 C509.84,152.99 509.52,152.88 509.37,152.84 C509.22,152.8 509.13,152.78 509.1,152.73 C509.06,152.67 509.1,152.59 509.16,152.49 C509.22,152.39 509.3,152.23 509.47,152.11 C509.64,152 509.85,151.91 510.18,151.81 C510.51,151.71 510.99,151.53 511.44,151.51 C511.89,151.49 512.37,151.56 512.87,151.7 C513.36,151.85 513.93,152.08 514.41,152.38 C514.89,152.69 515.36,153.09 515.75,153.52 C516.14,153.94 516.51,154.46 516.75,154.93 C517,155.39 517.15,155.8 517.23,156.3 C517.32,156.8 517.34,157.42 517.25,157.93 C517.16,158.44 516.9,158.95 516.7,159.36 C516.5,159.77 516.33,160.1 516.05,160.39 C515.77,160.68 515.36,160.95 515.02,161.1 C514.68,161.26 514.28,161.29 514,161.33 C513.72,161.37 513.53,161.4 513.35,161.34 C513.16,161.28 512.95,161.12 512.89,160.97 C512.83,160.83 512.9,160.62 513,160.47 C513.1,160.33 513.27,160.21 513.49,160.11 C513.7,160.01 513.99,159.9 514.3,159.88 C514.61,159.86 515.15,159.99 515.32,160.01" fill="none" stroke="#de9160" stroke-width="0.72"/><path d="M474.52,150.43 C474.33,150.59 473.79,151.09 473.41,151.37 C473.03,151.64 472.63,151.89 472.25,152.09 C471.87,152.29 471.44,152.42 471.14,152.54 C470.84,152.67 470.7,152.8 470.44,152.84 C470.18,152.87 469.83,152.82 469.57,152.73 C469.3,152.64 469.04,152.43 468.83,152.3 C468.62,152.17 468.46,152.09 468.33,151.94 C468.2,151.79 468.05,151.54 468.04,151.38 C468.03,151.23 468.16,151.06 468.27,151 C468.39,150.95 468.62,150.96 468.75,151.03 C468.89,151.11 468.96,151.25 469.09,151.45 C469.22,151.65 469.33,151.96 469.54,152.22 C469.76,152.48 470.17,152.67 470.37,153.02 C470.58,153.37 470.66,153.85 470.77,154.31 C470.88,154.77 470.99,155.31 471.04,155.8 C471.09,156.28 471.16,156.75 471.09,157.23 C471.03,157.71 470.85,158.22 470.65,158.67 C470.45,159.13 470.17,159.56 469.91,159.95 C469.64,160.34 469.32,160.7 469.06,161 C468.79,161.29 468.59,161.53 468.31,161.72 C468.04,161.91 467.71,162.08 467.42,162.14 C467.13,162.2 466.8,162.13 466.55,162.08 C466.3,162.03 466.06,161.94 465.95,161.83 C465.83,161.73 465.82,161.61 465.84,161.46 C465.86,161.3 465.93,161.01 466.05,160.88 C466.17,160.76 466.33,160.75 466.56,160.73 C466.78,160.71 467.03,160.73 467.39,160.76 C467.76,160.8 468.35,160.82 468.75,160.96 C469.16,161.11 469.51,161.31 469.81,161.64 C470.12,161.97 470.36,162.53 470.57,162.93 C470.77,163.33 470.81,163.62 471.05,164.03 C471.29,164.44 471.84,164.9 472.01,165.4 C472.17,165.9 472.1,166.54 472.03,167.05 C471.97,167.55 471.86,167.96 471.61,168.44 C471.36,168.92 470.93,169.5 470.55,169.93 C470.16,170.35 469.72,170.71 469.3,171 C468.88,171.28 468.43,171.48 468.01,171.63 C467.58,171.78 467.12,171.89 466.74,171.9 C466.36,171.92 466,171.84 465.75,171.72 C465.5,171.6 465.29,171.34 465.23,171.16 C465.16,170.98 465.27,170.79 465.37,170.65 C465.47,170.52 465.64,170.43 465.82,170.34 C466.01,170.24 466.38,170.14 466.49,170.1" fill="none" stroke="#de9160" stroke-width="0.72"/><path d="M479.13,145.32 C479.24,145.32 479.61,145.32 479.79,145.34 C479.97,145.37 480.13,145.4 480.21,145.47 C480.29,145.55 480.34,145.68 480.28,145.8 C480.22,145.92 480.09,146.09 479.86,146.18 C479.64,146.28 479.26,146.36 478.92,146.36 C478.57,146.37 478.18,146.32 477.79,146.23 C477.4,146.14 476.98,146.02 476.57,145.81 C476.17,145.61 475.74,145.29 475.38,145.01 C475.02,144.73 474.91,144.43 474.41,144.12 C473.91,143.81 472.83,143.6 472.39,143.16 C471.96,142.71 471.88,142.01 471.79,141.44 C471.69,140.87 471.77,140.24 471.85,139.73 C471.92,139.22 471.99,138.81 472.23,138.39 C472.46,137.98 472.94,137.5 473.27,137.24 C473.61,136.97 473.81,136.7 474.22,136.79 C474.64,136.88 475.34,137.38 475.77,137.77 C476.2,138.17 476.5,138.66 476.81,139.15 C477.13,139.64 477.45,140.19 477.66,140.71 C477.87,141.23 478.03,141.68 478.07,142.28 C478.1,142.88 478.05,143.68 477.88,144.31 C477.7,144.95 477.38,145.57 477.03,146.08 C476.67,146.58 476.15,147.02 475.75,147.36 C475.35,147.69 475.04,147.92 474.65,148.09 C474.26,148.26 473.73,148.33 473.42,148.37 C473.1,148.42 472.95,148.46 472.77,148.36 C472.58,148.25 472.38,147.99 472.31,147.75 C472.24,147.51 472.21,147.23 472.33,146.92 C472.45,146.61 472.73,146.2 473.05,145.91 C473.37,145.61 473.81,145.34 474.23,145.16 C474.66,144.98 475.08,144.89 475.61,144.81 C476.13,144.74 476.79,144.69 477.38,144.71 C477.98,144.73 478.61,144.83 479.18,144.95 C479.76,145.06 480.29,145.18 480.81,145.42 C481.33,145.65 481.88,146.02 482.33,146.38 C482.77,146.73 483.19,147.09 483.48,147.52 C483.76,147.94 483.94,148.52 484.05,148.91 C484.16,149.29 484.2,149.54 484.14,149.84 C484.09,150.14 483.9,150.53 483.72,150.7 C483.55,150.87 483.29,150.86 483.09,150.85 C482.88,150.84 482.76,150.79 482.51,150.61 C482.26,150.44 481.8,150.13 481.58,149.79 C481.36,149.46 481.26,149.04 481.17,148.6 C481.08,148.15 481.06,147.36 481.04,147.11" fill="none" stroke="#de9160" stroke-width="0.72"/><path d="M488.22,151.2 C487.94,151.33 487.06,151.81 486.5,151.98 C485.94,152.14 485.46,152.19 484.87,152.17 C484.29,152.15 483.53,151.97 482.96,151.83 C482.4,151.7 481.97,151.59 481.49,151.38 C481,151.16 480.43,150.84 480.05,150.54 C479.68,150.24 479.42,149.9 479.24,149.56 C479.06,149.22 478.98,148.84 478.98,148.51 C478.97,148.17 479.03,147.62 479.2,147.53 C479.37,147.45 479.82,147.96 479.98,148 C480.15,148.03 480.15,147.78 480.19,147.74 C480.23,147.69 480.2,147.7 480.24,147.74 C480.27,147.79 480.37,147.92 480.39,148.03 C480.41,148.13 480.41,148.27 480.37,148.38 C480.32,148.48 480.24,148.55 480.13,148.66 C480.02,148.76 479.7,148.79 479.7,149.01 C479.71,149.22 480.32,149.67 480.17,149.93 C480.01,150.19 479.32,150.45 478.79,150.58 C478.27,150.71 477.59,150.76 477,150.72 C476.41,150.68 475.8,150.49 475.25,150.32 C474.7,150.15 474.24,149.98 473.7,149.71 C473.16,149.45 472.5,149.16 472.02,148.73 C471.55,148.3 471.14,147.67 470.85,147.13 C470.57,146.59 470.39,146 470.31,145.48 C470.23,144.95 470.29,144.42 470.37,144 C470.45,143.58 470.65,143.2 470.8,142.96 C470.95,142.72 471.1,142.64 471.29,142.55 C471.47,142.46 471.67,142.4 471.89,142.4 C472.12,142.39 472.44,142.44 472.61,142.53 C472.79,142.62 472.9,142.7 472.97,142.92 C473.04,143.15 473.09,143.5 473.03,143.9 C472.97,144.31 472.81,144.89 472.58,145.36 C472.35,145.82 472.01,146.29 471.65,146.71 C471.28,147.13 470.89,147.55 470.38,147.87 C469.88,148.2 469.22,148.49 468.63,148.65 C468.03,148.82 467.24,148.86 466.82,148.87 C466.41,148.89 466.35,148.87 466.14,148.76 C465.93,148.64 465.69,148.37 465.56,148.2 C465.44,148.02 465.39,147.91 465.39,147.7 C465.39,147.49 465.45,147.26 465.59,146.95 C465.72,146.64 465.9,146.18 466.2,145.84 C466.49,145.5 466.91,145.14 467.34,144.91 C467.78,144.68 468.29,144.55 468.81,144.47 C469.33,144.39 470.17,144.42 470.44,144.42" fill="none" stroke="#de9160" stroke-width="0.72"/><path d="M498.92,149.26 C499.13,149.31 499.79,149.39 500.22,149.54 C500.65,149.69 501.13,149.93 501.48,150.18 C501.84,150.42 502.13,150.73 502.37,151.03 C502.61,151.33 502.8,151.64 502.93,151.97 C503.05,152.3 503.1,152.71 503.13,153 C503.16,153.29 503.13,153.53 503.11,153.71 C503.09,153.9 503.04,154.05 503,154.1 C502.96,154.16 502.97,154.14 502.89,154.06 C502.81,153.98 502.61,153.78 502.55,153.6 C502.48,153.43 502.47,153.26 502.51,153.03 C502.54,152.79 502.61,152.47 502.74,152.22 C502.88,151.96 503.1,151.77 503.34,151.49 C503.59,151.21 503.89,150.78 504.24,150.53 C504.58,150.28 504.97,150.12 505.4,149.99 C505.83,149.85 506.37,149.74 506.81,149.73 C507.24,149.71 507.58,149.77 508.02,149.91 C508.45,150.05 509.01,150.28 509.41,150.55 C509.81,150.82 510.11,151.18 510.41,151.54 C510.7,151.91 510.84,152.32 511.18,152.73 C511.52,153.15 512.2,153.59 512.45,154.03 C512.69,154.48 512.64,155 512.66,155.4 C512.68,155.79 512.68,156.08 512.57,156.4 C512.46,156.73 512.18,157.11 511.99,157.34 C511.79,157.56 511.64,157.65 511.39,157.76 C511.13,157.88 510.72,158.07 510.44,158.05 C510.16,158.02 509.86,157.78 509.72,157.61 C509.58,157.45 509.55,157.3 509.6,157.05 C509.65,156.79 509.82,156.31 510.02,156.06 C510.21,155.81 510.42,155.7 510.77,155.52 C511.11,155.34 511.55,155.21 512.06,154.99 C512.57,154.77 513.17,154.24 513.82,154.18 C514.48,154.12 515.36,154.35 516,154.61 C516.64,154.87 517.18,155.3 517.65,155.73 C518.12,156.15 518.49,156.68 518.83,157.16 C519.17,157.64 519.47,158.05 519.72,158.61 C519.96,159.16 520.22,159.92 520.32,160.5 C520.42,161.08 520.4,161.58 520.31,162.09 C520.22,162.6 519.97,163.17 519.78,163.54 C519.59,163.91 519.43,164.11 519.19,164.32 C518.95,164.54 518.61,164.71 518.33,164.83 C518.04,164.95 517.75,165.05 517.5,165.04 C517.25,165.02 517,164.93 516.83,164.74 C516.66,164.55 516.55,164.03 516.5,163.89" fill="none" stroke="#de9160" stroke-width="0.72"/><path d="M505.65,152.04 C505.49,152.16 505.03,152.54 504.69,152.72 C504.36,152.91 503.99,153.07 503.62,153.15 C503.24,153.22 502.8,153.21 502.44,153.16 C502.08,153.12 501.73,153.02 501.45,152.88 C501.17,152.75 500.93,152.5 500.75,152.35 C500.57,152.21 500.44,152.13 500.4,152.01 C500.36,151.88 500.46,151.65 500.52,151.58 C500.58,151.52 500.68,151.59 500.76,151.61 C500.84,151.63 500.87,151.61 501,151.7 C501.14,151.79 501.39,151.96 501.58,152.16 C501.76,152.36 502.01,152.63 502.12,152.92 C502.23,153.2 502.27,153.57 502.25,153.86 C502.22,154.15 502.1,154.38 501.96,154.67 C501.82,154.95 501.67,155.27 501.43,155.58 C501.18,155.89 500.84,156.24 500.5,156.52 C500.15,156.8 499.8,157.03 499.36,157.24 C498.93,157.45 498.39,157.66 497.88,157.79 C497.37,157.91 496.82,157.99 496.32,158 C495.82,158 495.33,157.92 494.9,157.84 C494.46,157.76 494.09,157.67 493.73,157.51 C493.37,157.34 493.02,157.07 492.73,156.84 C492.44,156.61 492.2,156.36 492,156.12 C491.8,155.88 491.63,155.62 491.52,155.38 C491.4,155.14 491.35,154.9 491.32,154.69 C491.29,154.49 491.3,154.26 491.36,154.15 C491.41,154.03 491.56,154.01 491.63,154.01 C491.7,154.01 491.72,154.04 491.77,154.12 C491.83,154.2 491.92,154.35 491.94,154.48 C491.97,154.61 491.94,154.69 491.92,154.88 C491.89,155.07 491.85,155.35 491.79,155.63 C491.73,155.91 491.7,156.22 491.58,156.57 C491.45,156.91 491.28,157.35 491.05,157.7 C490.81,158.04 490.51,158.39 490.17,158.65 C489.84,158.92 489.44,159.11 489.04,159.28 C488.64,159.46 488.26,159.61 487.77,159.69 C487.28,159.76 486.63,159.79 486.1,159.73 C485.57,159.68 485.08,159.51 484.59,159.34 C484.1,159.17 483.74,158.89 483.18,158.72 C482.63,158.56 481.74,158.63 481.26,158.36 C480.79,158.09 480.59,157.48 480.36,157.08 C480.12,156.69 479.94,156.4 479.85,156 C479.75,155.59 479.72,155.07 479.78,154.66 C479.84,154.24 480.13,153.71 480.2,153.52" fill="none" stroke="#de9160" stroke-width="0.72"/><path d="M511.98,146.71 C512.07,146.62 512.34,146.27 512.49,146.16 C512.63,146.04 512.78,146.02 512.87,146.03 C512.96,146.04 512.98,146.12 513,146.2 C513.03,146.29 513.05,146.36 513,146.51 C512.96,146.67 512.86,146.94 512.73,147.13 C512.59,147.31 512.46,147.42 512.22,147.62 C511.97,147.83 511.61,148.13 511.24,148.34 C510.87,148.56 510.45,148.74 510,148.9 C509.54,149.05 509.03,149.22 508.51,149.3 C507.98,149.37 507.36,149.37 506.85,149.34 C506.34,149.3 505.87,149.21 505.46,149.1 C505.04,148.98 504.65,148.78 504.35,148.63 C504.05,148.48 503.83,148.35 503.67,148.21 C503.5,148.08 503.41,147.92 503.38,147.82 C503.36,147.71 503.43,147.66 503.51,147.6 C503.58,147.55 503.68,147.45 503.83,147.47 C503.98,147.5 504.16,147.61 504.41,147.75 C504.65,147.9 505.02,148.08 505.3,148.33 C505.59,148.58 505.92,148.92 506.13,149.26 C506.33,149.6 506.41,149.96 506.53,150.36 C506.65,150.76 506.78,151.18 506.84,151.67 C506.9,152.16 506.88,152.75 506.89,153.31 C506.9,153.86 507.02,154.48 506.92,154.99 C506.82,155.5 506.57,155.95 506.3,156.38 C506.03,156.8 505.64,157.25 505.31,157.56 C504.98,157.88 504.65,158.08 504.31,158.26 C503.98,158.43 503.64,158.58 503.3,158.61 C502.95,158.65 502.48,158.52 502.24,158.46 C502,158.4 501.96,158.31 501.86,158.24 C501.75,158.16 501.68,158.1 501.63,158.01 C501.59,157.92 501.56,157.83 501.58,157.71 C501.6,157.59 501.62,157.41 501.76,157.29 C501.89,157.16 502.16,157 502.4,156.98 C502.64,156.95 502.97,157.02 503.2,157.13 C503.43,157.24 503.59,157.39 503.8,157.64 C504.02,157.9 504.33,158.27 504.5,158.66 C504.67,159.06 504.8,159.56 504.84,160.01 C504.87,160.46 504.78,160.87 504.71,161.34 C504.64,161.82 504.56,162.33 504.41,162.85 C504.26,163.37 504.1,163.99 503.82,164.47 C503.55,164.94 503.17,165.34 502.77,165.71 C502.37,166.08 501.86,166.44 501.42,166.68 C500.98,166.92 500.34,167.08 500.12,167.16" fill="none" stroke="#de9160" stroke-width="0.72"/><path d="M463.15,161.81 C462.98,161.57 462.37,160.89 462.12,160.39 C461.87,159.9 461.78,159.39 461.65,158.83 C461.53,158.27 461.39,157.61 461.35,157.04 C461.31,156.48 461.29,155.98 461.42,155.43 C461.56,154.89 461.91,154.23 462.18,153.76 C462.45,153.28 462.7,152.9 463.03,152.58 C463.35,152.26 463.82,152 464.13,151.82 C464.45,151.65 464.62,151.55 464.92,151.53 C465.22,151.51 465.66,151.59 465.92,151.71 C466.19,151.84 466.38,152.1 466.48,152.29 C466.59,152.48 466.62,152.66 466.55,152.83 C466.48,152.99 466.26,153.14 466.05,153.29 C465.84,153.43 465.58,153.63 465.28,153.71 C464.98,153.79 464.64,153.8 464.24,153.76 C463.84,153.72 463.22,153.51 462.88,153.45 C462.53,153.39 462.37,153.47 462.15,153.4 C461.93,153.34 461.65,153.21 461.57,153.06 C461.49,152.9 461.6,152.68 461.66,152.48 C461.73,152.29 461.79,152.13 461.94,151.89 C462.08,151.65 462.25,151.29 462.52,151.03 C462.8,150.76 463.17,150.49 463.59,150.29 C464.01,150.09 464.49,149.93 465.05,149.83 C465.61,149.74 466.38,149.6 466.93,149.74 C467.49,149.88 467.89,150.38 468.37,150.69 C468.85,151 469.32,151.29 469.8,151.59 C470.27,151.89 470.85,152.15 471.22,152.5 C471.6,152.85 471.84,153.29 472.04,153.68 C472.23,154.07 472.34,154.47 472.42,154.82 C472.5,155.17 472.56,155.5 472.5,155.8 C472.45,156.09 472.24,156.45 472.08,156.6 C471.92,156.74 471.71,156.75 471.53,156.67 C471.35,156.6 471.15,156.39 470.99,156.15 C470.83,155.9 470.72,155.61 470.58,155.2 C470.43,154.79 470.23,154.18 470.12,153.69 C470.01,153.2 469.87,152.77 469.9,152.24 C469.93,151.7 470.12,151.02 470.32,150.49 C470.52,149.96 470.71,149.51 471.09,149.05 C471.46,148.59 472,148.06 472.54,147.71 C473.09,147.36 473.76,147.1 474.35,146.95 C474.94,146.79 475.54,146.75 476.09,146.79 C476.63,146.82 477.21,147.03 477.63,147.17 C478.04,147.3 478.33,147.46 478.59,147.62 C478.84,147.78 479.07,148.03 479.17,148.11" fill="none" stroke="#de9160" stroke-width="0.72"/><path d="M473.3,153.84 C473.39,153.8 473.63,153.61 473.83,153.59 C474.02,153.57 474.29,153.65 474.48,153.73 C474.68,153.81 474.93,153.93 475,154.06 C475.06,154.2 474.96,154.39 474.87,154.55 C474.77,154.71 474.74,154.88 474.44,155.02 C474.15,155.15 473.5,155.26 473.08,155.35 C472.67,155.45 472.36,155.72 471.96,155.6 C471.57,155.48 471.13,154.88 470.73,154.65 C470.32,154.41 469.9,154.42 469.54,154.21 C469.19,154 468.84,153.69 468.59,153.36 C468.34,153.03 468.15,152.64 468.02,152.23 C467.9,151.83 467.84,151.35 467.84,150.94 C467.83,150.53 467.91,150.2 467.98,149.78 C468.06,149.36 468.1,148.83 468.26,148.42 C468.42,148.01 468.7,147.65 468.94,147.33 C469.19,147.02 469.45,146.74 469.73,146.51 C470,146.28 470.31,146.11 470.6,145.97 C470.9,145.83 471.26,145.73 471.52,145.67 C471.78,145.6 472.02,145.57 472.18,145.57 C472.34,145.58 472.42,145.68 472.49,145.69 C472.56,145.71 472.62,145.65 472.6,145.66 C472.57,145.66 472.48,145.72 472.33,145.74 C472.18,145.75 471.88,145.79 471.7,145.74 C471.52,145.68 471.4,145.54 471.26,145.41 C471.12,145.28 471.03,145.16 470.86,144.96 C470.7,144.76 470.45,144.5 470.28,144.21 C470.11,143.91 469.88,143.44 469.86,143.19 C469.83,142.95 470,142.92 470.12,142.74 C470.24,142.55 470.38,142.33 470.58,142.08 C470.78,141.84 471.04,141.51 471.34,141.27 C471.65,141.02 472.04,140.78 472.43,140.59 C472.82,140.41 473.26,140.26 473.68,140.15 C474.09,140.05 474.53,139.96 474.94,139.97 C475.35,139.97 475.77,140.12 476.14,140.18 C476.52,140.25 476.87,140.26 477.22,140.35 C477.56,140.45 477.94,140.6 478.23,140.76 C478.52,140.93 478.77,141.18 478.95,141.32 C479.14,141.47 479.23,141.53 479.34,141.64 C479.45,141.76 479.57,141.89 479.61,142.02 C479.65,142.14 479.58,142.29 479.57,142.39 C479.57,142.49 479.59,142.6 479.59,142.61 C479.6,142.62 479.63,142.55 479.62,142.45 C479.61,142.36 479.54,142.09 479.52,142.02" fill="none" stroke="#de9160" stroke-width="0.72"/><path d="M483.99,161.56 C484.01,161.76 484.13,162.41 484.11,162.78 C484.1,163.14 484.03,163.47 483.91,163.73 C483.8,163.98 483.62,164.16 483.42,164.29 C483.21,164.42 482.87,164.49 482.69,164.52 C482.51,164.55 482.47,164.6 482.34,164.47 C482.22,164.34 481.98,164.07 481.94,163.74 C481.89,163.42 481.95,162.87 482.08,162.52 C482.21,162.17 482.45,161.91 482.7,161.65 C482.95,161.38 483.24,161.14 483.58,160.92 C483.92,160.71 484.26,160.53 484.73,160.36 C485.2,160.18 485.82,159.91 486.39,159.85 C486.96,159.79 487.56,159.87 488.16,159.99 C488.77,160.11 489.47,160.3 490.03,160.59 C490.59,160.87 491.09,161.31 491.51,161.7 C491.94,162.09 492.3,162.56 492.58,162.92 C492.85,163.27 493.05,163.51 493.16,163.85 C493.27,164.19 493.29,164.67 493.24,164.97 C493.2,165.26 493,165.49 492.88,165.61 C492.76,165.72 492.66,165.71 492.51,165.66 C492.36,165.61 492.17,165.48 491.97,165.28 C491.78,165.09 491.51,164.91 491.34,164.49 C491.17,164.07 491.1,163.3 490.97,162.78 C490.84,162.26 490.62,161.85 490.56,161.37 C490.49,160.89 490.54,160.41 490.58,159.91 C490.62,159.41 490.65,158.88 490.77,158.39 C490.9,157.9 491.14,157.47 491.32,156.97 C491.51,156.47 491.67,155.73 491.9,155.39 C492.12,155.05 492.43,154.97 492.68,154.93 C492.93,154.88 493.26,155.01 493.4,155.13 C493.54,155.25 493.5,155.41 493.52,155.65 C493.54,155.89 493.6,156.29 493.5,156.57 C493.39,156.85 493.16,157.08 492.9,157.32 C492.64,157.56 492.31,157.81 491.95,158 C491.6,158.18 491.24,158.32 490.77,158.44 C490.29,158.56 489.69,158.73 489.13,158.73 C488.56,158.73 487.88,158.56 487.35,158.44 C486.83,158.32 486.47,158.22 485.96,157.99 C485.46,157.76 484.76,157.44 484.34,157.06 C483.91,156.68 483.65,156.18 483.41,155.71 C483.18,155.24 482.82,154.67 482.93,154.24 C483.03,153.81 483.83,153.52 484.05,153.14 C484.28,152.76 484.17,152.32 484.29,151.96 C484.42,151.6 484.73,151.16 484.82,151" fill="none" stroke="#de9160" stroke-width="0.72"/><path d="M488.33,158.49 C488.48,158.57 488.91,158.75 489.23,158.95 C489.56,159.15 489.89,159.39 490.28,159.7 C490.66,160 491.14,160.35 491.56,160.79 C491.97,161.24 492.45,161.88 492.78,162.36 C493.11,162.85 493.36,163.23 493.54,163.73 C493.72,164.22 493.84,164.8 493.85,165.31 C493.86,165.83 493.7,166.4 493.59,166.8 C493.49,167.21 493.38,167.47 493.21,167.72 C493.04,167.96 492.77,168.3 492.59,168.29 C492.4,168.28 492.35,167.55 492.09,167.65 C491.83,167.76 491.27,168.85 491.01,168.91 C490.75,168.98 490.6,168.42 490.55,168.04 C490.5,167.65 490.57,166.99 490.71,166.62 C490.85,166.25 491.06,166.13 491.36,165.84 C491.67,165.56 492.04,165.2 492.55,164.91 C493.05,164.62 493.8,164.28 494.39,164.11 C494.98,163.94 495.46,163.88 496.07,163.88 C496.68,163.87 497.42,163.91 498.04,164.08 C498.66,164.24 499.25,164.55 499.78,164.87 C500.32,165.19 500.82,165.58 501.24,166.01 C501.65,166.44 502.03,166.87 502.3,167.43 C502.57,167.99 502.78,168.73 502.84,169.36 C502.9,169.99 502.83,170.63 502.66,171.23 C502.5,171.84 502.18,172.5 501.83,172.99 C501.49,173.49 500.95,173.91 500.58,174.21 C500.22,174.52 500.03,174.71 499.65,174.81 C499.27,174.92 498.65,174.94 498.3,174.85 C497.95,174.76 497.7,174.53 497.53,174.29 C497.36,174.05 497.25,173.66 497.26,173.39 C497.28,173.13 497.42,172.96 497.61,172.69 C497.81,172.41 498.09,171.97 498.43,171.74 C498.77,171.5 499.2,171.35 499.66,171.26 C500.11,171.16 500.64,171.11 501.16,171.16 C501.68,171.22 502.21,171.35 502.78,171.58 C503.35,171.82 504.03,172.14 504.59,172.58 C505.15,173.02 505.77,173.66 506.16,174.23 C506.55,174.79 506.78,175.34 506.93,175.97 C507.07,176.6 507.09,177.37 507.04,178.01 C506.99,178.65 506.81,179.26 506.62,179.83 C506.42,180.4 506.22,180.96 505.86,181.45 C505.5,181.95 504.91,182.47 504.46,182.81 C504.01,183.15 503.59,183.34 503.16,183.49 C502.74,183.64 502.12,183.65 501.91,183.68" fill="none" stroke="#de9160" stroke-width="0.72"/><path d="M494.74,157.3 C494.93,157.3 495.59,157.37 495.88,157.31 C496.17,157.25 496.24,156.99 496.48,156.93 C496.73,156.88 497.14,156.92 497.35,156.98 C497.56,157.04 497.6,157.15 497.74,157.3 C497.88,157.44 498.21,157.66 498.18,157.84 C498.16,158.01 497.9,158.19 497.59,158.37 C497.28,158.54 496.8,158.8 496.33,158.9 C495.86,159.01 495.31,159.04 494.77,158.99 C494.24,158.94 493.64,158.82 493.14,158.61 C492.64,158.39 492.19,158.02 491.77,157.69 C491.34,157.36 490.96,157.03 490.59,156.63 C490.22,156.23 489.83,155.71 489.53,155.28 C489.24,154.85 488.98,154.5 488.82,154.07 C488.67,153.64 488.58,153.12 488.58,152.69 C488.58,152.27 488.73,151.82 488.81,151.51 C488.88,151.19 488.95,150.98 489.04,150.82 C489.14,150.66 489.24,150.56 489.39,150.55 C489.54,150.54 489.77,150.6 489.93,150.75 C490.08,150.9 490.21,151.13 490.32,151.46 C490.43,151.8 490.55,152.25 490.59,152.75 C490.63,153.26 490.65,153.93 490.55,154.47 C490.46,155 490.26,155.48 490.02,155.95 C489.78,156.43 489.52,156.89 489.12,157.32 C488.72,157.74 488.1,158.2 487.6,158.51 C487.09,158.83 486.62,159.04 486.09,159.21 C485.56,159.37 484.91,159.43 484.44,159.49 C483.96,159.56 483.65,159.66 483.24,159.58 C482.82,159.51 482.25,159.22 481.93,159.06 C481.6,158.9 481.47,158.78 481.29,158.63 C481.11,158.48 480.96,158.35 480.86,158.16 C480.75,157.98 480.64,157.71 480.68,157.52 C480.71,157.33 480.94,157.14 481.08,157.02 C481.23,156.9 481.34,156.84 481.55,156.81 C481.75,156.78 482.1,156.75 482.3,156.82 C482.5,156.9 482.63,157.07 482.75,157.25 C482.86,157.43 482.94,157.6 482.99,157.89 C483.04,158.19 483.13,158.64 483.07,159.02 C483,159.39 482.82,159.76 482.59,160.12 C482.36,160.47 482.05,160.82 481.69,161.15 C481.32,161.48 480.83,161.84 480.38,162.1 C479.94,162.36 479.5,162.58 479.02,162.74 C478.53,162.9 478,162.91 477.48,163.05 C476.96,163.19 476.14,163.49 475.88,163.58" fill="none" stroke="#de9160" stroke-width="0.72"/><path d="M506.39,160.7 C506.28,160.89 505.97,161.57 505.72,161.89 C505.47,162.2 505.16,162.41 504.89,162.59 C504.63,162.76 504.41,162.9 504.15,162.93 C503.9,162.96 503.56,162.88 503.37,162.75 C503.17,162.63 503.05,162.37 502.98,162.16 C502.91,161.96 502.89,161.71 502.95,161.54 C503.01,161.37 503.14,161.3 503.35,161.16 C503.57,161.01 503.98,160.75 504.26,160.68 C504.53,160.62 504.69,160.7 505.02,160.79 C505.34,160.87 505.81,160.97 506.22,161.2 C506.62,161.43 507.1,161.78 507.45,162.17 C507.79,162.56 508.09,163.07 508.27,163.53 C508.45,163.99 508.49,164.4 508.5,164.92 C508.52,165.45 508.49,166.11 508.34,166.68 C508.2,167.25 507.94,167.88 507.62,168.36 C507.3,168.84 506.83,169.2 506.42,169.57 C506,169.94 505.56,170.3 505.13,170.58 C504.7,170.87 504.28,171.15 503.86,171.3 C503.43,171.46 503.01,171.46 502.59,171.51 C502.17,171.56 501.59,171.66 501.31,171.61 C501.03,171.57 500.97,171.43 500.91,171.23 C500.84,171.03 500.82,170.62 500.91,170.4 C500.99,170.17 501.15,170.07 501.41,169.89 C501.67,169.7 502.02,169.45 502.47,169.3 C502.92,169.14 503.6,168.95 504.1,168.95 C504.6,168.96 504.97,169.11 505.45,169.32 C505.93,169.53 506.56,169.84 506.98,170.21 C507.4,170.58 507.7,171.03 507.98,171.55 C508.27,172.08 508.53,172.74 508.69,173.37 C508.85,173.99 508.97,174.63 508.96,175.3 C508.95,175.97 508.78,176.78 508.63,177.38 C508.49,177.97 508.34,178.38 508.07,178.87 C507.8,179.35 507.41,179.9 507.01,180.27 C506.62,180.64 506.14,180.9 505.71,181.08 C505.29,181.27 504.87,181.36 504.46,181.4 C504.05,181.44 503.6,181.4 503.28,181.34 C502.96,181.27 502.76,181.21 502.53,181 C502.3,180.8 502,180.37 501.92,180.09 C501.85,179.82 501.9,179.57 502.07,179.33 C502.25,179.09 502.6,178.81 502.96,178.67 C503.32,178.52 503.81,178.44 504.23,178.45 C504.66,178.46 505.08,178.56 505.51,178.72 C505.95,178.87 506.63,179.27 506.85,179.38" fill="none" stroke="#de9160" stroke-width="0.72"/><path d="M512.23,162.57 C512.17,162.46 512,162.25 511.9,161.96 C511.81,161.68 511.68,161.26 511.65,160.85 C511.62,160.44 511.63,159.95 511.74,159.5 C511.84,159.05 512.07,158.57 512.3,158.16 C512.53,157.75 512.81,157.4 513.13,157.05 C513.45,156.69 513.8,156.32 514.21,156.03 C514.62,155.74 515.13,155.47 515.59,155.29 C516.06,155.11 516.51,154.99 516.99,154.93 C517.48,154.87 517.99,154.84 518.5,154.9 C519.01,154.97 519.58,155.18 520.03,155.34 C520.48,155.51 520.87,155.72 521.18,155.88 C521.5,156.04 521.73,156.16 521.93,156.3 C522.12,156.44 522.25,156.59 522.34,156.74 C522.42,156.88 522.45,157.03 522.45,157.16 C522.44,157.29 522.39,157.41 522.32,157.52 C522.25,157.63 522.18,157.8 522.03,157.82 C521.87,157.84 521.59,157.74 521.4,157.63 C521.21,157.52 521.02,157.37 520.88,157.14 C520.74,156.91 520.78,156.57 520.54,156.26 C520.3,155.94 519.62,155.53 519.46,155.24 C519.3,154.96 519.63,154.73 519.58,154.54 C519.54,154.35 519.29,154.25 519.19,154.12 C519.1,153.99 519.03,153.84 519.02,153.76 C519.01,153.68 519.07,153.63 519.14,153.65 C519.22,153.66 519.41,153.76 519.47,153.85 C519.53,153.94 519.47,154.01 519.51,154.18 C519.54,154.36 519.67,154.62 519.68,154.91 C519.7,155.19 519.66,155.51 519.59,155.89 C519.52,156.27 519.39,156.79 519.27,157.2 C519.15,157.61 519.05,157.93 518.86,158.33 C518.68,158.73 518.42,159.21 518.18,159.6 C517.93,159.98 517.7,160.34 517.4,160.61 C517.1,160.88 516.63,161.05 516.36,161.22 C516.09,161.39 515.95,161.54 515.77,161.62 C515.59,161.69 515.38,161.66 515.27,161.67 C515.16,161.69 515.13,161.71 515.12,161.71 C515.11,161.71 515.16,161.71 515.22,161.68 C515.28,161.65 515.32,161.58 515.47,161.53 C515.62,161.48 515.87,161.39 516.13,161.38 C516.39,161.37 516.72,161.39 517.03,161.48 C517.35,161.57 517.68,161.7 518,161.91 C518.33,162.11 518.73,162.38 518.98,162.68 C519.23,162.98 519.43,163.53 519.51,163.7" fill="none" stroke="#de9160" stroke-width="0.72"/><path d="M526.69,161.87 C526.67,162.1 526.73,162.83 526.57,163.21 C526.42,163.59 526.1,163.87 525.76,164.15 C525.43,164.43 524.95,164.73 524.54,164.92 C524.14,165.1 523.71,165.19 523.32,165.26 C522.93,165.33 522.5,165.35 522.18,165.35 C521.87,165.35 521.65,165.32 521.44,165.27 C521.23,165.22 521.08,165.16 520.93,165.06 C520.78,164.97 520.65,164.79 520.55,164.7 C520.45,164.6 520.47,164.79 520.33,164.49 C520.18,164.18 519.67,163.15 519.7,162.87 C519.73,162.58 520.2,162.7 520.5,162.76 C520.79,162.82 521.16,162.98 521.46,163.22 C521.77,163.45 522.14,163.86 522.31,164.19 C522.47,164.51 522.45,164.8 522.46,165.15 C522.47,165.5 522.49,165.86 522.35,166.3 C522.2,166.74 521.88,167.29 521.59,167.79 C521.29,168.29 520.97,168.85 520.57,169.3 C520.17,169.75 519.69,170.15 519.17,170.5 C518.65,170.85 518,171.18 517.46,171.39 C516.92,171.6 516.52,171.66 515.95,171.77 C515.38,171.87 514.6,172.04 514.05,172.01 C513.49,171.98 512.99,171.74 512.61,171.59 C512.23,171.45 512,171.33 511.75,171.14 C511.5,170.94 511.27,170.7 511.11,170.44 C510.94,170.17 510.79,169.79 510.77,169.52 C510.74,169.26 510.82,169 510.96,168.84 C511.09,168.69 511.34,168.62 511.57,168.59 C511.8,168.57 512.02,168.6 512.35,168.7 C512.68,168.79 513.12,168.9 513.55,169.15 C513.99,169.4 514.59,169.78 514.97,170.2 C515.35,170.61 515.6,171.11 515.84,171.64 C516.08,172.17 516.29,172.73 516.4,173.39 C516.51,174.06 516.55,174.95 516.5,175.63 C516.45,176.32 516.33,176.9 516.1,177.5 C515.87,178.1 515.57,178.75 515.13,179.24 C514.69,179.74 513.93,180.16 513.46,180.47 C512.99,180.77 512.78,180.97 512.33,181.09 C511.88,181.2 511.24,181.24 510.77,181.17 C510.3,181.11 509.83,180.85 509.52,180.69 C509.22,180.53 509.08,180.47 508.93,180.21 C508.77,179.96 508.62,179.43 508.59,179.16 C508.57,178.89 508.63,178.75 508.79,178.6 C508.94,178.44 509.39,178.29 509.52,178.22" fill="none" stroke="#de9160" stroke-width="0.72"/><path d="M463.58,173.07 C463.31,173.15 462.48,173.46 461.96,173.51 C461.43,173.56 460.85,173.47 460.42,173.38 C459.99,173.29 459.68,173.15 459.38,172.97 C459.09,172.78 458.81,172.5 458.65,172.28 C458.49,172.05 458.41,171.83 458.42,171.62 C458.42,171.41 458.58,171.21 458.71,171.02 C458.84,170.83 458.99,170.54 459.22,170.49 C459.44,170.44 459.76,170.57 460.05,170.72 C460.33,170.88 460.66,171.13 460.92,171.41 C461.18,171.69 461.42,172.02 461.61,172.42 C461.8,172.81 461.97,173.28 462.05,173.78 C462.13,174.28 462.02,174.98 462.11,175.43 C462.2,175.88 462.5,176.24 462.57,176.51 C462.65,176.77 462.67,176.84 462.58,177.01 C462.48,177.18 462.24,177.45 462.02,177.52 C461.79,177.6 461.5,177.55 461.21,177.46 C460.92,177.38 460.61,177.25 460.28,177 C459.94,176.75 459.47,176.34 459.19,175.96 C458.91,175.58 458.79,175.22 458.61,174.71 C458.42,174.2 458.2,173.48 458.09,172.89 C457.97,172.29 457.89,171.75 457.93,171.13 C457.96,170.52 458.09,169.78 458.31,169.19 C458.53,168.6 458.91,168.05 459.24,167.6 C459.57,167.14 459.89,166.77 460.3,166.46 C460.71,166.16 461.26,165.9 461.71,165.75 C462.16,165.61 462.62,165.55 463,165.59 C463.38,165.64 463.79,165.86 463.98,166.01 C464.18,166.17 464.18,166.29 464.17,166.51 C464.16,166.72 464.09,167.08 463.93,167.31 C463.76,167.54 463.49,167.72 463.19,167.89 C462.88,168.05 462.5,168.24 462.13,168.31 C461.75,168.38 461.41,168.36 460.93,168.3 C460.45,168.24 459.78,168.18 459.26,167.95 C458.74,167.72 458.26,167.34 457.8,166.91 C457.34,166.48 456.85,165.87 456.49,165.38 C456.12,164.88 455.84,164.45 455.63,163.94 C455.42,163.42 455.28,162.84 455.23,162.3 C455.19,161.75 455.23,161.21 455.37,160.67 C455.52,160.13 455.84,159.56 456.1,159.08 C456.37,158.6 456.69,158.15 456.97,157.79 C457.25,157.44 457.32,157.09 457.78,156.94 C458.23,156.78 459.11,156.82 459.69,156.86 C460.28,156.9 461.03,157.12 461.3,157.17" fill="none" stroke="#de9160" stroke-width="0.72"/><path d="M472.26,163.92 C472.53,164.02 473.36,164.41 473.86,164.53 C474.36,164.65 474.84,164.55 475.26,164.65 C475.68,164.75 476.01,164.88 476.37,165.14 C476.73,165.39 477.15,165.8 477.44,166.18 C477.73,166.55 477.92,167.02 478.11,167.4 C478.3,167.78 478.5,168.08 478.58,168.47 C478.66,168.86 478.6,169.37 478.57,169.74 C478.53,170.11 478.38,170.14 478.37,170.7 C478.36,171.27 478.66,172.62 478.51,173.11 C478.36,173.61 477.8,173.6 477.46,173.68 C477.12,173.75 476.76,173.68 476.48,173.56 C476.19,173.44 475.9,173.15 475.74,172.94 C475.58,172.73 475.52,172.57 475.54,172.31 C475.56,172.05 475.7,171.65 475.87,171.37 C476.03,171.09 476.19,170.89 476.54,170.63 C476.9,170.37 477.5,169.96 477.98,169.81 C478.46,169.66 478.89,169.68 479.41,169.72 C479.93,169.77 480.58,169.88 481.1,170.08 C481.62,170.29 482.07,170.52 482.53,170.94 C482.99,171.36 483.49,172.03 483.84,172.59 C484.2,173.16 484.47,173.73 484.67,174.33 C484.86,174.92 484.94,175.59 485,176.16 C485.07,176.73 485.13,177.19 485.07,177.73 C485.01,178.28 484.88,178.93 484.65,179.43 C484.43,179.92 484.08,180.37 483.73,180.72 C483.38,181.06 482.88,181.31 482.56,181.48 C482.25,181.64 482.08,181.69 481.84,181.71 C481.59,181.73 481.07,181.79 481.1,181.59 C481.14,181.4 481.87,180.73 482.05,180.52 C482.23,180.31 482.1,180.38 482.2,180.33 C482.3,180.28 482.46,180.25 482.64,180.2 C482.82,180.16 483.02,180.08 483.27,180.05 C483.51,180.02 483.8,180.01 484.12,180.02 C484.44,180.04 484.82,180.09 485.18,180.14 C485.53,180.2 485.91,180.26 486.28,180.35 C486.65,180.44 487.05,180.51 487.4,180.66 C487.75,180.82 488.07,181.01 488.39,181.27 C488.7,181.53 489.03,181.89 489.31,182.22 C489.59,182.54 489.86,182.92 490.07,183.21 C490.28,183.5 490.23,183.56 490.59,183.96 C490.95,184.36 492.02,185.17 492.23,185.63 C492.44,186.08 492.07,186.39 491.85,186.69 C491.63,187 491.06,187.32 490.91,187.45" fill="none" stroke="#de9160" stroke-width="0.72"/><path d="M480.97,164.49 C481.07,164.5 481.42,164.47 481.57,164.54 C481.72,164.62 481.76,164.75 481.86,164.93 C481.96,165.11 482.05,165.3 482.15,165.64 C482.26,165.97 482.44,166.48 482.47,166.94 C482.5,167.39 482.45,167.89 482.32,168.38 C482.19,168.87 481.92,169.44 481.69,169.9 C481.45,170.36 481.25,170.76 480.94,171.14 C480.62,171.52 480.18,171.88 479.8,172.18 C479.41,172.48 479.1,172.74 478.65,172.94 C478.2,173.13 477.57,173.29 477.08,173.34 C476.59,173.39 476.13,173.34 475.69,173.24 C475.26,173.14 474.85,172.93 474.48,172.73 C474.12,172.53 473.84,172.26 473.52,172.01 C473.19,171.77 472.74,171.51 472.53,171.28 C472.32,171.05 472.3,170.87 472.24,170.66 C472.18,170.45 472.13,170.23 472.18,170.02 C472.24,169.81 472.42,169.51 472.58,169.39 C472.74,169.27 473,169.3 473.15,169.3 C473.3,169.3 473.33,169.26 473.47,169.39 C473.61,169.51 473.9,169.84 473.98,170.03 C474.07,170.22 474.01,170.34 473.99,170.54 C473.96,170.74 473.94,170.98 473.83,171.25 C473.72,171.51 473.56,171.88 473.32,172.15 C473.09,172.42 472.74,172.57 472.4,172.86 C472.06,173.14 471.75,173.66 471.29,173.86 C470.82,174.06 470.21,174.05 469.63,174.07 C469.06,174.1 468.48,174.13 467.84,174.02 C467.2,173.91 466.4,173.71 465.8,173.41 C465.21,173.11 464.69,172.71 464.27,172.2 C463.85,171.7 463.5,170.94 463.28,170.37 C463.07,169.8 463.05,169.31 462.99,168.78 C462.94,168.25 462.88,167.72 462.97,167.2 C463.05,166.68 463.25,166.11 463.53,165.65 C463.8,165.2 464.27,164.79 464.61,164.48 C464.95,164.18 465.23,163.99 465.56,163.85 C465.89,163.71 466.27,163.64 466.58,163.65 C466.89,163.67 467.18,163.81 467.39,163.94 C467.61,164.08 467.83,164.17 467.86,164.46 C467.89,164.74 467.78,165.24 467.55,165.65 C467.33,166.06 466.93,166.56 466.52,166.91 C466.1,167.26 465.62,167.51 465.07,167.76 C464.52,168 463.84,168.26 463.22,168.39 C462.6,168.53 461.64,168.54 461.33,168.56" fill="none" stroke="#de9160" stroke-width="0.72"/><path d="M486.3,163.23 C486.48,163.28 487,163.4 487.38,163.52 C487.77,163.65 488.12,163.8 488.59,164 C489.05,164.2 489.71,164.45 490.17,164.73 C490.62,165.02 490.96,165.33 491.3,165.69 C491.65,166.06 491.99,166.46 492.23,166.91 C492.48,167.36 492.66,167.9 492.77,168.39 C492.87,168.88 492.9,169.43 492.86,169.86 C492.82,170.3 492.65,170.72 492.53,171 C492.41,171.28 492.26,171.41 492.14,171.54 C492.03,171.67 491.98,171.79 491.84,171.79 C491.7,171.78 491.42,171.62 491.31,171.5 C491.21,171.39 491.21,171.27 491.2,171.1 C491.2,170.93 491.22,170.66 491.3,170.48 C491.37,170.29 491.46,170.2 491.64,170.01 C491.83,169.82 492.12,169.48 492.39,169.32 C492.67,169.15 492.94,169.09 493.29,169.02 C493.64,168.95 494.05,168.86 494.49,168.89 C494.94,168.92 495.49,169.02 495.95,169.19 C496.41,169.37 496.84,169.62 497.25,169.95 C497.66,170.29 498.1,170.75 498.42,171.2 C498.74,171.64 499,172.13 499.16,172.63 C499.32,173.13 499.35,173.66 499.37,174.18 C499.39,174.69 499.39,175.22 499.29,175.71 C499.2,176.2 499.01,176.69 498.79,177.12 C498.56,177.56 498.27,178.1 497.96,178.33 C497.64,178.56 497.22,178.38 496.89,178.49 C496.57,178.61 496.3,178.91 496,179.03 C495.71,179.16 495.42,179.24 495.12,179.24 C494.83,179.24 494.46,179.08 494.23,179.03 C493.99,178.97 493.95,179 493.73,178.89 C493.52,178.79 492.96,178.53 492.93,178.39 C492.9,178.24 493.32,178.05 493.54,178 C493.76,177.94 493.94,178 494.24,178.05 C494.54,178.1 494.92,178.15 495.32,178.29 C495.72,178.42 496.23,178.59 496.65,178.84 C497.08,179.1 497.51,179.41 497.87,179.81 C498.23,180.21 498.64,180.69 498.81,181.22 C498.98,181.75 498.86,182.45 498.89,182.98 C498.92,183.51 499.04,183.89 498.99,184.38 C498.93,184.87 498.78,185.45 498.57,185.9 C498.37,186.35 498.07,186.76 497.77,187.09 C497.46,187.42 497.16,187.7 496.75,187.89 C496.34,188.09 495.56,188.19 495.32,188.25" fill="none" stroke="#de9160" stroke-width="0.72"/><path d="M494.87,168.35 C494.77,168.31 494.4,168.23 494.23,168.07 C494.05,167.91 493.86,167.62 493.83,167.42 C493.8,167.21 493.85,167.02 494.05,166.83 C494.26,166.63 494.63,166.14 495.04,166.25 C495.46,166.36 496.2,167.2 496.55,167.49 C496.9,167.77 496.97,167.76 497.16,167.97 C497.35,168.17 497.56,168.44 497.69,168.72 C497.82,169 497.63,169.4 497.96,169.64 C498.29,169.87 499.38,169.77 499.65,170.12 C499.92,170.48 499.67,171.25 499.57,171.78 C499.48,172.31 499.34,172.78 499.1,173.31 C498.87,173.84 498.51,174.46 498.16,174.96 C497.81,175.45 497.38,175.9 496.99,176.3 C496.6,176.7 496.25,177.05 495.83,177.34 C495.41,177.63 494.98,177.88 494.48,178.02 C493.98,178.16 493.36,178.2 492.85,178.2 C492.34,178.2 491.88,178.14 491.43,178.01 C490.98,177.88 490.52,177.71 490.15,177.41 C489.77,177.12 489.4,176.59 489.19,176.26 C488.97,175.92 488.9,175.63 488.88,175.41 C488.86,175.19 488.95,175.07 489.06,174.93 C489.16,174.79 489.26,174.65 489.52,174.57 C489.78,174.48 490.24,174.36 490.64,174.44 C491.04,174.53 491.52,174.78 491.92,175.08 C492.32,175.37 492.69,175.74 493.06,176.22 C493.42,176.7 493.84,177.37 494.1,177.96 C494.37,178.55 494.53,179.18 494.62,179.77 C494.72,180.35 494.69,180.92 494.66,181.49 C494.63,182.05 494.61,182.6 494.44,183.16 C494.27,183.72 493.95,184.39 493.64,184.85 C493.34,185.3 492.98,185.64 492.62,185.91 C492.26,186.18 491.81,186.38 491.47,186.47 C491.14,186.56 490.83,186.53 490.6,186.45 C490.37,186.38 490.18,186.23 490.09,186.01 C490,185.8 489.98,185.48 490.06,185.15 C490.14,184.82 490.31,184.38 490.55,184.02 C490.79,183.66 491.1,183.32 491.49,183 C491.88,182.67 492.34,182.33 492.87,182.08 C493.4,181.83 494.08,181.46 494.66,181.49 C495.24,181.51 495.84,182.06 496.36,182.25 C496.89,182.44 497.32,182.43 497.81,182.61 C498.31,182.79 498.89,183.09 499.33,183.35 C499.77,183.6 500.26,184 500.45,184.14" fill="none" stroke="#de9160" stroke-width="0.72"/><path d="M508.28,172.88 C507.98,172.9 507.04,173.03 506.46,173.02 C505.89,173.02 505.38,172.98 504.84,172.84 C504.31,172.69 503.72,172.47 503.26,172.14 C502.81,171.8 502.4,171.24 502.11,170.84 C501.82,170.44 501.68,170.09 501.55,169.74 C501.42,169.39 501.28,169.12 501.32,168.74 C501.35,168.36 501.57,167.8 501.77,167.44 C501.97,167.08 502.24,166.77 502.52,166.57 C502.8,166.37 503.14,166.25 503.44,166.25 C503.75,166.24 504.24,166.36 504.35,166.53 C504.46,166.7 504.14,167.03 504.09,167.27 C504.05,167.51 504.18,167.74 504.1,167.97 C504.02,168.21 503.85,168.48 503.62,168.66 C503.4,168.84 503.1,168.93 502.75,169.07 C502.4,169.21 501.98,169.39 501.51,169.5 C501.03,169.61 500.42,169.71 499.91,169.72 C499.4,169.74 498.97,169.68 498.43,169.57 C497.89,169.46 497.17,169.29 496.67,169.06 C496.16,168.83 495.78,168.58 495.41,168.19 C495.04,167.79 494.67,167.19 494.45,166.71 C494.22,166.22 494.15,165.71 494.05,165.27 C493.96,164.83 493.84,164.5 493.89,164.07 C493.93,163.65 494.14,163.11 494.33,162.72 C494.53,162.33 494.85,162 495.07,161.74 C495.28,161.48 495.43,161.32 495.64,161.16 C495.85,161.01 496.11,160.87 496.34,160.8 C496.56,160.72 496.8,160.67 496.97,160.74 C497.13,160.8 497.27,161.06 497.32,161.18 C497.37,161.3 497.34,161.31 497.28,161.46 C497.21,161.6 497.12,161.89 496.91,162.06 C496.71,162.23 496.37,162.39 496.04,162.47 C495.71,162.55 495.27,162.61 494.94,162.56 C494.61,162.52 494.33,162.37 494.04,162.2 C493.75,162.04 493.44,161.82 493.18,161.56 C492.93,161.3 492.74,161.03 492.48,160.64 C492.23,160.26 491.85,159.7 491.63,159.22 C491.41,158.74 491.34,158.27 491.18,157.78 C491.01,157.29 490.71,156.83 490.67,156.27 C490.62,155.71 490.73,154.99 490.91,154.42 C491.09,153.85 491.42,153.31 491.75,152.87 C492.08,152.42 492.41,152.07 492.89,151.76 C493.36,151.45 494.06,151.15 494.61,150.99 C495.15,150.82 495.88,150.82 496.14,150.79" fill="none" stroke="#de9160" stroke-width="0.72"/><path d="M510.67,166.87 C510.68,166.78 510.68,166.53 510.77,166.31 C510.86,166.1 510.98,165.75 511.19,165.58 C511.4,165.4 511.69,165.33 512.05,165.26 C512.41,165.18 512.93,165.09 513.34,165.14 C513.76,165.19 514.18,165.36 514.54,165.56 C514.9,165.75 515.14,166 515.5,166.32 C515.86,166.64 516.34,167.04 516.68,167.46 C517.03,167.88 517.35,168.34 517.56,168.83 C517.77,169.32 517.86,169.85 517.93,170.4 C517.99,170.94 518.02,171.58 517.95,172.12 C517.88,172.67 517.77,173.15 517.5,173.66 C517.23,174.17 516.73,174.77 516.33,175.19 C515.93,175.6 515.56,175.89 515.1,176.15 C514.64,176.4 514.03,176.6 513.56,176.71 C513.09,176.83 512.65,176.85 512.29,176.85 C511.93,176.86 511.65,176.85 511.42,176.73 C511.18,176.6 510.98,176.3 510.9,176.11 C510.83,175.91 510.88,175.71 510.97,175.57 C511.07,175.42 511.28,175.3 511.46,175.22 C511.65,175.14 511.84,175.1 512.07,175.07 C512.31,175.04 512.59,175 512.88,175.06 C513.17,175.12 513.45,175.24 513.79,175.41 C514.13,175.59 514.57,175.83 514.9,176.13 C515.23,176.42 515.51,176.78 515.77,177.17 C516.02,177.56 516.23,177.95 516.46,178.46 C516.68,178.98 516.94,179.71 517.09,180.28 C517.24,180.84 517.33,181.3 517.35,181.85 C517.37,182.39 517.32,183.06 517.23,183.55 C517.14,184.04 517.03,184.4 516.8,184.79 C516.58,185.17 516.18,185.6 515.89,185.88 C515.6,186.17 515.36,186.29 515.04,186.48 C514.72,186.67 514.33,186.98 513.96,187 C513.59,187.02 513.13,186.76 512.82,186.6 C512.51,186.44 512.29,186.28 512.1,186.06 C511.91,185.84 511.74,185.54 511.69,185.28 C511.64,185.03 511.7,184.71 511.8,184.52 C511.89,184.34 512.01,184.25 512.27,184.17 C512.54,184.08 513.07,183.97 513.4,184.03 C513.72,184.08 513.98,184.3 514.23,184.51 C514.49,184.71 514.73,184.97 514.94,185.26 C515.15,185.55 515.36,185.9 515.49,186.27 C515.61,186.63 515.69,187 515.71,187.47 C515.73,187.95 515.62,188.84 515.6,189.12" fill="none" stroke="#de9160" stroke-width="0.72"/><path d="M526.04,166.69 C526.02,166.92 526.02,167.67 525.93,168.11 C525.85,168.54 525.69,168.98 525.52,169.3 C525.35,169.62 525.1,169.84 524.9,170.03 C524.69,170.21 524.45,170.31 524.28,170.4 C524.11,170.48 524.16,170.67 523.89,170.55 C523.61,170.43 523,169.98 522.64,169.66 C522.28,169.34 521.98,168.95 521.73,168.61 C521.48,168.27 521.28,168.01 521.14,167.62 C520.99,167.23 520.88,166.66 520.87,166.29 C520.86,165.91 520.98,165.61 521.07,165.35 C521.16,165.09 521.28,164.88 521.42,164.74 C521.56,164.6 521.81,164.51 521.92,164.49 C522.04,164.48 522.06,164.54 522.11,164.65 C522.16,164.76 522.22,164.95 522.24,165.15 C522.25,165.36 522.26,165.62 522.2,165.86 C522.13,166.11 522.01,166.41 521.83,166.64 C521.65,166.87 521.42,167.08 521.11,167.25 C520.8,167.43 520.4,167.61 519.98,167.68 C519.55,167.74 519,167.76 518.56,167.65 C518.11,167.54 517.67,167.32 517.3,167.04 C516.93,166.76 516.6,166.4 516.36,165.98 C516.11,165.56 515.95,165.02 515.82,164.51 C515.69,164 515.61,163.4 515.59,162.89 C515.56,162.39 515.57,161.96 515.66,161.48 C515.76,161 515.91,160.47 516.14,160.02 C516.38,159.57 516.74,159.14 517.05,158.77 C517.36,158.4 517.66,158.07 518,157.81 C518.35,157.54 518.77,157.36 519.15,157.19 C519.53,157.02 519.9,156.85 520.29,156.79 C520.68,156.73 521.13,156.75 521.49,156.82 C521.85,156.89 522.19,157.06 522.44,157.21 C522.7,157.35 522.92,157.52 523.02,157.7 C523.12,157.87 523.13,158.11 523.04,158.26 C522.96,158.4 522.71,158.54 522.5,158.59 C522.3,158.64 522.09,158.63 521.83,158.56 C521.57,158.49 521.26,158.35 520.97,158.16 C520.67,157.98 520.36,157.74 520.06,157.43 C519.77,157.11 519.45,156.73 519.22,156.29 C518.99,155.85 518.81,155.29 518.7,154.79 C518.58,154.29 518.52,153.83 518.51,153.31 C518.5,152.78 518.53,152.17 518.62,151.64 C518.7,151.1 518.86,150.56 519.05,150.12 C519.23,149.68 519.59,149.17 519.7,148.98" fill="none" stroke="#de9160" stroke-width="0.72"/><path d="M463.98,178.22 C463.88,178.4 463.58,178.98 463.35,179.27 C463.12,179.55 462.84,179.76 462.6,179.93 C462.37,180.11 462.21,180.24 461.95,180.31 C461.69,180.38 461.31,180.36 461.06,180.33 C460.8,180.3 460.59,180.27 460.41,180.14 C460.23,180.02 460.05,179.76 459.98,179.58 C459.91,179.39 459.93,179.19 459.98,179.02 C460.04,178.86 460.16,178.7 460.33,178.6 C460.5,178.51 460.8,178.45 461.02,178.45 C461.24,178.45 461.42,178.5 461.64,178.62 C461.87,178.74 461.96,179 462.36,179.19 C462.76,179.38 463.56,179.54 464.06,179.74 C464.56,179.93 464.95,180.11 465.35,180.35 C465.75,180.58 466.16,180.91 466.47,181.15 C466.77,181.39 467.01,181.48 467.19,181.8 C467.38,182.12 467.48,182.74 467.56,183.06 C467.63,183.39 467.67,183.5 467.62,183.74 C467.57,183.98 467.44,184.28 467.27,184.48 C467.1,184.68 466.82,184.91 466.6,184.95 C466.38,184.98 466.13,184.86 465.97,184.69 C465.82,184.53 465.75,184.24 465.7,183.94 C465.64,183.64 465.64,183.29 465.65,182.88 C465.67,182.47 465.76,181.99 465.79,181.48 C465.82,180.96 465.62,180.3 465.83,179.77 C466.04,179.24 466.6,178.71 467.07,178.31 C467.53,177.92 468.01,177.66 468.62,177.41 C469.24,177.16 470.07,176.9 470.77,176.81 C471.47,176.72 472.18,176.8 472.81,176.89 C473.44,176.98 474.06,177.16 474.56,177.34 C475.06,177.53 475.47,177.73 475.81,178.02 C476.14,178.31 476.41,178.72 476.57,179.1 C476.74,179.48 476.79,179.94 476.8,180.28 C476.81,180.63 476.8,180.9 476.63,181.16 C476.47,181.42 476.03,181.71 475.8,181.82 C475.57,181.93 475.49,181.92 475.26,181.82 C475.04,181.73 474.73,181.54 474.46,181.25 C474.18,180.96 473.83,180.51 473.63,180.09 C473.43,179.68 473.34,179.24 473.28,178.75 C473.22,178.25 473.2,177.63 473.27,177.11 C473.35,176.59 473.5,176.16 473.72,175.63 C473.94,175.1 474.22,174.46 474.58,173.93 C474.95,173.41 475.42,172.93 475.93,172.5 C476.45,172.06 477.38,171.5 477.67,171.3" fill="none" stroke="#de9160" stroke-width="0.72"/><path d="M472.49,178.97 C472.35,178.92 471.85,178.8 471.64,178.66 C471.43,178.52 471.28,178.37 471.21,178.15 C471.14,177.94 471.16,177.56 471.23,177.34 C471.29,177.13 471.41,177 471.59,176.87 C471.78,176.74 472.07,176.62 472.34,176.57 C472.6,176.53 472.9,176.55 473.21,176.61 C473.51,176.66 473.83,176.75 474.17,176.92 C474.5,177.09 474.84,177.28 475.19,177.63 C475.54,177.97 475.98,178.48 476.28,178.98 C476.57,179.47 476.82,180.07 476.94,180.59 C477.06,181.12 477.04,181.62 476.97,182.13 C476.9,182.65 476.75,183.19 476.52,183.67 C476.3,184.15 475.99,184.62 475.62,185.02 C475.25,185.42 474.81,185.78 474.32,186.08 C473.83,186.38 473.28,186.69 472.69,186.83 C472.1,186.98 471.38,186.98 470.8,186.97 C470.22,186.96 469.75,186.91 469.2,186.77 C468.65,186.63 468,186.43 467.51,186.13 C467.02,185.83 466.6,185.4 466.28,184.98 C465.95,184.57 465.73,184.07 465.57,183.64 C465.41,183.2 465.34,182.71 465.32,182.36 C465.31,182.02 465.37,181.74 465.48,181.57 C465.58,181.39 465.79,181.36 465.95,181.3 C466.12,181.25 466.27,181.19 466.47,181.24 C466.67,181.29 466.96,181.4 467.17,181.6 C467.38,181.81 467.6,182.13 467.71,182.48 C467.83,182.83 467.9,183.25 467.86,183.7 C467.81,184.15 467.67,184.76 467.44,185.19 C467.21,185.63 466.74,186.05 466.49,186.3 C466.25,186.54 466.2,186.61 465.95,186.68 C465.7,186.75 465.32,186.76 464.98,186.7 C464.65,186.64 464.25,186.52 463.95,186.33 C463.65,186.14 463.45,185.89 463.2,185.58 C462.95,185.27 462.7,184.9 462.46,184.48 C462.22,184.06 461.94,183.58 461.77,183.07 C461.6,182.57 461.49,182.03 461.43,181.45 C461.36,180.88 461.33,180.23 461.38,179.62 C461.43,179.01 461.55,178.36 461.72,177.81 C461.89,177.26 462.19,176.7 462.39,176.31 C462.59,175.93 462.72,175.71 462.92,175.49 C463.12,175.28 463.33,175.12 463.6,175.05 C463.87,174.97 464.29,175.04 464.54,175.06 C464.78,175.08 464.99,175.15 465.08,175.16" fill="none" stroke="#de9160" stroke-width="0.72"/><path d="M478.22,175.46 C478.5,175.47 479.3,175.41 479.87,175.5 C480.45,175.59 481.12,175.8 481.68,176.01 C482.24,176.22 482.73,176.47 483.23,176.77 C483.73,177.06 484.27,177.4 484.67,177.8 C485.08,178.19 485.39,178.69 485.63,179.12 C485.88,179.55 486.04,179.97 486.14,180.38 C486.25,180.79 486.33,181.18 486.27,181.57 C486.2,181.95 485.95,182.43 485.78,182.71 C485.61,183 485.44,183.14 485.24,183.29 C485.05,183.43 484.8,183.56 484.6,183.58 C484.39,183.61 484.12,183.58 484,183.43 C483.88,183.28 483.88,182.95 483.88,182.68 C483.88,182.4 483.9,182.1 484.02,181.76 C484.14,181.41 484.34,180.92 484.58,180.59 C484.82,180.26 485.1,180.07 485.47,179.78 C485.83,179.48 486.26,179.11 486.77,178.85 C487.28,178.58 487.92,178.34 488.53,178.21 C489.15,178.07 489.86,177.99 490.45,178.04 C491.05,178.1 491.6,178.31 492.11,178.52 C492.62,178.74 493.11,179 493.52,179.32 C493.93,179.64 494.28,180.07 494.55,180.44 C494.82,180.82 495,181.22 495.15,181.57 C495.3,181.92 495.43,182.24 495.45,182.55 C495.48,182.85 495.36,183.15 495.29,183.38 C495.23,183.6 495.19,183.75 495.06,183.91 C494.94,184.07 494.7,184.25 494.53,184.33 C494.35,184.4 494.19,184.44 494.03,184.35 C493.87,184.26 493.53,184.07 493.57,183.79 C493.61,183.51 494.08,182.98 494.27,182.65 C494.46,182.31 494.52,182.04 494.71,181.81 C494.91,181.58 495.15,181.46 495.44,181.26 C495.72,181.07 496.08,180.81 496.44,180.63 C496.8,180.45 497.18,180.32 497.59,180.18 C498,180.04 498.43,179.84 498.92,179.79 C499.4,179.73 500.03,179.79 500.49,179.85 C500.95,179.9 501.28,179.94 501.69,180.12 C502.1,180.3 502.6,180.64 502.96,180.95 C503.31,181.25 503.61,181.67 503.84,181.94 C504.08,182.22 504.25,182.36 504.36,182.62 C504.48,182.87 504.47,183.24 504.5,183.49 C504.54,183.73 504.59,183.88 504.58,184.08 C504.56,184.28 504.5,184.52 504.39,184.67 C504.29,184.83 504.03,184.95 503.96,185.01" fill="none" stroke="#de9160" stroke-width="0.72"/><path d="M487.25,179.35 C487.18,179.25 486.74,178.86 486.86,178.76 C486.98,178.67 487.78,178.8 487.97,178.78 C488.17,178.76 487.95,178.65 488.03,178.64 C488.1,178.62 488.24,178.61 488.42,178.69 C488.6,178.77 488.88,178.92 489.11,179.12 C489.35,179.33 489.61,179.62 489.83,179.93 C490.04,180.24 490.25,180.61 490.42,180.98 C490.58,181.35 490.73,181.74 490.79,182.16 C490.85,182.58 490.85,183.07 490.77,183.48 C490.69,183.88 490.5,184.22 490.32,184.59 C490.14,184.96 489.96,185.39 489.72,185.71 C489.48,186.04 489.22,186.28 488.88,186.54 C488.55,186.8 488.07,187.08 487.71,187.27 C487.34,187.47 487.05,187.61 486.7,187.71 C486.35,187.8 485.94,187.84 485.61,187.85 C485.29,187.87 484.99,187.83 484.74,187.79 C484.49,187.75 484.3,187.7 484.13,187.62 C483.97,187.54 483.82,187.37 483.75,187.32 C483.69,187.27 483.67,187.33 483.73,187.32 C483.79,187.3 484,187.21 484.09,187.24 C484.19,187.27 484.23,187.39 484.31,187.49 C484.39,187.6 484.47,187.71 484.56,187.89 C484.66,188.06 484.76,188.28 484.88,188.54 C484.99,188.8 485.11,189.09 485.24,189.45 C485.38,189.81 485.61,190.28 485.69,190.7 C485.76,191.11 485.76,191.54 485.69,191.97 C485.63,192.39 485.48,192.83 485.32,193.24 C485.15,193.66 484.88,194.08 484.69,194.44 C484.49,194.8 484.33,195.12 484.15,195.42 C483.97,195.72 483.86,196 483.63,196.23 C483.4,196.46 483.06,196.68 482.77,196.82 C482.48,196.96 482.1,197.01 481.88,197.08 C481.65,197.14 481.55,197.2 481.42,197.22 C481.29,197.23 481.1,197.39 481.1,197.16 C481.11,196.92 481.31,196.22 481.43,195.81 C481.55,195.4 481.64,195.03 481.84,194.68 C482.03,194.34 482.29,194.05 482.58,193.73 C482.87,193.42 483.27,193.07 483.58,192.8 C483.88,192.53 484.09,192.29 484.4,192.11 C484.71,191.93 485.11,191.8 485.45,191.73 C485.78,191.66 486.14,191.67 486.42,191.67 C486.7,191.66 486.92,191.65 487.13,191.7 C487.34,191.76 487.57,191.97 487.66,192.02" fill="none" stroke="#de9160" stroke-width="0.72"/><path d="M499.5,178.46 C499.23,178.58 498.38,179.04 497.83,179.23 C497.28,179.42 496.69,179.55 496.21,179.61 C495.72,179.67 495.3,179.62 494.92,179.59 C494.54,179.55 494.22,179.52 493.92,179.39 C493.62,179.25 493.3,178.97 493.11,178.79 C492.92,178.62 492.83,178.54 492.77,178.34 C492.71,178.13 492.73,177.76 492.77,177.56 C492.82,177.35 492.91,177.19 493.03,177.09 C493.16,176.99 493.32,176.96 493.52,176.97 C493.73,176.98 493.98,176.99 494.27,177.16 C494.55,177.33 494.94,177.61 495.23,177.98 C495.52,178.34 495.85,178.87 496,179.34 C496.15,179.81 496.14,180.31 496.12,180.82 C496.1,181.33 496.05,181.87 495.89,182.39 C495.73,182.92 495.48,183.5 495.16,183.96 C494.84,184.41 494.44,184.8 493.97,185.12 C493.51,185.44 492.94,185.68 492.39,185.88 C491.83,186.08 491.24,186.24 490.65,186.31 C490.07,186.38 489.43,186.38 488.87,186.29 C488.3,186.19 487.72,185.93 487.27,185.74 C486.81,185.56 486.47,185.47 486.13,185.19 C485.79,184.92 485.44,184.47 485.23,184.07 C485.01,183.67 484.91,183.21 484.85,182.81 C484.79,182.42 484.8,182.07 484.87,181.72 C484.95,181.37 485.1,180.96 485.3,180.7 C485.5,180.45 485.84,180.27 486.06,180.19 C486.27,180.11 486.43,180.19 486.6,180.24 C486.76,180.28 486.93,180.34 487.05,180.46 C487.18,180.58 487.31,180.78 487.33,180.96 C487.35,181.14 487.28,181.26 487.16,181.53 C487.04,181.8 486.86,182.27 486.61,182.57 C486.35,182.87 486.02,183.11 485.62,183.32 C485.22,183.53 484.74,183.73 484.21,183.85 C483.69,183.97 483.03,184.04 482.46,184.04 C481.9,184.04 481.35,183.97 480.81,183.86 C480.26,183.75 479.69,183.62 479.19,183.37 C478.7,183.12 478.17,182.71 477.84,182.35 C477.5,181.98 477.4,181.63 477.17,181.19 C476.95,180.76 476.61,180.22 476.46,179.74 C476.32,179.27 476.28,178.76 476.31,178.32 C476.34,177.89 476.51,177.43 476.64,177.13 C476.77,176.83 476.91,176.67 477.08,176.53 C477.26,176.4 477.59,176.35 477.69,176.31" fill="none" stroke="#de9160" stroke-width="0.72"/><path d="M507.65,180.23 C507.38,180.29 506.54,180.54 505.99,180.59 C505.44,180.63 504.89,180.64 504.33,180.5 C503.78,180.37 503.16,180.09 502.68,179.78 C502.2,179.47 501.77,179 501.45,178.63 C501.13,178.27 500.91,177.96 500.74,177.59 C500.56,177.21 500.45,176.74 500.4,176.37 C500.35,175.99 500.39,175.61 500.43,175.35 C500.46,175.09 500.5,174.95 500.59,174.81 C500.67,174.67 500.81,174.57 500.93,174.5 C501.06,174.44 501.21,174.36 501.36,174.42 C501.51,174.47 501.73,174.59 501.84,174.82 C501.94,175.05 502.03,175.5 501.99,175.78 C501.96,176.07 501.82,176.22 501.64,176.55 C501.45,176.88 501.19,177.41 500.89,177.74 C500.58,178.07 500.24,178.27 499.81,178.52 C499.37,178.77 498.82,179.04 498.27,179.22 C497.72,179.4 497.04,179.52 496.51,179.61 C495.98,179.69 495.53,179.72 495.08,179.74 C494.64,179.75 494.21,179.75 493.81,179.69 C493.41,179.64 493.04,179.58 492.7,179.4 C492.36,179.22 491.94,178.85 491.79,178.61 C491.63,178.37 491.74,178.12 491.78,177.96 C491.82,177.81 491.9,177.74 492.05,177.68 C492.21,177.61 492.48,177.53 492.71,177.57 C492.94,177.6 493.22,177.75 493.43,177.89 C493.64,178.04 493.81,178.22 493.98,178.46 C494.16,178.69 494.3,178.94 494.47,179.3 C494.64,179.67 494.91,180.14 495.01,180.62 C495.11,181.1 495.11,181.65 495.08,182.19 C495.05,182.72 494.94,183.34 494.8,183.84 C494.66,184.34 494.5,184.74 494.25,185.19 C494.01,185.63 493.63,186.15 493.34,186.52 C493.06,186.89 492.84,187.18 492.56,187.4 C492.29,187.61 491.9,187.73 491.71,187.8 C491.53,187.88 491.57,187.86 491.47,187.83 C491.37,187.81 491.18,187.71 491.11,187.65 C491.03,187.58 491.01,187.55 491.01,187.46 C491.01,187.37 491.03,187.24 491.11,187.11 C491.19,186.97 491.34,186.73 491.48,186.64 C491.63,186.55 491.73,186.55 491.98,186.57 C492.23,186.58 492.66,186.61 492.98,186.73 C493.3,186.84 493.59,187.05 493.91,187.27 C494.23,187.48 494.74,187.9 494.91,188.03" fill="none" stroke="#de9160" stroke-width="0.72"/><path d="M514.6,171.82 C514.9,171.77 515.77,171.59 516.38,171.56 C516.99,171.54 517.66,171.58 518.26,171.67 C518.86,171.76 519.48,171.88 519.98,172.11 C520.47,172.35 520.85,172.73 521.21,173.08 C521.56,173.44 521.89,173.84 522.1,174.24 C522.32,174.65 522.43,175.13 522.51,175.5 C522.6,175.87 522.63,176.14 522.61,176.46 C522.6,176.77 522.53,177.14 522.43,177.39 C522.32,177.64 522.14,177.84 521.97,177.96 C521.79,178.08 521.59,178.15 521.37,178.12 C521.16,178.1 520.82,177.92 520.68,177.79 C520.54,177.66 520.55,177.54 520.54,177.33 C520.52,177.13 520.5,176.82 520.58,176.55 C520.66,176.28 521,176.01 521.01,175.71 C521.02,175.41 520.7,175.05 520.63,174.74 C520.55,174.44 520.52,174.13 520.56,173.89 C520.6,173.65 520.73,173.42 520.88,173.3 C521.03,173.18 521.26,173.13 521.46,173.14 C521.66,173.15 521.89,173.18 522.09,173.36 C522.29,173.54 522.53,173.9 522.65,174.21 C522.77,174.53 522.81,174.83 522.83,175.27 C522.85,175.71 522.86,176.42 522.74,176.87 C522.62,177.33 522.42,177.57 522.12,178.01 C521.83,178.45 521.41,179.08 520.97,179.53 C520.54,179.98 519.98,180.39 519.51,180.7 C519.03,181 518.63,181.22 518.13,181.37 C517.63,181.52 517.05,181.57 516.51,181.6 C515.97,181.64 515.42,181.68 514.89,181.56 C514.36,181.43 513.72,181.05 513.32,180.86 C512.91,180.67 512.7,180.62 512.46,180.4 C512.23,180.18 511.98,179.82 511.9,179.52 C511.82,179.22 511.88,178.86 511.98,178.61 C512.08,178.36 512.23,178.12 512.48,178.03 C512.72,177.94 513.17,177.99 513.44,178.08 C513.71,178.17 513.82,178.32 514.09,178.59 C514.36,178.86 514.77,179.24 515.04,179.7 C515.32,180.16 515.58,180.76 515.75,181.36 C515.91,181.96 515.97,182.72 516.02,183.3 C516.07,183.88 516.19,184.39 516.04,184.83 C515.89,185.28 515.44,185.57 515.13,185.98 C514.83,186.39 514.56,186.92 514.21,187.29 C513.85,187.66 513.38,187.97 513.02,188.2 C512.65,188.43 512.18,188.59 512.01,188.67" fill="none" stroke="#de9160" stroke-width="0.72"/><path d="M524.7,176.19 C524.7,176.39 524.77,176.99 524.72,177.38 C524.67,177.77 524.56,178.16 524.4,178.52 C524.24,178.87 524.02,179.22 523.76,179.51 C523.51,179.8 523.16,180.07 522.87,180.28 C522.58,180.49 522.36,180.71 522.02,180.75 C521.68,180.79 521.29,180.63 520.83,180.52 C520.37,180.41 519.52,180.31 519.24,180.09 C518.96,179.87 519.26,179.46 519.17,179.2 C519.08,178.93 518.8,178.73 518.68,178.5 C518.57,178.27 518.51,178 518.48,177.79 C518.44,177.59 518.42,177.42 518.46,177.28 C518.49,177.15 518.62,177.05 518.67,177 C518.72,176.95 518.74,176.99 518.76,176.99 C518.78,177 518.8,176.96 518.78,177.04 C518.77,177.12 518.77,177.34 518.69,177.47 C518.61,177.6 518.47,177.72 518.31,177.83 C518.14,177.93 517.89,178.06 517.68,178.09 C517.47,178.13 517.3,178.08 517.04,178.06 C516.79,178.04 516.42,178.06 516.14,177.97 C515.86,177.88 515.67,177.71 515.38,177.52 C515.1,177.33 514.74,177.09 514.42,176.81 C514.1,176.54 513.75,176.19 513.47,175.88 C513.19,175.58 512.95,175.33 512.75,174.98 C512.55,174.64 512.46,174.24 512.26,173.84 C512.06,173.44 511.65,173.01 511.53,172.58 C511.42,172.15 511.55,171.62 511.57,171.25 C511.59,170.88 511.56,170.65 511.66,170.37 C511.75,170.09 511.95,169.78 512.13,169.57 C512.3,169.36 512.52,169.18 512.72,169.09 C512.92,169.01 513.17,169.05 513.31,169.05 C513.44,169.05 513.49,169.05 513.52,169.09 C513.56,169.13 513.53,169.22 513.51,169.29 C513.49,169.35 513.49,169.41 513.4,169.49 C513.31,169.56 513.16,169.68 512.96,169.75 C512.77,169.82 512.49,169.91 512.21,169.92 C511.93,169.93 511.57,169.89 511.28,169.79 C510.99,169.7 510.74,169.52 510.45,169.35 C510.16,169.17 509.81,169.04 509.54,168.74 C509.26,168.45 509.01,167.99 508.8,167.57 C508.59,167.16 508.39,166.73 508.26,166.26 C508.12,165.79 508.02,165.25 508.01,164.77 C508,164.29 508.08,163.88 508.19,163.38 C508.31,162.88 508.6,162.05 508.68,161.79" fill="none" stroke="#de9160" stroke-width="0.72"/><path d="M469.3,188.64 C469.04,188.67 468.24,188.89 467.73,188.85 C467.21,188.82 466.65,188.61 466.22,188.44 C465.79,188.26 465.45,188.04 465.16,187.81 C464.87,187.58 464.63,187.31 464.47,187.05 C464.32,186.79 464.23,186.5 464.21,186.24 C464.2,185.98 464.17,185.81 464.36,185.5 C464.56,185.18 464.99,184.71 465.39,184.37 C465.79,184.03 466.38,183.7 466.78,183.47 C467.19,183.23 467.45,183.04 467.82,182.96 C468.18,182.89 468.63,182.95 468.96,183.02 C469.29,183.09 469.57,183.22 469.79,183.38 C470,183.55 470.2,183.85 470.25,184.02 C470.3,184.19 470.19,184.24 470.09,184.37 C470,184.5 469.89,184.69 469.67,184.8 C469.44,184.92 469.06,185.04 468.73,185.05 C468.39,185.07 468.02,185.02 467.64,184.89 C467.27,184.76 466.85,184.53 466.46,184.27 C466.08,184.02 465.67,183.73 465.35,183.36 C465.02,182.99 464.72,182.54 464.52,182.07 C464.31,181.59 464.19,181.03 464.11,180.49 C464.03,179.94 463.99,179.37 464.04,178.81 C464.09,178.25 464.23,177.65 464.4,177.13 C464.58,176.6 464.76,176.12 465.08,175.66 C465.4,175.2 465.84,174.69 466.32,174.34 C466.79,173.99 467.42,173.72 467.95,173.55 C468.49,173.38 468.96,173.29 469.51,173.33 C470.05,173.37 470.72,173.56 471.22,173.77 C471.73,173.98 472.15,174.23 472.52,174.59 C472.89,174.96 473.23,175.5 473.44,175.97 C473.65,176.43 473.73,176.95 473.79,177.37 C473.85,177.78 473.82,178.17 473.79,178.44 C473.76,178.71 473.7,178.85 473.62,178.99 C473.54,179.14 473.4,179.28 473.29,179.33 C473.18,179.38 473.08,179.39 472.94,179.3 C472.79,179.22 472.61,179.09 472.43,178.81 C472.25,178.53 471.99,178.11 471.86,177.64 C471.73,177.16 471.63,176.53 471.65,175.97 C471.68,175.41 471.82,174.86 472,174.28 C472.18,173.7 472.45,173 472.71,172.48 C472.96,171.97 473.24,171.58 473.53,171.18 C473.81,170.77 474.06,170.4 474.43,170.08 C474.79,169.77 475.33,169.48 475.74,169.28 C476.15,169.09 476.69,168.98 476.88,168.92" fill="none" stroke="#de9160" stroke-width="0.72"/><path d="M479,187.64 C478.92,187.6 478.61,187.54 478.49,187.4 C478.37,187.25 478.29,186.98 478.28,186.77 C478.27,186.56 478.3,186.33 478.41,186.13 C478.53,185.92 478.68,185.69 478.97,185.51 C479.26,185.33 479.77,185.1 480.15,185.04 C480.54,184.98 480.84,185.06 481.29,185.15 C481.74,185.23 482.39,185.36 482.84,185.55 C483.28,185.75 483.56,185.98 483.97,186.32 C484.38,186.66 484.96,187.17 485.3,187.61 C485.63,188.05 485.83,188.47 485.99,188.96 C486.16,189.46 486.31,190.03 486.3,190.6 C486.29,191.17 486.12,191.87 485.94,192.38 C485.77,192.9 485.61,193.28 485.26,193.69 C484.91,194.11 484.3,194.55 483.87,194.86 C483.43,195.17 483.04,195.41 482.63,195.56 C482.22,195.7 481.74,195.73 481.41,195.75 C481.07,195.78 480.82,195.81 480.61,195.72 C480.4,195.63 480.23,195.38 480.13,195.22 C480.04,195.07 480,194.89 480.04,194.78 C480.07,194.66 480.2,194.6 480.35,194.54 C480.5,194.48 480.67,194.45 480.94,194.42 C481.21,194.39 481.58,194.5 481.97,194.37 C482.35,194.25 482.77,193.84 483.24,193.65 C483.72,193.46 484.33,193.29 484.81,193.22 C485.3,193.16 485.77,193.17 486.18,193.24 C486.59,193.32 486.98,193.5 487.27,193.68 C487.57,193.85 487.78,194.07 487.94,194.28 C488.1,194.49 488.2,194.72 488.24,194.95 C488.28,195.17 488.24,195.49 488.17,195.63 C488.09,195.77 487.97,195.78 487.8,195.78 C487.63,195.77 487.39,195.7 487.16,195.58 C486.93,195.47 486.62,195.31 486.42,195.08 C486.22,194.85 486.06,194.53 485.95,194.2 C485.83,193.86 485.77,193.52 485.73,193.09 C485.7,192.66 485.64,192.12 485.73,191.61 C485.82,191.1 486.02,190.47 486.28,190.03 C486.53,189.59 486.84,189.31 487.26,188.97 C487.68,188.63 488.29,188.22 488.8,188.01 C489.3,187.79 489.74,187.74 490.29,187.68 C490.84,187.63 491.53,187.6 492.1,187.66 C492.66,187.73 493.19,187.89 493.68,188.09 C494.16,188.28 494.65,188.58 495.02,188.85 C495.39,189.12 495.75,189.55 495.89,189.69" fill="none" stroke="#de9160" stroke-width="0.72"/><path d="M488.92,185.83 C488.69,185.66 487.97,185.21 487.53,184.8 C487.09,184.4 486.59,183.92 486.26,183.42 C485.94,182.91 485.76,182.33 485.59,181.79 C485.42,181.25 485.3,180.7 485.26,180.2 C485.21,179.7 485.22,179.23 485.32,178.8 C485.43,178.36 485.65,177.92 485.88,177.61 C486.11,177.29 486.44,177.05 486.69,176.91 C486.94,176.77 487.19,176.77 487.37,176.78 C487.55,176.79 487.68,176.84 487.78,176.96 C487.89,177.07 487.96,177.29 487.99,177.47 C488.02,177.65 488.04,177.81 487.96,178.04 C487.88,178.27 487.76,178.5 487.52,178.86 C487.29,179.21 487.05,179.97 486.55,180.18 C486.05,180.39 485.06,180.07 484.5,180.1 C483.94,180.13 483.62,180.31 483.19,180.36 C482.76,180.42 482.37,180.42 481.91,180.41 C481.44,180.39 480.85,180.4 480.39,180.27 C479.92,180.14 479.48,179.9 479.1,179.63 C478.72,179.36 478.36,179.03 478.1,178.65 C477.84,178.28 477.67,177.8 477.55,177.39 C477.44,176.99 477.45,176.55 477.41,176.22 C477.37,175.89 477.28,175.69 477.34,175.41 C477.39,175.13 477.64,174.75 477.77,174.55 C477.89,174.34 477.96,174.24 478.08,174.17 C478.21,174.09 478.42,174.07 478.5,174.1 C478.57,174.14 478.58,174.25 478.54,174.38 C478.49,174.51 478.37,174.68 478.23,174.88 C478.09,175.08 477.94,175.32 477.73,175.58 C477.51,175.83 477.22,176.14 476.93,176.41 C476.63,176.69 476.33,176.95 475.97,177.23 C475.61,177.52 475.16,177.9 474.76,178.14 C474.35,178.39 473.95,178.56 473.55,178.71 C473.16,178.85 472.76,178.95 472.4,179.01 C472.04,179.07 471.72,179.1 471.41,179.06 C471.09,179.03 470.73,178.91 470.5,178.79 C470.27,178.68 470.11,178.49 470.03,178.38 C469.96,178.27 470.02,178.17 470.05,178.13 C470.09,178.1 470.13,178.14 470.24,178.17 C470.34,178.21 470.47,178.25 470.67,178.34 C470.87,178.42 471.22,178.54 471.43,178.7 C471.64,178.86 471.74,179.05 471.95,179.3 C472.17,179.56 472.48,179.89 472.73,180.21 C472.97,180.53 473.31,181.04 473.42,181.21" fill="none" stroke="#de9160" stroke-width="0.72"/><path d="M496.27,180.99 C496.36,180.7 496.54,179.75 496.77,179.23 C497,178.7 497.3,178.29 497.68,177.87 C498.06,177.45 498.63,177.03 499.05,176.71 C499.48,176.4 499.79,176.15 500.22,176 C500.65,175.85 501.3,175.84 501.64,175.83 C501.97,175.82 502.07,175.83 502.25,175.94 C502.44,176.06 502.64,176.33 502.73,176.51 C502.83,176.69 502.88,176.82 502.82,177.01 C502.77,177.21 502.67,177.44 502.41,177.68 C502.15,177.91 501.66,178.28 501.24,178.45 C500.83,178.61 500.38,178.65 499.92,178.68 C499.46,178.71 498.98,178.7 498.46,178.62 C497.95,178.54 497.4,178.39 496.85,178.18 C496.29,177.97 495.67,177.74 495.12,177.36 C494.57,176.98 493.97,176.46 493.57,175.91 C493.16,175.36 492.91,174.6 492.7,174.04 C492.49,173.49 492.31,173.12 492.29,172.58 C492.27,172.04 492.44,171.29 492.59,170.81 C492.74,170.32 492.98,169.94 493.19,169.66 C493.4,169.38 493.62,169.26 493.84,169.14 C494.05,169.02 494.24,168.93 494.48,168.95 C494.73,168.97 495.1,169.06 495.3,169.26 C495.5,169.46 495.65,169.85 495.66,170.16 C495.67,170.46 495.51,170.78 495.34,171.11 C495.18,171.43 495,171.72 494.68,172.08 C494.37,172.44 493.93,172.96 493.46,173.27 C493,173.57 492.48,173.76 491.9,173.92 C491.32,174.07 490.6,174.21 489.97,174.22 C489.34,174.22 488.69,174.09 488.13,173.92 C487.57,173.75 487.14,173.51 486.62,173.18 C486.1,172.84 485.44,172.32 485.01,171.91 C484.58,171.5 484.31,171.15 484.05,170.7 C483.8,170.26 483.6,169.68 483.5,169.23 C483.4,168.77 483.38,168.32 483.46,167.97 C483.53,167.61 483.73,167.34 483.94,167.11 C484.14,166.89 484.5,166.55 484.69,166.61 C484.89,166.68 484.98,167.26 485.11,167.5 C485.23,167.74 485.46,167.77 485.44,168.04 C485.42,168.31 485.12,168.83 484.97,169.11 C484.83,169.39 484.74,169.55 484.55,169.74 C484.35,169.93 484.1,170.12 483.8,170.26 C483.5,170.4 483.14,170.5 482.74,170.6 C482.34,170.71 481.61,170.84 481.39,170.89" fill="none" stroke="#de9160" stroke-width="0.72"/><path d="M506.93,181.96 C507.07,182.13 507.57,182.62 507.78,182.98 C507.99,183.33 508.1,183.7 508.18,184.09 C508.25,184.49 508.24,184.83 508.25,185.36 C508.25,185.89 508.34,186.63 508.2,187.26 C508.06,187.89 507.76,188.61 507.4,189.14 C507.05,189.67 506.54,190.07 506.07,190.43 C505.61,190.8 505.18,191.11 504.6,191.33 C504.02,191.54 503.18,191.65 502.58,191.72 C501.98,191.8 501.54,191.83 501.02,191.76 C500.5,191.7 499.9,191.54 499.46,191.34 C499.02,191.13 498.65,190.79 498.37,190.52 C498.09,190.26 497.9,190.07 497.79,189.75 C497.68,189.42 497.69,188.89 497.69,188.59 C497.68,188.3 497.65,188.17 497.74,187.97 C497.84,187.76 498.07,187.51 498.27,187.37 C498.47,187.23 498.73,187.13 498.94,187.11 C499.15,187.08 499.36,187.08 499.53,187.23 C499.71,187.38 499.91,187.73 499.99,188 C500.06,188.26 500.02,188.5 499.97,188.81 C499.92,189.13 499.86,189.49 499.69,189.87 C499.53,190.26 499.33,190.75 499.01,191.13 C498.69,191.51 498.23,191.87 497.78,192.15 C497.33,192.44 496.82,192.65 496.3,192.85 C495.78,193.05 495.26,193.29 494.66,193.36 C494.05,193.43 493.31,193.37 492.68,193.28 C492.04,193.19 491.38,193.03 490.83,192.8 C490.28,192.58 489.84,192.27 489.37,191.92 C488.9,191.57 488.26,191.18 487.99,190.7 C487.72,190.21 487.75,189.45 487.74,189.01 C487.73,188.56 487.81,188.31 487.92,188.04 C488.03,187.77 488.21,187.55 488.4,187.4 C488.6,187.25 488.84,187.13 489.1,187.14 C489.36,187.15 489.72,187.31 489.94,187.45 C490.17,187.59 490.29,187.73 490.45,187.98 C490.62,188.24 490.9,188.63 490.96,188.99 C491.01,189.36 490.95,189.71 490.8,190.18 C490.66,190.65 490.42,191.27 490.08,191.81 C489.74,192.35 489.24,192.95 488.75,193.43 C488.25,193.92 487.71,194.66 487.12,194.71 C486.53,194.76 485.69,193.81 485.2,193.72 C484.71,193.63 484.5,194.07 484.17,194.16 C483.83,194.26 483.45,194.26 483.17,194.27 C482.9,194.28 482.64,194.23 482.53,194.22" fill="none" stroke="#de9160" stroke-width="0.72"/><path d="M513.63,182.03 C513.69,181.97 513.88,181.72 513.99,181.65 C514.1,181.59 514.25,181.6 514.31,181.66 C514.36,181.71 514.35,181.87 514.3,181.99 C514.25,182.11 514.14,182.24 514,182.36 C513.86,182.49 513.69,182.65 513.47,182.72 C513.24,182.8 512.95,182.81 512.65,182.81 C512.36,182.81 512.05,182.79 511.69,182.72 C511.34,182.64 510.89,182.55 510.51,182.36 C510.13,182.18 509.71,181.93 509.39,181.62 C509.08,181.32 508.84,180.89 508.62,180.52 C508.41,180.15 508.26,179.82 508.1,179.4 C507.94,178.99 507.92,178.52 507.66,178.04 C507.4,177.56 506.67,177.02 506.52,176.52 C506.37,176.03 506.6,175.55 506.76,175.07 C506.92,174.58 507.14,173.89 507.47,173.6 C507.81,173.31 508.39,173.5 508.77,173.36 C509.14,173.21 509.39,172.9 509.73,172.75 C510.07,172.61 510.51,172.57 510.81,172.51 C511.1,172.45 511.3,172.37 511.5,172.4 C511.69,172.43 511.85,172.57 511.96,172.68 C512.06,172.78 512.19,172.9 512.14,173.02 C512.1,173.14 511.87,173.35 511.69,173.42 C511.52,173.48 511.31,173.44 511.07,173.4 C510.84,173.36 510.5,173.3 510.28,173.18 C510.05,173.06 509.96,172.91 509.73,172.68 C509.5,172.46 509.16,172.15 508.91,171.83 C508.66,171.52 508.4,171.18 508.22,170.81 C508.05,170.43 507.93,170.04 507.85,169.58 C507.78,169.13 507.72,168.55 507.75,168.08 C507.78,167.62 507.9,167.23 508.02,166.79 C508.14,166.34 508.3,165.83 508.47,165.41 C508.63,164.99 508.82,164.6 509.02,164.26 C509.23,163.92 509.46,163.61 509.7,163.36 C509.93,163.11 510.24,162.9 510.45,162.78 C510.66,162.66 510.81,162.64 510.97,162.63 C511.14,162.62 511.3,162.65 511.45,162.71 C511.59,162.77 511.78,162.9 511.82,162.99 C511.86,163.07 511.77,163.17 511.69,163.22 C511.62,163.27 511.54,163.28 511.37,163.31 C511.2,163.33 510.94,163.37 510.68,163.36 C510.42,163.34 510.12,163.31 509.83,163.21 C509.53,163.12 509.22,162.99 508.89,162.8 C508.56,162.6 508.03,162.17 507.86,162.04" fill="none" stroke="#de9160" stroke-width="0.72"/><path d="M481.22,193.41 C481.22,193.46 481.26,193.65 481.21,193.7 C481.17,193.75 481.09,193.71 480.94,193.72 C480.79,193.73 480.5,193.8 480.32,193.76 C480.14,193.72 480.02,193.6 479.87,193.46 C479.71,193.32 479.54,193.13 479.41,192.91 C479.27,192.69 479.14,192.41 479.08,192.14 C479.01,191.87 479.02,191.62 479.01,191.29 C479,190.95 478.99,190.55 479.02,190.14 C479.05,189.74 479.12,189.29 479.21,188.85 C479.29,188.42 479.37,187.96 479.54,187.51 C479.71,187.05 479.99,186.54 480.23,186.13 C480.47,185.71 480.73,185.36 480.99,185.04 C481.24,184.71 481.5,184.42 481.75,184.17 C482,183.92 482.22,183.7 482.49,183.55 C482.75,183.4 483.08,183.32 483.33,183.26 C483.58,183.21 483.84,183.21 483.98,183.21 C484.13,183.21 484.16,183.2 484.2,183.25 C484.23,183.3 484.28,183.37 484.22,183.49 C484.16,183.62 484,183.89 483.84,183.99 C483.68,184.09 483.48,184.08 483.26,184.08 C483.03,184.09 482.76,184.09 482.49,184.01 C482.22,183.93 481.94,183.78 481.63,183.61 C481.32,183.44 480.96,183.21 480.63,182.96 C480.3,182.72 479.99,182.49 479.63,182.15 C479.27,181.82 478.76,181.4 478.47,180.95 C478.17,180.5 477.95,179.97 477.84,179.45 C477.72,178.93 477.74,178.34 477.79,177.84 C477.84,177.34 478.01,176.87 478.15,176.45 C478.29,176.04 478.41,175.68 478.64,175.34 C478.87,175.01 479.22,174.7 479.52,174.46 C479.83,174.22 480.15,174.04 480.48,173.9 C480.8,173.77 481.11,173.64 481.47,173.65 C481.83,173.66 482.36,173.86 482.66,173.95 C482.96,174.04 483.13,174.09 483.29,174.19 C483.46,174.29 483.57,174.42 483.66,174.54 C483.75,174.66 483.8,174.77 483.83,174.9 C483.85,175.02 483.85,175.18 483.8,175.29 C483.75,175.39 483.63,175.52 483.53,175.55 C483.42,175.57 483.27,175.49 483.17,175.43 C483.08,175.38 483.02,175.35 482.95,175.2 C482.89,175.05 482.79,174.8 482.78,174.54 C482.77,174.28 482.79,173.95 482.88,173.65 C482.96,173.35 483.2,172.88 483.26,172.72" fill="none" stroke="#de9160" stroke-width="0.72"/><path d="M485.65,190.92 C485.74,190.74 486,190.16 486.2,189.84 C486.39,189.52 486.64,189.21 486.83,188.97 C487.02,188.73 487.18,188.54 487.35,188.39 C487.52,188.25 487.68,188.15 487.85,188.1 C488.01,188.04 488.23,188.03 488.35,188.05 C488.47,188.07 488.6,188.13 488.59,188.22 C488.57,188.32 488.44,188.5 488.28,188.61 C488.11,188.72 487.82,188.85 487.59,188.87 C487.36,188.89 487.15,188.81 486.9,188.73 C486.64,188.66 486.34,188.58 486.07,188.43 C485.8,188.27 485.51,188.06 485.26,187.8 C485.01,187.53 484.78,187.2 484.57,186.83 C484.37,186.46 484.14,186.01 484.03,185.57 C483.92,185.12 483.88,184.61 483.93,184.18 C483.97,183.76 484.1,183.42 484.3,183.03 C484.5,182.65 484.85,182.23 485.14,181.88 C485.43,181.53 485.72,181.22 486.04,180.92 C486.36,180.62 486.69,180.28 487.05,180.08 C487.42,179.87 487.88,179.76 488.23,179.68 C488.59,179.6 488.88,179.57 489.17,179.58 C489.46,179.59 489.74,179.67 489.97,179.74 C490.19,179.81 490.12,179.79 490.52,179.98 C490.93,180.18 492.15,180.67 492.41,180.92 C492.67,181.16 492.33,181.31 492.08,181.47 C491.83,181.64 491.35,181.88 490.93,181.91 C490.5,181.94 489.97,181.82 489.54,181.64 C489.1,181.47 488.71,181.19 488.31,180.88 C487.91,180.57 487.48,180.19 487.12,179.77 C486.76,179.36 486.43,178.93 486.15,178.4 C485.87,177.87 485.56,177.21 485.42,176.6 C485.28,175.99 485.28,175.36 485.32,174.74 C485.35,174.13 485.44,173.47 485.63,172.91 C485.82,172.35 486.07,171.88 486.45,171.39 C486.84,170.9 487.38,170.35 487.91,169.97 C488.44,169.6 489.04,169.32 489.63,169.14 C490.22,168.96 490.88,168.9 491.43,168.9 C491.98,168.9 492.5,169.02 492.92,169.11 C493.34,169.21 493.64,169.25 493.97,169.49 C494.31,169.73 494.7,170.19 494.94,170.55 C495.18,170.9 495.33,171.29 495.42,171.64 C495.5,171.98 495.46,172.36 495.43,172.63 C495.4,172.91 495.41,173.07 495.24,173.28 C495.06,173.5 494.52,173.81 494.37,173.91" fill="none" stroke="#de9160" stroke-width="0.72"/><path d="M494.51,190.34 C494.66,190.15 495.07,189.55 495.42,189.24 C495.77,188.93 496.13,188.7 496.59,188.46 C497.05,188.21 497.59,187.91 498.19,187.77 C498.79,187.64 499.57,187.61 500.17,187.66 C500.77,187.7 501.24,187.79 501.8,188.04 C502.37,188.28 503.07,188.74 503.54,189.1 C504.02,189.46 504.34,189.76 504.65,190.19 C504.97,190.63 505.22,191.25 505.41,191.73 C505.6,192.21 505.7,192.71 505.78,193.08 C505.87,193.44 505.96,193.62 505.9,193.92 C505.85,194.21 505.61,194.68 505.46,194.84 C505.3,195.01 505.15,194.95 504.96,194.91 C504.78,194.88 504.58,194.82 504.36,194.64 C504.14,194.46 503.81,194.16 503.65,193.86 C503.49,193.55 503.43,193.18 503.4,192.8 C503.38,192.42 503.39,191.98 503.52,191.58 C503.65,191.17 503.91,190.73 504.19,190.37 C504.47,190.02 504.78,189.73 505.21,189.43 C505.64,189.13 506.23,188.74 506.78,188.57 C507.33,188.4 507.9,188.38 508.53,188.41 C509.16,188.43 509.97,188.59 510.56,188.73 C511.15,188.88 511.57,189.02 512.09,189.27 C512.61,189.53 513.21,189.91 513.68,190.27 C514.15,190.62 514.81,191 514.92,191.38 C515.03,191.75 514.63,192.13 514.34,192.53 C514.05,192.94 513.67,193.48 513.19,193.83 C512.71,194.17 512.02,194.49 511.47,194.62 C510.93,194.74 510.45,194.79 509.91,194.59 C509.36,194.39 508.74,193.79 508.21,193.43 C507.67,193.08 507.11,192.82 506.7,192.44 C506.28,192.05 506.01,191.58 505.7,191.12 C505.4,190.66 505.06,190.17 504.88,189.66 C504.7,189.16 504.62,188.63 504.63,188.09 C504.63,187.56 504.76,186.94 504.92,186.45 C505.08,185.96 505.3,185.52 505.61,185.13 C505.92,184.75 506.4,184.39 506.77,184.14 C507.13,183.89 507.46,183.75 507.79,183.64 C508.12,183.52 508.41,183.41 508.73,183.43 C509.05,183.45 509.44,183.63 509.72,183.75 C510,183.87 510.21,183.99 510.4,184.16 C510.6,184.33 510.78,184.55 510.88,184.75 C510.98,184.94 511,185.15 511,185.34 C510.99,185.53 510.89,185.79 510.87,185.89" fill="none" stroke="#de9160" stroke-width="0.72"/><path d="M507.92,194.49 C507.8,194.42 507.44,194.26 507.17,194.07 C506.9,193.89 506.54,193.66 506.28,193.37 C506.03,193.09 505.79,192.73 505.64,192.38 C505.49,192.02 505.47,191.65 505.39,191.25 C505.32,190.86 505.24,190.44 505.19,189.98 C505.14,189.52 505.07,188.98 505.1,188.52 C505.13,188.05 505.19,187.64 505.36,187.19 C505.53,186.73 505.84,186.2 506.11,185.8 C506.38,185.39 506.68,185.05 506.96,184.76 C507.25,184.48 507.53,184.25 507.8,184.07 C508.07,183.89 508.35,183.77 508.59,183.68 C508.84,183.6 509.08,183.59 509.27,183.57 C509.45,183.55 509.6,183.52 509.69,183.55 C509.78,183.57 509.84,183.63 509.81,183.72 C509.77,183.81 509.63,184 509.47,184.1 C509.3,184.19 509.11,184.24 508.82,184.31 C508.54,184.38 508.13,184.53 507.76,184.53 C507.39,184.53 506.93,184.46 506.6,184.32 C506.26,184.18 506.1,183.96 505.78,183.7 C505.45,183.45 505.01,183.17 504.66,182.8 C504.31,182.43 503.91,181.97 503.68,181.49 C503.45,181.02 503.34,180.46 503.28,179.95 C503.22,179.43 503.27,178.89 503.32,178.4 C503.38,177.92 503.51,177.61 503.59,177.03 C503.66,176.45 503.53,175.45 503.78,174.94 C504.03,174.42 504.68,174.18 505.07,173.94 C505.46,173.7 505.78,173.57 506.13,173.49 C506.49,173.42 506.87,173.4 507.21,173.49 C507.54,173.59 507.89,173.88 508.12,174.08 C508.35,174.27 508.5,174.46 508.58,174.67 C508.66,174.88 508.68,175.11 508.62,175.35 C508.57,175.59 508.45,175.91 508.25,176.1 C508.05,176.29 507.68,176.42 507.42,176.47 C507.16,176.52 506.94,176.48 506.7,176.41 C506.46,176.33 506.2,176.22 505.97,176.02 C505.75,175.83 505.47,175.52 505.34,175.25 C505.21,174.97 504.97,174.72 505.19,174.36 C505.42,174.01 506.32,173.45 506.68,173.12 C507.05,172.8 507.11,172.63 507.39,172.4 C507.67,172.17 507.96,171.95 508.35,171.74 C508.74,171.54 509.28,171.28 509.71,171.17 C510.15,171.07 510.53,171.12 510.97,171.1 C511.41,171.09 512.12,171.09 512.34,171.09" fill="none" stroke="#de9160" stroke-width="0.72"/><path d="M446.5,164 C451,165 455,166 459,167" fill="none" stroke="#de9160" stroke-width="0.72"/><path d="M520,172 C525,173 530,173.5 534,173.6" fill="none" stroke="#de9160" stroke-width="0.72"/>
<path d="M351.5,48.7 L354.7,54.2 L351.5,59.7 L348.3,54.2 Z" fill="url(#dia)" stroke="#1030d0" stroke-width="0.4"/>
<path d="M372,49.3 L375.2,54.8 L372,60.3 L368.8,54.8 Z" fill="url(#dia)" stroke="#1030d0" stroke-width="0.4"/>
<path d="M339.2,57.3 L342.4,62.8 L339.2,68.3 L336,62.8 Z" fill="url(#dia)" stroke="#1030d0" stroke-width="0.4"/>
<path d="M348.6,72.4 L351.8,77.9 L348.6,83.4 L345.4,77.9 Z" fill="url(#dia)" stroke="#1030d0" stroke-width="0.4"/>
<path d="M370.6,72.4 L373.8,77.9 L370.6,83.4 L367.4,77.9 Z" fill="url(#dia)" stroke="#1030d0" stroke-width="0.4"/>
<path d="M387.6,76.7 L390.8,82.2 L387.6,87.7 L384.4,82.2 Z" fill="url(#dia)" stroke="#1030d0" stroke-width="0.4"/>
<path d="M337.8,87.2 L341,92.7 L337.8,98.2 L334.6,92.7 Z" fill="url(#dia)" stroke="#1030d0" stroke-width="0.4"/>
<path d="M364,89.2 L367.2,94.7 L364,100.2 L360.8,94.7 Z" fill="url(#dia)" stroke="#1030d0" stroke-width="0.4"/>
<path d="M382,94.9 L385.2,100.4 L382,105.9 L378.8,100.4 Z" fill="url(#dia)" stroke="#1030d0" stroke-width="0.4"/>
<circle cx="479" cy="137.9" r="3.1" fill="url(#rd)"/>
<circle cx="499.1" cy="136.9" r="3.1" fill="url(#rd)"/>
<circle cx="463.7" cy="145.3" r="3.1" fill="url(#rd)"/>
<circle cx="471.5" cy="160.6" r="3.1" fill="url(#rd)"/>
<circle cx="498.4" cy="160.6" r="3.1" fill="url(#rd)"/>
<circle cx="516.3" cy="168" r="3.1" fill="url(#rd)"/>
<circle cx="460.5" cy="177.1" r="3.1" fill="url(#rd)"/>
<circle cx="487.1" cy="180.1" r="3.1" fill="url(#rd)"/>
<circle cx="505" cy="185" r="3.1" fill="url(#rd)"/>
<path d="M327.3,209.3 C327.92,208.75 329.8,206.17 331,206 C332.2,205.83 333.28,207.5 334.5,208.3 C335.72,209.1 336.72,210.47 338.3,210.8 C339.88,211.13 342.05,210.68 344,210.3 C345.95,209.92 347.83,208.95 350,208.5 C352.17,208.05 354.57,207.92 357,207.6 C359.43,207.28 362.1,206.98 364.6,206.6 C367.1,206.22 369.77,205.83 372,205.3 C374.23,204.77 375.83,204.03 378,203.4 C380.17,202.77 382.57,202.15 385,201.5 C387.43,200.85 390.43,200.12 392.6,199.5 C394.77,198.88 396.37,198.33 398,197.8 C399.63,197.27 401.67,196.55 402.4,196.3" fill="none" stroke="#1c1ce0" stroke-width="6.2" stroke-linecap="round" stroke-linejoin="round"/><path d="M441,70.8 C442.17,70.08 445.67,67.55 448,66.5 C450.33,65.45 452.67,65.25 455,64.5 C457.33,63.75 459.5,62.92 462,62 C464.5,61.08 467.33,59.8 470,59 C472.67,58.2 475.5,57.8 478,57.2 C480.5,56.6 482.67,56 485,55.4 C487.33,54.8 489.5,54.07 492,53.6 C494.5,53.13 497.5,52.93 500,52.6 C502.5,52.27 504.5,51.85 507,51.6 C509.5,51.35 512.5,51.28 515,51.1 C517.5,50.92 520,50.6 522,50.5 C524,50.4 526.17,50.5 527,50.5" fill="none" stroke="#1c1ce0" stroke-width="6" stroke-linecap="round" stroke-linejoin="round"/><circle cx="327.04" cy="209.48" r="2.5" fill="url(#bd)"/><circle cx="328.49" cy="208.54" r="2.5" fill="url(#bd)"/><circle cx="330.07" cy="205.21" r="2.5" fill="url(#bd)"/><circle cx="330.81" cy="207.54" r="2.5" fill="url(#bd)"/><circle cx="332.53" cy="206.1" r="2.5" fill="url(#bd)"/><circle cx="334.75" cy="208.02" r="2.5" fill="url(#bd)"/><circle cx="336.07" cy="209.01" r="2.5" fill="url(#bd)"/><circle cx="337.35" cy="208.68" r="2.5" fill="url(#bd)"/><circle cx="338.9" cy="212.23" r="2.5" fill="url(#bd)"/><circle cx="340.55" cy="211.57" r="2.5" fill="url(#bd)"/><circle cx="342.46" cy="208.71" r="2.5" fill="url(#bd)"/><circle cx="344.31" cy="210.65" r="2.5" fill="url(#bd)"/><circle cx="345.54" cy="207.9" r="2.5" fill="url(#bd)"/><circle cx="347.8" cy="209.16" r="2.5" fill="url(#bd)"/><circle cx="349.35" cy="210.28" r="2.5" fill="url(#bd)"/><circle cx="351.07" cy="210.07" r="2.5" fill="url(#bd)"/><circle cx="352.51" cy="209.37" r="2.5" fill="url(#bd)"/><circle cx="354.31" cy="209.68" r="2.5" fill="url(#bd)"/><circle cx="356.5" cy="206.1" r="2.5" fill="url(#bd)"/><circle cx="357.51" cy="206.35" r="2.5" fill="url(#bd)"/><circle cx="360.1" cy="207" r="2.5" fill="url(#bd)"/><circle cx="361.51" cy="206.23" r="2.5" fill="url(#bd)"/><circle cx="363.15" cy="206.34" r="2.5" fill="url(#bd)"/><circle cx="364.74" cy="206.89" r="2.5" fill="url(#bd)"/><circle cx="366.72" cy="207.86" r="2.5" fill="url(#bd)"/><circle cx="368.56" cy="207.65" r="2.5" fill="url(#bd)"/><circle cx="370.48" cy="207.59" r="2.5" fill="url(#bd)"/><circle cx="372.04" cy="203.98" r="2.5" fill="url(#bd)"/><circle cx="373.92" cy="206.67" r="2.5" fill="url(#bd)"/><circle cx="375.65" cy="204.55" r="2.5" fill="url(#bd)"/><circle cx="377.14" cy="202.58" r="2.5" fill="url(#bd)"/><circle cx="378.96" cy="203.52" r="2.5" fill="url(#bd)"/><circle cx="380.12" cy="201.02" r="2.5" fill="url(#bd)"/><circle cx="382.39" cy="204.26" r="2.5" fill="url(#bd)"/><circle cx="383.34" cy="203.04" r="2.5" fill="url(#bd)"/><circle cx="385.37" cy="199.98" r="2.5" fill="url(#bd)"/><circle cx="386.96" cy="202" r="2.5" fill="url(#bd)"/><circle cx="389.25" cy="198.66" r="2.5" fill="url(#bd)"/><circle cx="390.71" cy="198.21" r="2.5" fill="url(#bd)"/><circle cx="392.52" cy="198.9" r="2.5" fill="url(#bd)"/><circle cx="394.38" cy="200.98" r="2.5" fill="url(#bd)"/><circle cx="395.69" cy="200.52" r="2.5" fill="url(#bd)"/><circle cx="397.18" cy="196.31" r="2.5" fill="url(#bd)"/><circle cx="399.15" cy="195.57" r="2.5" fill="url(#bd)"/><circle cx="400.42" cy="196.5" r="2.5" fill="url(#bd)"/><circle cx="402.51" cy="194.92" r="2.5" fill="url(#bd)"/><circle cx="435.54" cy="75.47" r="2.45" fill="url(#bd)"/><circle cx="437.52" cy="74.74" r="2.45" fill="url(#bd)"/><circle cx="439.81" cy="71.33" r="2.45" fill="url(#bd)"/><circle cx="441.08" cy="70.81" r="2.45" fill="url(#bd)"/><circle cx="442.99" cy="70.05" r="2.45" fill="url(#bd)"/><circle cx="444.63" cy="69.08" r="2.45" fill="url(#bd)"/><circle cx="446.74" cy="67.57" r="2.45" fill="url(#bd)"/><circle cx="447.96" cy="67.37" r="2.45" fill="url(#bd)"/><circle cx="449.72" cy="65.14" r="2.45" fill="url(#bd)"/><circle cx="452.41" cy="65.46" r="2.45" fill="url(#bd)"/><circle cx="453.93" cy="62.87" r="2.45" fill="url(#bd)"/><circle cx="455.72" cy="64.53" r="2.45" fill="url(#bd)"/><circle cx="457.24" cy="63.99" r="2.45" fill="url(#bd)"/><circle cx="459.76" cy="61.09" r="2.45" fill="url(#bd)"/><circle cx="461.66" cy="62.03" r="2.45" fill="url(#bd)"/><circle cx="463.61" cy="60.87" r="2.45" fill="url(#bd)"/><circle cx="465.54" cy="61.7" r="2.45" fill="url(#bd)"/><circle cx="466.75" cy="58.28" r="2.45" fill="url(#bd)"/><circle cx="469.3" cy="61.18" r="2.45" fill="url(#bd)"/><circle cx="470.82" cy="58.59" r="2.45" fill="url(#bd)"/><circle cx="473.14" cy="57.6" r="2.45" fill="url(#bd)"/><circle cx="474.88" cy="57.12" r="2.45" fill="url(#bd)"/><circle cx="476.87" cy="57.81" r="2.45" fill="url(#bd)"/><circle cx="478.77" cy="56.46" r="2.45" fill="url(#bd)"/><circle cx="481.2" cy="54.55" r="2.45" fill="url(#bd)"/><circle cx="482.96" cy="56.88" r="2.45" fill="url(#bd)"/><circle cx="484.66" cy="54.33" r="2.45" fill="url(#bd)"/><circle cx="487.12" cy="53.89" r="2.45" fill="url(#bd)"/><circle cx="488.47" cy="54.17" r="2.45" fill="url(#bd)"/><circle cx="490.94" cy="52.33" r="2.45" fill="url(#bd)"/><circle cx="492.54" cy="52.84" r="2.45" fill="url(#bd)"/><circle cx="495.07" cy="53.01" r="2.45" fill="url(#bd)"/><circle cx="497.1" cy="51.68" r="2.45" fill="url(#bd)"/><circle cx="498.59" cy="53.36" r="2.45" fill="url(#bd)"/><circle cx="501.15" cy="52.3" r="2.45" fill="url(#bd)"/><circle cx="502.49" cy="50.69" r="2.45" fill="url(#bd)"/><circle cx="504.8" cy="50.68" r="2.45" fill="url(#bd)"/><circle cx="507.09" cy="52.99" r="2.45" fill="url(#bd)"/><circle cx="508.48" cy="50.6" r="2.45" fill="url(#bd)"/><circle cx="511.13" cy="51.93" r="2.45" fill="url(#bd)"/><circle cx="513.15" cy="50.62" r="2.45" fill="url(#bd)"/><circle cx="514.5" cy="50.28" r="2.45" fill="url(#bd)"/><circle cx="517.18" cy="50.02" r="2.45" fill="url(#bd)"/><circle cx="518.75" cy="50.43" r="2.45" fill="url(#bd)"/><circle cx="520.84" cy="50.23" r="2.45" fill="url(#bd)"/><circle cx="523.37" cy="49.12" r="2.45" fill="url(#bd)"/><circle cx="524.48" cy="52.27" r="2.45" fill="url(#bd)"/><circle cx="527.38" cy="52.45" r="2.45" fill="url(#bd)"/><circle cx="424.5" cy="99.6" r="2.45" fill="url(#bd)"/><circle cx="423.2" cy="104.5" r="2.45" fill="url(#bd)"/><circle cx="421.5" cy="113.9" r="2.45" fill="url(#bd)"/><circle cx="419.4" cy="121" r="2.45" fill="url(#bd)"/><circle cx="416.2" cy="140.3" r="2.45" fill="url(#bd)"/><circle cx="414.1" cy="152.5" r="2.45" fill="url(#bd)"/><circle cx="413.1" cy="162.7" r="2.45" fill="url(#bd)"/><circle cx="411.3" cy="169.9" r="2.45" fill="url(#bd)"/><circle cx="409.6" cy="173.9" r="2.45" fill="url(#bd)"/><circle cx="408" cy="178" r="2.45" fill="url(#bd)"/><circle cx="406.4" cy="181.3" r="2.45" fill="url(#bd)"/><circle cx="404.8" cy="184.5" r="2.45" fill="url(#bd)"/><circle cx="403.1" cy="187.8" r="2.45" fill="url(#bd)"/><circle cx="401.5" cy="191" r="2.45" fill="url(#bd)"/><circle cx="399" cy="193.5" r="2.45" fill="url(#bd)"/><circle cx="404.8" cy="197.5" r="2.45" fill="url(#bd)"/><circle cx="408.5" cy="196" r="2.45" fill="url(#bd)"/><circle cx="412.9" cy="193.5" r="2.45" fill="url(#bd)"/><circle cx="426.7" cy="182.1" r="2.45" fill="url(#bd)"/><circle cx="431.4" cy="162.7" r="2.45" fill="url(#bd)"/><circle cx="433.5" cy="155.6" r="2.45" fill="url(#bd)"/><circle cx="435.1" cy="148.5" r="2.45" fill="url(#bd)"/><circle cx="436.5" cy="139.3" r="2.45" fill="url(#bd)"/><circle cx="439.5" cy="118.3" r="2.45" fill="url(#bd)"/><circle cx="441.5" cy="108.3" r="2.45" fill="url(#bd)"/><circle cx="443.3" cy="98.5" r="2.45" fill="url(#bd)"/><circle cx="444.5" cy="91.8" r="2.45" fill="url(#bd)"/><circle cx="445.6" cy="88.2" r="2.45" fill="url(#bd)"/><circle cx="447.4" cy="84" r="2.45" fill="url(#bd)"/><circle cx="449.1" cy="79.8" r="2.45" fill="url(#bd)"/><circle cx="451" cy="76" r="2.45" fill="url(#bd)"/><circle cx="452.6" cy="72.2" r="2.45" fill="url(#bd)"/><circle cx="455.4" cy="68.4" r="2.45" fill="url(#bd)"/>
<path d="M398,197.3 C398.85,197.02 400.88,196.52 403.1,195.6 C405.32,194.68 408.85,193.1 411.3,191.8 C413.75,190.5 416.1,189.1 417.8,187.8 C419.5,186.5 420.55,185.08 421.5,184 C422.45,182.92 422.88,182.97 423.5,181.3 C424.12,179.63 424.78,176.72 425.2,174 C425.62,171.28 425.73,169 426,165 C426.27,161 426.57,155 426.8,150 C427.03,145 427.2,140 427.4,135 C427.6,130 427.8,125 428,120 C428.2,115 428.35,109.67 428.6,105 C428.85,100.33 429.1,95.5 429.5,92 C429.9,88.5 430.23,86.28 431,84 C431.77,81.72 433.07,79.77 434.1,78.3 C435.13,76.83 436.07,76.12 437.2,75.2 C438.33,74.28 439.68,73.6 440.9,72.8 C442.12,72 443.28,71.22 444.5,70.4 C445.72,69.58 447.08,68.62 448.2,67.9 C449.32,67.18 450.07,66.7 451.2,66.1 C452.33,65.5 454.37,64.6 455,64.3" fill="none" stroke="#f01010" stroke-width="5.4" stroke-linecap="round" stroke-linejoin="round"/><circle cx="397.7" cy="196.8" r="0.75" fill="#ffc8c8"/><circle cx="400.28" cy="195.94" r="0.75" fill="#ffc8c8"/><circle cx="402.85" cy="195.08" r="0.75" fill="#ffc8c8"/><circle cx="405.32" cy="193.93" r="0.75" fill="#ffc8c8"/><circle cx="407.78" cy="192.79" r="0.75" fill="#ffc8c8"/><circle cx="410.24" cy="191.65" r="0.75" fill="#ffc8c8"/><circle cx="412.6" cy="190.31" r="0.75" fill="#ffc8c8"/><circle cx="414.92" cy="188.89" r="0.75" fill="#ffc8c8"/><circle cx="417.23" cy="187.47" r="0.75" fill="#ffc8c8"/><circle cx="419.17" cy="185.58" r="0.75" fill="#ffc8c8"/><circle cx="421.07" cy="183.64" r="0.75" fill="#ffc8c8"/><circle cx="422.7" cy="181.47" r="0.75" fill="#ffc8c8"/><circle cx="423.63" cy="178.97" r="0.75" fill="#ffc8c8"/><circle cx="424.24" cy="176.32" r="0.75" fill="#ffc8c8"/><circle cx="424.86" cy="173.68" r="0.75" fill="#ffc8c8"/><circle cx="425.12" cy="170.97" r="0.75" fill="#ffc8c8"/><circle cx="425.36" cy="168.27" r="0.75" fill="#ffc8c8"/><circle cx="425.61" cy="165.56" r="0.75" fill="#ffc8c8"/><circle cx="425.79" cy="162.85" r="0.75" fill="#ffc8c8"/><circle cx="425.93" cy="160.14" r="0.75" fill="#ffc8c8"/><circle cx="426.08" cy="157.43" r="0.75" fill="#ffc8c8"/><circle cx="426.22" cy="154.72" r="0.75" fill="#ffc8c8"/><circle cx="426.37" cy="152.01" r="0.75" fill="#ffc8c8"/><circle cx="426.51" cy="149.29" r="0.75" fill="#ffc8c8"/><circle cx="426.62" cy="146.58" r="0.75" fill="#ffc8c8"/><circle cx="426.73" cy="143.87" r="0.75" fill="#ffc8c8"/><circle cx="426.83" cy="141.15" r="0.75" fill="#ffc8c8"/><circle cx="426.94" cy="138.44" r="0.75" fill="#ffc8c8"/><circle cx="427.05" cy="135.72" r="0.75" fill="#ffc8c8"/><circle cx="427.16" cy="133.01" r="0.75" fill="#ffc8c8"/><circle cx="427.27" cy="130.3" r="0.75" fill="#ffc8c8"/><circle cx="427.38" cy="127.58" r="0.75" fill="#ffc8c8"/><circle cx="427.49" cy="124.87" r="0.75" fill="#ffc8c8"/><circle cx="427.59" cy="122.15" r="0.75" fill="#ffc8c8"/><circle cx="427.7" cy="119.44" r="0.75" fill="#ffc8c8"/><circle cx="427.81" cy="116.73" r="0.75" fill="#ffc8c8"/><circle cx="427.92" cy="114.01" r="0.75" fill="#ffc8c8"/><circle cx="428.03" cy="111.3" r="0.75" fill="#ffc8c8"/><circle cx="428.14" cy="108.58" r="0.75" fill="#ffc8c8"/><circle cx="428.25" cy="105.87" r="0.75" fill="#ffc8c8"/><circle cx="428.39" cy="103.16" r="0.75" fill="#ffc8c8"/><circle cx="428.58" cy="100.45" r="0.75" fill="#ffc8c8"/><circle cx="428.77" cy="97.74" r="0.75" fill="#ffc8c8"/><circle cx="428.96" cy="95.03" r="0.75" fill="#ffc8c8"/><circle cx="429.14" cy="92.32" r="0.75" fill="#ffc8c8"/><circle cx="429.55" cy="89.64" r="0.75" fill="#ffc8c8"/><circle cx="430.05" cy="86.97" r="0.75" fill="#ffc8c8"/><circle cx="430.55" cy="84.3" r="0.75" fill="#ffc8c8"/><circle cx="431.61" cy="81.83" r="0.75" fill="#ffc8c8"/><circle cx="432.91" cy="79.44" r="0.75" fill="#ffc8c8"/><circle cx="434.4" cy="77.2" r="0.75" fill="#ffc8c8"/><circle cx="436.32" cy="75.28" r="0.75" fill="#ffc8c8"/><circle cx="438.49" cy="73.67" r="0.75" fill="#ffc8c8"/><circle cx="440.77" cy="72.19" r="0.75" fill="#ffc8c8"/><circle cx="443.03" cy="70.68" r="0.75" fill="#ffc8c8"/><circle cx="445.28" cy="69.17" r="0.75" fill="#ffc8c8"/><circle cx="447.53" cy="67.65" r="0.75" fill="#ffc8c8"/><circle cx="449.85" cy="66.23" r="0.75" fill="#ffc8c8"/><circle cx="452.25" cy="64.96" r="0.75" fill="#ffc8c8"/><circle cx="454.7" cy="63.8" r="0.75" fill="#ffc8c8"/>
<circle cx="343.8" cy="209.7" r="2.7" fill="url(#rd)"/>
<circle cx="360.7" cy="206.9" r="2.7" fill="url(#rd)"/>
<circle cx="377.6" cy="203.2" r="2.7" fill="url(#rd)"/>
<circle cx="393.9" cy="198.3" r="2.7" fill="url(#rd)"/>
<circle cx="402.4" cy="195.2" r="2.7" fill="url(#rd)"/>
<circle cx="461.7" cy="62.6" r="2.7" fill="url(#rd)"/>
<circle cx="478.2" cy="57.6" r="2.7" fill="url(#rd)"/>
<circle cx="495.4" cy="53.9" r="2.7" fill="url(#rd)"/>
<circle cx="511.8" cy="51.5" r="2.7" fill="url(#rd)"/>
<path d="M390.03,105.75 L407.41,116.31 L405.62,119.26 L417.5,118 L413.15,106.87 L411.36,109.82 L393.97,99.25 Z" fill="url(#barr)"/>
<path d="M459,138.27 L441.08,127.17 L442.89,124.24 L431,125.4 L435.26,136.57 L437.08,133.63 L455,144.73 Z" fill="#f01414"/>
<circle cx="532.5" cy="50.6" r="5.8" fill="url(#gc)"/><text x="532.5" y="53.300000000000004" font-family="Liberation Sans" font-weight="bold" font-style="italic" font-size="7.6" fill="#fff" text-anchor="middle">Ms</text>
<circle cx="430.6" cy="81.3" r="5.6" fill="url(#gc)"/><text x="430.6" y="84.0" font-family="Liberation Sans" font-weight="bold" font-style="italic" font-size="7.6" fill="#fff" text-anchor="middle">Mr</text>
<circle cx="420.6" cy="131.1" r="5.3" fill="url(#gc)"/><text x="420.6" y="133.79999999999998" font-family="Liberation Sans" font-weight="bold" font-style="italic" font-size="7.6" fill="#fff" text-anchor="middle">Hc</text>
</svg>
</body></html>
